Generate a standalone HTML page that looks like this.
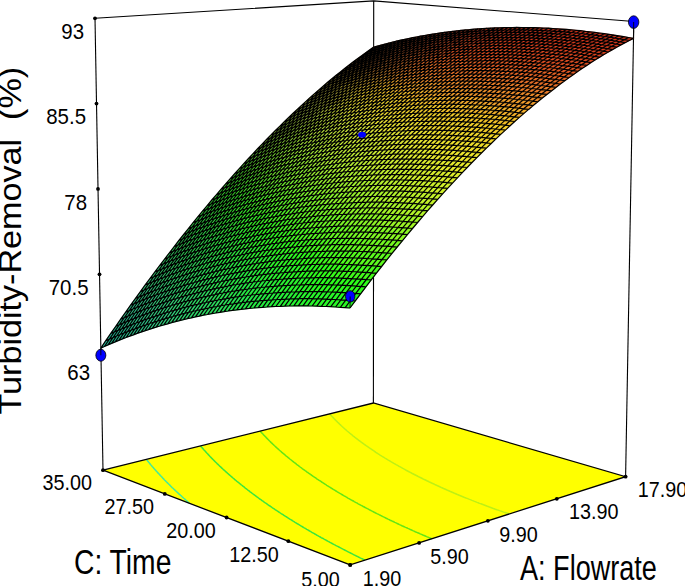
<!DOCTYPE html><html><head><meta charset="utf-8"><style>html,body{margin:0;padding:0;background:#fff;overflow:hidden}svg{display:block}</style></head><body><svg width="685" height="586" viewBox="0 0 685 586"><polygon points="350.2,564.9 103,470.2 373.4,403 625.6,476.7" fill="#ffff00"/><polyline points="189.7,503.4 189.2,503 188.5,502.4 187.8,501.8 187.6,501.6 187.1,501.2 186.5,500.6 185.8,500 185.5,499.8 185.1,499.4 184.5,498.8 183.8,498.3 183.5,498 183.1,497.7 182.5,497.1 181.8,496.5 181.6,496.3 181.2,495.9 180.5,495.3 179.9,494.7 179.7,494.6 179.2,494.2 178.6,493.6 178,493 177.9,492.9 177.3,492.4 176.7,491.8 176.1,491.2 176.1,491.2 175.5,490.7 174.9,490.1 174.4,489.6 174.3,489.5 173.6,488.9 173,488.3 172.7,488 172.4,487.8 171.8,487.2 171.2,486.6 171,486.4 170.6,486 170.1,485.4 169.5,484.9 169.4,484.8 168.9,484.3 168.3,483.7 167.9,483.3 167.7,483.1 167.2,482.6 166.6,482 166.3,481.7 166,481.4 165.5,480.8 164.9,480.3 164.8,480.2 164.3,479.7 163.8,479.1 163.4,478.7 163.2,478.6 162.7,478 162.1,477.4 162,477.2 161.6,476.8 161.1,476.3 160.6,475.8 160.5,475.7 160,475.1 159.5,474.6 159.3,474.3 159,474 158.4,473.4 157.9,472.9 157.9,472.9 157.4,472.3 156.9,471.7 156.7,471.5 156.4,471.2 155.9,470.6 155.4,470.1 155.4,470 154.9,469.5 154.4,468.9 154.2,468.7 153.9,468.4 153.4,467.8 153,467.4 152.9,467.2 152.4,466.7 151.9,466.1 151.8,466 151.5,465.6 151,465 150.7,464.7 150.5,464.4 150,463.9 149.6,463.3 149.6,463.3 149.1,462.8 148.7,462.2 148.5,462 148.2,461.6 147.7,461.1 147.5,460.7 147.3,460.5 146.8,460 146.4,459.5 146.4,459.4" fill="none" stroke="#46eb96" stroke-width="1.5"/><polyline points="365,560.2 363.8,559.6 362.6,559 361.3,558.4 360.1,557.8 359.6,557.5 358.9,557.2 357.7,556.6 356.4,556 355.2,555.4 354,554.8 352.8,554.2 351.7,553.6 350.5,553 350.5,553 349.3,552.4 348.1,551.8 346.9,551.2 345.8,550.6 344.6,550 343.4,549.4 342.5,548.9 342.3,548.8 341.1,548.2 340,547.6 338.9,547 337.7,546.4 336.6,545.9 335.5,545.3 335.3,545.2 334.3,544.7 333.2,544.1 332.1,543.5 331,542.9 329.9,542.3 328.8,541.7 328.7,541.6 327.7,541.1 326.6,540.5 325.5,539.9 324.4,539.3 323.4,538.7 322.6,538.3 322.3,538.2 321.2,537.6 320.2,537 319.1,536.4 318.1,535.8 317,535.2 316.9,535.2 316,534.6 314.9,534 313.9,533.4 312.8,532.8 311.8,532.3 311.6,532.1 310.8,531.7 309.8,531.1 308.8,530.5 307.8,529.9 306.7,529.3 306.7,529.3 305.7,528.7 304.7,528.1 303.8,527.6 302.8,527 302,526.5 301.8,526.4 300.8,525.8 299.8,525.2 298.9,524.6 297.9,524 297.6,523.8 296.9,523.5 296,522.9 295,522.3 294.1,521.7 293.4,521.3 293.1,521.1 292.2,520.5 291.2,519.9 290.3,519.4 289.4,518.8 289.4,518.8 288.4,518.2 287.5,517.6 286.6,517 285.7,516.5 285.6,516.4 284.8,515.9 283.9,515.3 283,514.7 282.1,514.1 281.9,514 281.2,513.6 280.3,513 279.4,512.4 278.5,511.8 278.4,511.8 277.6,511.2 276.8,510.7 275.9,510.1 275.1,509.6 275,509.5 274.2,508.9 273.3,508.3 272.5,507.8 271.9,507.4 271.6,507.2 270.8,506.6 269.9,506 269.1,505.5 268.8,505.3 268.2,504.9 267.4,504.3 266.6,503.7 265.8,503.2 265.8,503.2 264.9,502.6 264.1,502 263.3,501.5 263,501.2 262.5,500.9 261.7,500.3 260.9,499.7 260.2,499.2 260.1,499.2 259.3,498.6 258.5,498 257.8,497.4 257.6,497.3 257,496.9 256.2,496.3 255.4,495.7 255,495.4 254.7,495.2 253.9,494.6 253.1,494 252.5,493.6 252.4,493.5 251.6,492.9 250.9,492.3 250.1,491.8 250.1,491.8 249.4,491.2 248.6,490.6 247.9,490.1 247.8,490 247.2,489.5 246.4,488.9 245.7,488.4 245.5,488.2 245,487.8 244.3,487.2 243.6,486.7 243.3,486.5 242.9,486.1 242.2,485.5 241.5,485 241.2,484.8 240.8,484.4 240.1,483.9 239.4,483.3 239.2,483.1 238.7,482.7 238,482.2 237.3,481.6 237.2,481.5 236.6,481.1 236,480.5 235.3,479.9 235.2,479.9 234.6,479.4 234,478.8 233.3,478.3 233.3,478.3 232.7,477.7 232,477.1 231.5,476.7 231.4,476.6 230.7,476 230.1,475.5 229.7,475.2 229.4,474.9 228.8,474.4 228.2,473.8 228,473.7 227.5,473.2 226.9,472.7 226.3,472.2 226.3,472.1 225.7,471.6 225.1,471 224.7,470.7 224.5,470.5 223.8,469.9 223.2,469.4 223.1,469.2 222.6,468.8 222.1,468.3 221.5,467.8 221.5,467.7 220.9,467.2 220.3,466.6 220,466.3 219.7,466.1 219.1,465.5 218.5,465 218.5,464.9 218,464.4 217.4,463.9 217.1,463.6 216.8,463.3 216.3,462.8 215.7,462.2 215.7,462.2 215.2,461.7 214.6,461.1 214.3,460.8 214.1,460.6 213.5,460 213,459.5 213,459.5 212.4,458.9 211.9,458.4 211.7,458.2 211.4,457.9 210.9,457.3 210.4,456.9 210.3,456.8 209.8,456.2 209.3,455.7 209.2,455.6 208.8,455.1 208.3,454.6 208,454.3 207.8,454 207.3,453.5 206.8,453 206.8,453 206.3,452.4 205.8,451.9 205.7,451.8 205.3,451.3 204.8,450.8 204.5,450.5 204.3,450.3 203.8,449.7 203.4,449.3 203.3,449.2 202.9,448.6 202.4,448.1 202.4,448.1 201.9,447.6 201.5,447 201.3,446.9 201,446.5 200.5,446" fill="none" stroke="#3ce63c" stroke-width="1.5"/><polyline points="431.8,538.8 430.5,538.2 429.2,537.7 428.7,537.5 427.9,537.1 426.6,536.6 425.3,536 424.1,535.5 422.8,535 421.5,534.4 420.2,533.9 419,533.3 417.7,532.8 416.5,532.2 415.9,532 415.2,531.7 414,531.1 412.8,530.6 411.5,530 410.3,529.5 409.1,528.9 407.9,528.4 406.7,527.8 405.6,527.4 405.4,527.3 404.2,526.7 403.1,526.2 401.9,525.7 400.7,525.1 399.5,524.6 398.3,524 397.2,523.5 396.9,523.3 396,522.9 394.8,522.4 393.7,521.8 392.5,521.3 391.4,520.7 390.2,520.2 389.2,519.7 389.1,519.6 388,519.1 386.8,518.5 385.7,518 384.6,517.4 383.5,516.9 382.4,516.3 382.4,516.3 381.3,515.8 380.2,515.2 379.1,514.7 378,514.1 376.9,513.6 376.1,513.2 375.8,513.1 374.8,512.5 373.7,512 372.6,511.4 371.6,510.9 370.5,510.3 370.4,510.3 369.5,509.8 368.4,509.2 367.4,508.7 366.3,508.1 365.3,507.6 365.1,507.5 364.3,507 363.2,506.5 362.2,505.9 361.2,505.4 360.2,504.8 360.2,504.8 359.2,504.3 358.2,503.8 357.2,503.2 356.2,502.7 355.5,502.3 355.2,502.1 354.2,501.6 353.3,501 352.3,500.5 351.3,499.9 351.2,499.9 350.3,499.4 349.4,498.8 348.4,498.3 347.5,497.8 347.1,497.5 346.5,497.2 345.6,496.7 344.6,496.1 343.7,495.6 343.2,495.3 342.8,495 341.8,494.5 340.9,493.9 340,493.4 339.5,493.1 339.1,492.9 338.2,492.3 337.3,491.8 336.4,491.2 335.9,491 335.5,490.7 334.6,490.1 333.7,489.6 332.8,489.1 332.6,488.9 331.9,488.5 331.1,488 330.2,487.4 329.3,486.9 329.3,486.9 328.5,486.3 327.6,485.8 326.7,485.3 326.3,485 325.9,484.7 325,484.2 324.2,483.6 323.4,483.1 323.3,483.1 322.5,482.5 321.7,482 320.9,481.5 320.5,481.2 320.1,480.9 319.2,480.4 318.4,479.8 317.7,479.4 317.6,479.3 316.8,478.8 316,478.2 315.2,477.7 315.1,477.6 314.4,477.2 313.6,476.6 312.8,476.1 312.6,475.9 312.1,475.5 311.3,475 310.5,474.5 310.1,474.2 309.7,473.9 309,473.4 308.2,472.8 307.7,472.5 307.5,472.3 306.7,471.8 306,471.2 305.5,470.9 305.2,470.7 304.5,470.2 303.7,469.6 303.2,469.3 303,469.1 302.3,468.6 301.5,468 301.1,467.7 300.8,467.5 300.1,467 299.4,466.4 299,466.1 298.7,465.9 298,465.3 297.3,464.8 297,464.6 296.6,464.3 295.9,463.7 295.2,463.2 295.1,463.1 294.5,462.7 293.8,462.1 293.2,461.7 293.1,461.6 292.5,461.1 291.8,460.5 291.4,460.2 291.1,460 290.5,459.5 289.8,459 289.6,458.8 289.2,458.4 288.5,457.9 287.9,457.4 287.9,457.4 287.2,456.8 286.6,456.3 286.2,456 285.9,455.8 285.3,455.2 284.7,454.7 284.6,454.6 284.1,454.2 283.4,453.7 283,453.3 282.8,453.1 282.2,452.6 281.6,452.1 281.4,451.9 281,451.5 280.4,451 279.9,450.6 279.8,450.5 279.2,450 278.6,449.4 278.5,449.3 278,448.9 277.4,448.4 277.1,448 276.8,447.8 276.3,447.3 275.7,446.8 275.7,446.8 275.1,446.3 274.6,445.7 274.3,445.5 274,445.2 273.4,444.7 273,444.3 272.9,444.2 272.3,443.6 271.8,443.1 271.8,443.1 271.2,442.6 270.7,442.1 270.5,441.9 270.2,441.5 269.6,441 269.3,440.7 269.1,440.5 268.6,440 268.1,439.5 268.1,439.5 267.5,438.9 267,438.4 267,438.4 266.5,437.9 266,437.4 265.9,437.2 265.5,436.8 265,436.3 264.8,436.1 264.5,435.8 264,435.3 263.7,434.9 263.5,434.8 263.1,434.2 262.7,433.8 262.6,433.7 262.1,433.2 261.7,432.7 261.6,432.7 261.1,432.2 260.7,431.6 260.7,431.6 260.2,431.1" fill="none" stroke="#64e614" stroke-width="1.5"/><polyline points="509.3,514 507.9,513.5 506.5,513 505.1,512.5 503.7,512.1 502.3,511.6 501.5,511.3 500.9,511.1 499.5,510.6 498.2,510.1 496.8,509.7 495.4,509.2 494.1,508.7 492.7,508.2 491.4,507.7 490.1,507.2 488.8,506.8 487.4,506.3 486.1,505.8 484.8,505.3 483.5,504.8 482.2,504.3 480.9,503.8 479.6,503.4 478.3,502.9 478.3,502.8 477.1,502.4 475.8,501.9 474.5,501.4 473.3,500.9 472,500.4 470.8,499.9 469.5,499.4 468.3,498.9 467.1,498.4 465.9,498 465.4,497.8 464.6,497.5 463.4,497 462.2,496.5 461,496 459.8,495.5 458.6,495 457.4,494.5 456.3,494 455.6,493.7 455.1,493.5 453.9,493 452.8,492.5 451.6,492 450.4,491.5 449.3,491 448.2,490.5 447.4,490.2 447,490 445.9,489.5 444.8,489 443.6,488.5 442.5,488 441.4,487.5 440.4,487.1 440.3,487 439.2,486.5 438.1,486 437,485.5 435.9,485 434.8,484.5 434.2,484.2 433.8,484 432.7,483.5 431.6,483 430.6,482.5 429.5,482 428.6,481.6 428.5,481.5 427.4,481 426.4,480.5 425.4,480 424.3,479.5 423.4,479.1 423.3,479 422.3,478.5 421.3,478 420.3,477.5 419.2,477 418.7,476.7 418.2,476.5 417.3,476 416.3,475.5 415.3,475 414.3,474.5 414.3,474.5 413.3,474 412.3,473.5 411.4,473 410.4,472.5 410.2,472.3 409.5,472 408.5,471.5 407.6,471 406.6,470.5 406.3,470.3 405.7,470 404.8,469.4 403.8,468.9 402.9,468.4 402.7,468.3 402,467.9 401.1,467.4 400.2,466.9 399.3,466.4 399.2,466.4 398.4,465.9 397.5,465.4 396.6,464.9 396,464.6 395.7,464.4 394.8,463.9 393.9,463.4 393.1,462.9 392.9,462.8 392.2,462.4 391.3,461.9 390.5,461.4 389.9,461 389.6,460.9 388.8,460.3 387.9,459.8 387.1,459.3 387.1,459.3 386.3,458.8 385.4,458.3 384.6,457.8 384.4,457.7 383.8,457.3 383,456.8 382.2,456.3 381.8,456.1 381.3,455.8 380.5,455.3 379.7,454.8 379.3,454.5 379,454.3 378.2,453.8 377.4,453.3 376.9,453 376.6,452.8 375.8,452.3 375.1,451.7 374.6,451.5 374.3,451.2 373.5,450.7 372.8,450.2 372.4,450 372,449.7 371.3,449.2 370.5,448.7 370.3,448.6 369.8,448.2 369,447.7 368.3,447.2 368.3,447.1 367.6,446.7 366.9,446.2 366.3,445.8 366.1,445.7 365.4,445.2 364.7,444.7 364.4,444.4 364,444.2 363.3,443.6 362.6,443.1 362.5,443.1 361.9,442.6 361.2,442.1 360.7,441.7 360.6,441.6 359.9,441.1 359.2,440.6 359,440.5 358.5,440.1 357.9,439.6 357.3,439.2 357.2,439.1 356.6,438.6 355.9,438.1 355.7,437.9 355.3,437.6 354.6,437.1 354.1,436.7 354,436.6 353.3,436.1 352.7,435.6 352.6,435.5 352.1,435 351.5,434.5 351.1,434.3 350.8,434 350.2,433.5 349.7,433.1 349.6,433 349,432.5 348.4,432 348.3,431.9 347.8,431.5 347.2,431 347,430.8 346.6,430.5 346.1,430 345.7,429.6 345.5,429.5 344.9,429 344.4,428.5 344.3,428.5 343.8,428 343.2,427.5 343.1,427.4 342.7,427 342.1,426.5 341.9,426.3 341.6,426 341,425.5 340.8,425.2 340.5,424.9 339.9,424.4 339.7,424.2 339.4,423.9 338.9,423.4 338.6,423.1 338.4,422.9 337.8,422.4 337.5,422.1 337.3,421.9 336.8,421.4 336.4,421 336.3,420.9 335.8,420.4 335.4,420 335.3,419.9 334.8,419.4 334.5,419 334.3,418.9 333.8,418.4 333.5,418 333.4,417.9 332.9,417.4 332.6,417 332.4,416.9 332,416.4 331.7,416.1 331.5,415.9 331,415.4 330.8,415.1 330.6,414.9 330.1,414.4 329.9,414.1 329.7,413.9" fill="none" stroke="#bef014" stroke-width="1.5"/><polygon points="350.2,564.9 103,470.2 373.4,403 625.6,476.7" fill="none" stroke="#000" stroke-width="1.3"/><line x1="103" y1="470.2" x2="95" y2="18.3" stroke="#000" stroke-width="1.1"/><line x1="373.4" y1="403" x2="373.7" y2="0.9" stroke="#000" stroke-width="1.1"/><line x1="625.6" y1="476.7" x2="633.8" y2="21.5" stroke="#000" stroke-width="1.1"/><polyline points="95,18.3 373.7,0.9 633.8,21.5" fill="none" stroke="#000" stroke-width="1.1"/><circle cx="350.2" cy="564.9" r="1.9" fill="#000"/><circle cx="350.2" cy="564.9" r="1.9" fill="#000"/><circle cx="288.4" cy="541.2" r="1.9" fill="#000"/><circle cx="419.1" cy="542.9" r="1.9" fill="#000"/><circle cx="226.6" cy="517.5" r="1.9" fill="#000"/><circle cx="487.9" cy="520.8" r="1.9" fill="#000"/><circle cx="164.8" cy="493.9" r="1.9" fill="#000"/><circle cx="556.8" cy="498.8" r="1.9" fill="#000"/><circle cx="103" cy="470.2" r="1.9" fill="#000"/><circle cx="625.6" cy="476.7" r="1.9" fill="#000"/><circle cx="99.5" cy="274.3" r="1.9" fill="#000"/><circle cx="98" cy="188.9" r="1.9" fill="#000"/><circle cx="96.5" cy="103.6" r="1.9" fill="#000"/><circle cx="95" cy="18.3" r="1.9" fill="#000"/><path d="M373 50.7 381.3 45 373.7 47.1 365.4 52.9Z" fill="#7b4626" stroke="#7b4626" stroke-width="0.6"/><path d="M364.7 56.8 373 50.7 365.4 52.9 357.1 58.9Z" fill="#7e4d29" stroke="#7e4d29" stroke-width="0.6"/><path d="M380.7 48.7 389 43 381.3 45 373 50.7Z" fill="#7a4225" stroke="#7a4225" stroke-width="0.6"/><path d="M356.4 63 364.7 56.8 357.1 58.9 348.8 65.3Z" fill="#81552b" stroke="#81552b" stroke-width="0.6"/><path d="M372.4 54.7 380.7 48.7 373 50.7 364.7 56.8Z" fill="#7d4928" stroke="#7d4928" stroke-width="0.6"/><path d="M388.5 46.8 396.7 41.1 389 43 380.7 48.7Z" fill="#783e24" stroke="#783e24" stroke-width="0.6"/><path d="M348 69.6 356.4 63 348.8 65.3 340.4 71.9Z" fill="#87642f" stroke="#87642f" stroke-width="0.6"/><path d="M364 60.9 372.4 54.7 364.7 56.8 356.4 63Z" fill="#80512a" stroke="#80512a" stroke-width="0.6"/><path d="M380.2 52.7 388.5 46.8 380.7 48.7 372.4 54.7Z" fill="#7b4526" stroke="#7b4526" stroke-width="0.6"/><path d="M396.3 45 404.6 39.4 396.7 41.1 388.5 46.8Z" fill="#773a22" stroke="#773a22" stroke-width="0.6"/><path d="M339.5 76.5 348 69.6 340.4 71.9 331.9 78.8Z" fill="#907732" stroke="#907732" stroke-width="0.6"/><path d="M355.6 67.4 364 60.9 356.4 63 348 69.6Z" fill="#8b612d" stroke="#8b612d" stroke-width="0.6"/><path d="M371.8 58.9 380.2 52.7 372.4 54.7 364 60.9Z" fill="#844f2a" stroke="#844f2a" stroke-width="0.6"/><path d="M388 50.8 396.3 45 388.5 46.8 380.2 52.7Z" fill="#7d4325" stroke="#7d4325" stroke-width="0.6"/><path d="M404.2 43.3 412.5 37.7 404.6 39.4 396.3 45Z" fill="#763721" stroke="#763721" stroke-width="0.6"/><path d="M330.9 83.6 339.5 76.5 331.9 78.8 323.4 86Z" fill="#978736" stroke="#978736" stroke-width="0.6"/><path d="M347.1 74.2 355.6 67.4 348 69.6 339.5 76.5Z" fill="#947431" stroke="#947431" stroke-width="0.6"/><path d="M363.3 65.4 371.8 58.9 364 60.9 355.6 67.4Z" fill="#8f5c2c" stroke="#8f5c2c" stroke-width="0.6"/><path d="M379.6 57 388 50.8 380.2 52.7 371.8 58.9Z" fill="#884e29" stroke="#884e29" stroke-width="0.6"/><path d="M395.8 49.1 404.2 43.3 396.3 45 388 50.8Z" fill="#814124" stroke="#814124" stroke-width="0.6"/><path d="M322.4 91 330.9 83.6 323.4 86 314.8 93.4Z" fill="#9d943b" stroke="#9d943b" stroke-width="0.6"/><path d="M412.1 41.7 420.4 36.2 412.5 37.7 404.2 43.3Z" fill="#7a3621" stroke="#7a3621" stroke-width="0.6"/><path d="M338.6 81.3 347.1 74.2 339.5 76.5 330.9 83.6Z" fill="#9e8834" stroke="#9e8834" stroke-width="0.6"/><path d="M354.8 72.1 363.3 65.4 355.6 67.4 347.1 74.2Z" fill="#997030" stroke="#997030" stroke-width="0.6"/><path d="M371.1 63.4 379.6 57 371.8 58.9 363.3 65.4Z" fill="#935a2b" stroke="#935a2b" stroke-width="0.6"/><path d="M387.4 55.2 395.8 49.1 388 50.8 379.6 57Z" fill="#8c4c28" stroke="#8c4c28" stroke-width="0.6"/><path d="M313.7 98.7 322.4 91 314.8 93.4 306.2 101.1Z" fill="#9fa03f" stroke="#9fa03f" stroke-width="0.6"/><path d="M403.8 47.5 412.1 41.7 404.2 43.3 395.8 49.1Z" fill="#853f23" stroke="#853f23" stroke-width="0.6"/><path d="M330 88.7 338.6 81.3 330.9 83.6 322.4 91Z" fill="#a39638" stroke="#a39638" stroke-width="0.6"/><path d="M420.1 40.2 428.4 34.8 420.4 36.2 412.1 41.7Z" fill="#7e3620" stroke="#7e3620" stroke-width="0.6"/><path d="M346.3 79.1 354.8 72.1 347.1 74.2 338.6 81.3Z" fill="#a38532" stroke="#a38532" stroke-width="0.6"/><path d="M362.6 70.1 371.1 63.4 363.3 65.4 354.8 72.1Z" fill="#9e6b2f" stroke="#9e6b2f" stroke-width="0.6"/><path d="M379 61.6 387.4 55.2 379.6 57 371.1 63.4Z" fill="#97582b" stroke="#97582b" stroke-width="0.6"/><path d="M305 106.6 313.7 98.7 306.2 101.1 297.5 109.2Z" fill="#97a541" stroke="#97a541" stroke-width="0.6"/><path d="M395.4 53.5 403.8 47.5 395.8 49.1 387.4 55.2Z" fill="#904a27" stroke="#904a27" stroke-width="0.6"/><path d="M321.3 96.3 330 88.7 322.4 91 313.7 98.7Z" fill="#a9a43e" stroke="#a9a43e" stroke-width="0.6"/><path d="M411.8 46 420.1 40.2 412.1 41.7 403.8 47.5Z" fill="#893d22" stroke="#893d22" stroke-width="0.6"/><path d="M337.7 86.5 346.3 79.1 338.6 81.3 330 88.7Z" fill="#aa9636" stroke="#aa9636" stroke-width="0.6"/><path d="M428.2 38.9 436.5 33.5 428.4 34.8 420.1 40.2Z" fill="#813520" stroke="#813520" stroke-width="0.6"/><path d="M354.1 77.1 362.6 70.1 354.8 72.1 346.3 79.1Z" fill="#a88131" stroke="#a88131" stroke-width="0.6"/><path d="M296.2 114.9 305 106.6 297.5 109.2 288.7 117.5Z" fill="#91ab42" stroke="#91ab42" stroke-width="0.6"/><path d="M370.5 68.2 379 61.6 371.1 63.4 362.6 70.1Z" fill="#a2672d" stroke="#a2672d" stroke-width="0.6"/><path d="M386.9 59.8 395.4 53.5 387.4 55.2 379 61.6Z" fill="#9c572a" stroke="#9c572a" stroke-width="0.6"/><path d="M312.6 104.2 321.3 96.3 313.7 98.7 305 106.6Z" fill="#a3ac41" stroke="#a3ac41" stroke-width="0.6"/><path d="M403.4 52 411.8 46 403.8 47.5 395.4 53.5Z" fill="#944826" stroke="#944826" stroke-width="0.6"/><path d="M329 94 337.7 86.5 330 88.7 321.3 96.3Z" fill="#afa53b" stroke="#afa53b" stroke-width="0.6"/><path d="M419.9 44.6 428.2 38.9 420.1 40.2 411.8 46Z" fill="#8d3c22" stroke="#8d3c22" stroke-width="0.6"/><path d="M345.4 84.4 354.1 77.1 346.3 79.1 337.7 86.5Z" fill="#b19733" stroke="#b19733" stroke-width="0.6"/><path d="M436.4 37.7 444.7 32.3 436.5 33.5 428.2 38.9Z" fill="#85341f" stroke="#85341f" stroke-width="0.6"/><path d="M287.4 123.5 296.2 114.9 288.7 117.5 279.9 126.1Z" fill="#8cb240" stroke="#8cb240" stroke-width="0.6"/><path d="M361.9 75.1 370.5 68.2 362.6 70.1 354.1 77.1Z" fill="#ad7d31" stroke="#ad7d31" stroke-width="0.6"/><path d="M303.8 112.4 312.6 104.2 305 106.6 296.2 114.9Z" fill="#9ab142" stroke="#9ab142" stroke-width="0.6"/><path d="M378.4 66.4 386.9 59.8 379 61.6 370.5 68.2Z" fill="#a7642c" stroke="#a7642c" stroke-width="0.6"/><path d="M394.9 58.2 403.4 52 395.4 53.5 386.9 59.8Z" fill="#a05529" stroke="#a05529" stroke-width="0.6"/><path d="M320.3 101.9 329 94 321.3 96.3 312.6 104.2Z" fill="#b0b240" stroke="#b0b240" stroke-width="0.6"/><path d="M411.5 50.5 419.9 44.6 411.8 46 403.4 52Z" fill="#994625" stroke="#994625" stroke-width="0.6"/><path d="M336.7 91.9 345.4 84.4 337.7 86.5 329 94Z" fill="#b6a638" stroke="#b6a638" stroke-width="0.6"/><path d="M428 43.3 436.4 37.7 428.2 38.9 419.9 44.6Z" fill="#913b21" stroke="#913b21" stroke-width="0.6"/><path d="M278.5 132.3 287.4 123.5 279.9 126.1 271 134.9Z" fill="#84b73e" stroke="#84b73e" stroke-width="0.6"/><path d="M353.3 82.4 361.9 75.1 354.1 77.1 345.4 84.4Z" fill="#b69432" stroke="#b69432" stroke-width="0.6"/><path d="M444.6 36.6 452.9 31.3 444.7 32.3 436.4 37.7Z" fill="#89331f" stroke="#89331f" stroke-width="0.6"/><path d="M295 121 303.8 112.4 296.2 114.9 287.4 123.5Z" fill="#96b842" stroke="#96b842" stroke-width="0.6"/><path d="M369.8 73.3 378.4 66.4 370.5 68.2 361.9 75.1Z" fill="#b2782f" stroke="#b2782f" stroke-width="0.6"/><path d="M386.4 64.8 394.9 58.2 386.9 59.8 378.4 66.4Z" fill="#ac622c" stroke="#ac622c" stroke-width="0.6"/><path d="M311.5 110.1 320.3 101.9 312.6 104.2 303.8 112.4Z" fill="#a6b741" stroke="#a6b741" stroke-width="0.6"/><path d="M403 56.7 411.5 50.5 403.4 52 394.9 58.2Z" fill="#a45328" stroke="#a45328" stroke-width="0.6"/><path d="M328 99.7 336.7 91.9 329 94 320.3 101.9Z" fill="#bbb53e" stroke="#bbb53e" stroke-width="0.6"/><path d="M419.6 49.2 428 43.3 419.9 44.6 411.5 50.5Z" fill="#9d4424" stroke="#9d4424" stroke-width="0.6"/><path d="M269.5 141.4 278.5 132.3 271 134.9 262.1 144.1Z" fill="#7abd3b" stroke="#7abd3b" stroke-width="0.6"/><path d="M344.6 89.9 353.3 82.4 345.4 84.4 336.7 91.9Z" fill="#bda735" stroke="#bda735" stroke-width="0.6"/><path d="M436.3 42.1 444.6 36.6 436.4 37.7 428 43.3Z" fill="#953b21" stroke="#953b21" stroke-width="0.6"/><path d="M286.1 129.8 295 121 287.4 123.5 278.5 132.3Z" fill="#8dbe3f" stroke="#8dbe3f" stroke-width="0.6"/><path d="M361.2 80.5 369.8 73.3 361.9 75.1 353.3 82.4Z" fill="#bc9031" stroke="#bc9031" stroke-width="0.6"/><path d="M452.9 35.6 461.2 30.4 452.9 31.3 444.6 36.6Z" fill="#8d331e" stroke="#8d331e" stroke-width="0.6"/><path d="M302.6 118.6 311.5 110.1 303.8 112.4 295 121Z" fill="#9fbe42" stroke="#9fbe42" stroke-width="0.6"/><path d="M377.8 71.6 386.4 64.8 378.4 66.4 369.8 73.3Z" fill="#b7732d" stroke="#b7732d" stroke-width="0.6"/><path d="M394.4 63.2 403 56.7 394.9 58.2 386.4 64.8Z" fill="#b0602b" stroke="#b0602b" stroke-width="0.6"/><path d="M319.2 107.9 328 99.7 320.3 101.9 311.5 110.1Z" fill="#b3bd40" stroke="#b3bd40" stroke-width="0.6"/><path d="M260.5 150.9 269.5 141.4 262.1 144.1 253.1 153.6Z" fill="#6ec239" stroke="#6ec239" stroke-width="0.6"/><path d="M411.1 55.3 419.6 49.2 411.5 50.5 403 56.7Z" fill="#a95026" stroke="#a95026" stroke-width="0.6"/><path d="M335.8 97.7 344.6 89.9 336.7 91.9 328 99.7Z" fill="#c2b73b" stroke="#c2b73b" stroke-width="0.6"/><path d="M427.8 48 436.3 42.1 428 43.3 419.6 49.2Z" fill="#a14223" stroke="#a14223" stroke-width="0.6"/><path d="M277.1 138.9 286.1 129.8 278.5 132.3 269.5 141.4Z" fill="#83c33c" stroke="#83c33c" stroke-width="0.6"/><path d="M352.5 88 361.2 80.5 353.3 82.4 344.6 89.9Z" fill="#c4a732" stroke="#c4a732" stroke-width="0.6"/><path d="M444.6 41.1 452.9 35.6 444.6 36.6 436.3 42.1Z" fill="#993a20" stroke="#993a20" stroke-width="0.6"/><path d="M293.7 127.3 302.6 118.6 295 121 286.1 129.8Z" fill="#98c440" stroke="#98c440" stroke-width="0.6"/><path d="M369.1 78.7 377.8 71.6 369.8 73.3 361.2 80.5Z" fill="#c18b30" stroke="#c18b30" stroke-width="0.6"/><path d="M461.3 34.7 469.6 29.6 461.2 30.4 452.9 35.6Z" fill="#91321e" stroke="#91321e" stroke-width="0.6"/><path d="M385.8 70 394.4 63.2 386.4 64.8 377.8 71.6Z" fill="#bc6f2c" stroke="#bc6f2c" stroke-width="0.6"/><path d="M310.3 116.3 319.2 107.9 311.5 110.1 302.6 118.6Z" fill="#a7c342" stroke="#a7c342" stroke-width="0.6"/><path d="M251.5 160.6 260.5 150.9 253.1 153.6 244 163.4Z" fill="#61c736" stroke="#61c736" stroke-width="0.6"/><path d="M402.6 61.8 411.1 55.3 403 56.7 394.4 63.2Z" fill="#b55e29" stroke="#b55e29" stroke-width="0.6"/><path d="M327 105.8 335.8 97.7 328 99.7 319.2 107.9Z" fill="#c0c33f" stroke="#c0c33f" stroke-width="0.6"/><path d="M268.1 148.3 277.1 138.9 269.5 141.4 260.5 150.9Z" fill="#78c939" stroke="#78c939" stroke-width="0.6"/><path d="M419.3 54.1 427.8 48 419.6 49.2 411.1 55.3Z" fill="#ae4e25" stroke="#ae4e25" stroke-width="0.6"/><path d="M343.7 95.7 352.5 88 344.6 89.9 335.8 97.7Z" fill="#c9b837" stroke="#c9b837" stroke-width="0.6"/><path d="M436.1 46.9 444.6 41.1 436.3 42.1 427.8 48Z" fill="#a64222" stroke="#a64222" stroke-width="0.6"/><path d="M284.7 136.4 293.7 127.3 286.1 129.8 277.1 138.9Z" fill="#8dca3d" stroke="#8dca3d" stroke-width="0.6"/><path d="M360.4 86.1 369.1 78.7 361.2 80.5 352.5 88Z" fill="#caa530" stroke="#caa530" stroke-width="0.6"/><path d="M452.9 40.2 461.3 34.7 452.9 35.6 444.6 41.1Z" fill="#9d3920" stroke="#9d3920" stroke-width="0.6"/><path d="M301.4 125 310.3 116.3 302.6 118.6 293.7 127.3Z" fill="#a2ca40" stroke="#a2ca40" stroke-width="0.6"/><path d="M377.2 77.1 385.8 70 377.8 71.6 369.1 78.7Z" fill="#c7862f" stroke="#c7862f" stroke-width="0.6"/><path d="M469.7 34 478.1 28.9 469.6 29.6 461.3 34.7Z" fill="#95311d" stroke="#95311d" stroke-width="0.6"/><path d="M242.3 170.7 251.5 160.6 244 163.4 234.9 173.5Z" fill="#53cd32" stroke="#53cd32" stroke-width="0.6"/><path d="M394 68.5 402.6 61.8 394.4 63.2 385.8 70Z" fill="#c16d2c" stroke="#c16d2c" stroke-width="0.6"/><path d="M318.1 114.1 327 105.8 319.2 107.9 310.3 116.3Z" fill="#b3c940" stroke="#b3c940" stroke-width="0.6"/><path d="M259 158 268.1 148.3 260.5 150.9 251.5 160.6Z" fill="#6ace36" stroke="#6ace36" stroke-width="0.6"/><path d="M410.8 60.5 419.3 54.1 411.1 55.3 402.6 61.8Z" fill="#ba5c28" stroke="#ba5c28" stroke-width="0.6"/><path d="M334.9 103.7 343.7 95.7 335.8 97.7 327 105.8Z" fill="#cdc83d" stroke="#cdc83d" stroke-width="0.6"/><path d="M427.6 53 436.1 46.9 427.8 48 419.3 54.1Z" fill="#b24c24" stroke="#b24c24" stroke-width="0.6"/><path d="M275.7 145.8 284.7 136.4 277.1 138.9 268.1 148.3Z" fill="#82d03a" stroke="#82d03a" stroke-width="0.6"/><path d="M351.6 93.9 360.4 86.1 352.5 88 343.7 95.7Z" fill="#d0b834" stroke="#d0b834" stroke-width="0.6"/><path d="M444.5 45.9 452.9 40.2 444.6 41.1 436.1 46.9Z" fill="#aa4121" stroke="#aa4121" stroke-width="0.6"/><path d="M292.4 134.1 301.4 125 293.7 127.3 284.7 136.4Z" fill="#98d03d" stroke="#98d03d" stroke-width="0.6"/><path d="M368.4 84.5 377.2 77.1 369.1 78.7 360.4 86.1Z" fill="#d0a12f" stroke="#d0a12f" stroke-width="0.6"/><path d="M233.1 181 242.3 170.7 234.9 173.5 225.7 183.9Z" fill="#43d32f" stroke="#43d32f" stroke-width="0.6"/><path d="M461.4 39.4 469.7 34 461.3 34.7 452.9 40.2Z" fill="#a1381f" stroke="#a1381f" stroke-width="0.6"/><path d="M478.3 33.4 486.6 28.3 478.1 28.9 469.7 34Z" fill="#99311d" stroke="#99311d" stroke-width="0.6"/><path d="M309.2 122.8 318.1 114.1 310.3 116.3 301.4 125Z" fill="#abd040" stroke="#abd040" stroke-width="0.6"/><path d="M385.3 75.6 394 68.5 385.8 70 377.2 77.1Z" fill="#cc812d" stroke="#cc812d" stroke-width="0.6"/><path d="M249.8 168 259 158 251.5 160.6 242.3 170.7Z" fill="#5cd533" stroke="#5cd533" stroke-width="0.6"/><path d="M402.2 67.2 410.8 60.5 402.6 61.8 394 68.5Z" fill="#c66b2b" stroke="#c66b2b" stroke-width="0.6"/><path d="M326 112.1 334.9 103.7 327 105.8 318.1 114.1Z" fill="#c1d03f" stroke="#c1d03f" stroke-width="0.6"/><path d="M266.6 155.4 275.7 145.8 268.1 148.3 259 158Z" fill="#75d636" stroke="#75d636" stroke-width="0.6"/><path d="M419.1 59.3 427.6 53 419.3 54.1 410.8 60.5Z" fill="#bf5a27" stroke="#bf5a27" stroke-width="0.6"/><path d="M342.8 101.9 351.6 93.9 343.7 95.7 334.9 103.7Z" fill="#d4c939" stroke="#d4c939" stroke-width="0.6"/><path d="M436 52 444.5 45.9 436.1 46.9 427.6 53Z" fill="#b74a23" stroke="#b74a23" stroke-width="0.6"/><path d="M283.3 143.4 292.4 134.1 284.7 136.4 275.7 145.8Z" fill="#8dd73a" stroke="#8dd73a" stroke-width="0.6"/><path d="M223.9 191.7 233.1 181 225.7 183.9 216.5 194.6Z" fill="#3ad731" stroke="#3ad731" stroke-width="0.6"/><path d="M359.7 92.1 368.4 84.5 360.4 86.1 351.6 93.9Z" fill="#d8b931" stroke="#d8b931" stroke-width="0.6"/><path d="M452.9 45.1 461.4 39.4 452.9 40.2 444.5 45.9Z" fill="#ae4021" stroke="#ae4021" stroke-width="0.6"/><path d="M300.2 131.8 309.2 122.8 301.4 125 292.4 134.1Z" fill="#a4d83e" stroke="#a4d83e" stroke-width="0.6"/><path d="M376.6 82.9 385.3 75.6 377.2 77.1 368.4 84.5Z" fill="#d69c2f" stroke="#d69c2f" stroke-width="0.6"/><path d="M469.9 38.8 478.3 33.4 469.7 34 461.4 39.4Z" fill="#a6371e" stroke="#a6371e" stroke-width="0.6"/><path d="M240.6 178.3 249.8 168 242.3 170.7 233.1 181Z" fill="#4ddb2f" stroke="#4ddb2f" stroke-width="0.6"/><path d="M486.9 32.9 495.2 27.9 486.6 28.3 478.3 33.4Z" fill="#9e301d" stroke="#9e301d" stroke-width="0.6"/><path d="M393.5 74.2 402.2 67.2 394 68.5 385.3 75.6Z" fill="#d27b2c" stroke="#d27b2c" stroke-width="0.6"/><path d="M317 120.7 326 112.1 318.1 114.1 309.2 122.8Z" fill="#b6d63f" stroke="#b6d63f" stroke-width="0.6"/><path d="M257.4 165.4 266.6 155.4 259 158 249.8 168Z" fill="#67dc33" stroke="#67dc33" stroke-width="0.6"/><path d="M410.4 66 419.1 59.3 410.8 60.5 402.2 67.2Z" fill="#cb692a" stroke="#cb692a" stroke-width="0.6"/><path d="M333.9 110.2 342.8 101.9 334.9 103.7 326 112.1Z" fill="#d1d63c" stroke="#d1d63c" stroke-width="0.6"/><path d="M274.2 153 283.3 143.4 275.7 145.8 266.6 155.4Z" fill="#81dd36" stroke="#81dd36" stroke-width="0.6"/><path d="M427.4 58.3 436 52 427.6 53 419.1 59.3Z" fill="#c45726" stroke="#c45726" stroke-width="0.6"/><path d="M214.6 202.7 223.9 191.7 216.5 194.6 207.2 205.6Z" fill="#37d938" stroke="#37d938" stroke-width="0.6"/><path d="M350.8 100.1 359.7 92.1 351.6 93.9 342.8 101.9Z" fill="#dcca35" stroke="#dcca35" stroke-width="0.6"/><path d="M444.4 51.1 452.9 45.1 444.5 45.9 436 52Z" fill="#bc4822" stroke="#bc4822" stroke-width="0.6"/><path d="M291.1 141.1 300.2 131.8 292.4 134.1 283.3 143.4Z" fill="#99de3a" stroke="#99de3a" stroke-width="0.6"/><path d="M231.3 189 240.6 178.3 233.1 181 223.9 191.7Z" fill="#3be12b" stroke="#3be12b" stroke-width="0.6"/><path d="M367.8 90.5 376.6 82.9 368.4 84.5 359.7 92.1Z" fill="#dfb82d" stroke="#dfb82d" stroke-width="0.6"/><path d="M461.4 44.4 469.9 38.8 461.4 39.4 452.9 45.1Z" fill="#b33f20" stroke="#b33f20" stroke-width="0.6"/><path d="M308 129.7 317 120.7 309.2 122.8 300.2 131.8Z" fill="#b1de3d" stroke="#b1de3d" stroke-width="0.6"/><path d="M478.5 38.2 486.9 32.9 478.3 33.4 469.9 38.8Z" fill="#aa361e" stroke="#aa361e" stroke-width="0.6"/><path d="M384.7 81.5 393.5 74.2 385.3 75.6 376.6 82.9Z" fill="#dd972e" stroke="#dd972e" stroke-width="0.6"/><path d="M248.2 175.7 257.4 165.4 249.8 168 240.6 178.3Z" fill="#57e32f" stroke="#57e32f" stroke-width="0.6"/><path d="M495.5 32.6 503.8 27.6 495.2 27.9 486.9 32.9Z" fill="#a2301c" stroke="#a2301c" stroke-width="0.6"/><path d="M401.7 72.9 410.4 66 402.2 67.2 393.5 74.2Z" fill="#d8792b" stroke="#d8792b" stroke-width="0.6"/><path d="M324.9 118.8 333.9 110.2 326 112.1 317 120.7Z" fill="#c3dd3d" stroke="#c3dd3d" stroke-width="0.6"/><path d="M265 163 274.2 153 266.6 155.4 257.4 165.4Z" fill="#72e433" stroke="#72e433" stroke-width="0.6"/><path d="M205.2 214 214.6 202.7 207.2 205.6 197.8 216.9Z" fill="#34db40" stroke="#34db40" stroke-width="0.6"/><path d="M418.8 64.9 427.4 58.3 419.1 59.3 410.4 66Z" fill="#d16628" stroke="#d16628" stroke-width="0.6"/><path d="M341.9 108.3 350.8 100.1 342.8 101.9 333.9 110.2Z" fill="#e0dc3a" stroke="#e0dc3a" stroke-width="0.6"/><path d="M435.8 57.3 444.4 51.1 436 52 427.4 58.3Z" fill="#c95524" stroke="#c95524" stroke-width="0.6"/><path d="M281.9 150.7 291.1 141.1 283.3 143.4 274.2 153Z" fill="#8ce436" stroke="#8ce436" stroke-width="0.6"/><path d="M222 199.9 231.3 189 223.9 191.7 214.6 202.7Z" fill="#38e132" stroke="#38e132" stroke-width="0.6"/><path d="M358.9 98.4 367.8 90.5 359.7 92.1 350.8 100.1Z" fill="#e4cb31" stroke="#e4cb31" stroke-width="0.6"/><path d="M452.9 50.3 461.4 44.4 452.9 45.1 444.4 51.1Z" fill="#c14821" stroke="#c14821" stroke-width="0.6"/><path d="M298.9 138.9 308 129.7 300.2 131.8 291.1 141.1Z" fill="#a5e33a" stroke="#a5e33a" stroke-width="0.6"/><path d="M375.9 89 384.7 81.5 376.6 82.9 367.8 90.5Z" fill="#e6b32c" stroke="#e6b32c" stroke-width="0.6"/><path d="M238.9 186.3 248.2 175.7 240.6 178.3 231.3 189Z" fill="#45e52c" stroke="#45e52c" stroke-width="0.6"/><path d="M470 43.8 478.5 38.2 469.9 38.8 461.4 44.4Z" fill="#b83e1f" stroke="#b83e1f" stroke-width="0.6"/><path d="M487.1 37.8 495.5 32.6 486.9 32.9 478.5 38.2Z" fill="#af361d" stroke="#af361d" stroke-width="0.6"/><path d="M315.9 127.7 324.9 118.8 317 120.7 308 129.7Z" fill="#bae23c" stroke="#bae23c" stroke-width="0.6"/><path d="M393 80.1 401.7 72.9 393.5 74.2 384.7 81.5Z" fill="#e3912c" stroke="#e3912c" stroke-width="0.6"/><path d="M195.7 225.6 205.2 214 197.8 216.9 188.4 228.6Z" fill="#31d848" stroke="#31d848" stroke-width="0.6"/><path d="M255.8 173.2 265 163 257.4 165.4 248.2 175.7Z" fill="#61e530" stroke="#61e530" stroke-width="0.6"/><path d="M504.3 32.4 512.6 27.5 503.8 27.6 495.5 32.6Z" fill="#a7301c" stroke="#a7301c" stroke-width="0.6"/><path d="M410.1 71.8 418.8 64.9 410.4 66 401.7 72.9Z" fill="#dd772a" stroke="#dd772a" stroke-width="0.6"/><path d="M332.9 116.9 341.9 108.3 333.9 110.2 324.9 118.8Z" fill="#d0e13b" stroke="#d0e13b" stroke-width="0.6"/><path d="M272.7 160.6 281.9 150.7 274.2 153 265 163Z" fill="#7ce434" stroke="#7ce434" stroke-width="0.6"/><path d="M212.6 211.2 222 199.9 214.6 202.7 205.2 214Z" fill="#35de3a" stroke="#35de3a" stroke-width="0.6"/><path d="M427.2 63.9 435.8 57.3 427.4 58.3 418.8 64.9Z" fill="#d66427" stroke="#d66427" stroke-width="0.6"/><path d="M350 106.6 358.9 98.4 350.8 100.1 341.9 108.3Z" fill="#e6db36" stroke="#e6db36" stroke-width="0.6"/><path d="M444.3 56.5 452.9 50.3 444.4 51.1 435.8 57.3Z" fill="#ce5323" stroke="#ce5323" stroke-width="0.6"/><path d="M289.7 148.5 298.9 138.9 291.1 141.1 281.9 150.7Z" fill="#95e437" stroke="#95e437" stroke-width="0.6"/><path d="M229.5 197.2 238.9 186.3 231.3 189 222 199.9Z" fill="#39e42d" stroke="#39e42d" stroke-width="0.6"/><path d="M367 96.9 375.9 89 367.8 90.5 358.9 98.4Z" fill="#ebca2d" stroke="#ebca2d" stroke-width="0.6"/><path d="M461.5 49.7 470 43.8 461.4 44.4 452.9 50.3Z" fill="#c54721" stroke="#c54721" stroke-width="0.6"/><path d="M306.8 136.9 315.9 127.7 308 129.7 298.9 138.9Z" fill="#aee43b" stroke="#aee43b" stroke-width="0.6"/><path d="M384.2 87.7 393 80.1 384.7 81.5 375.9 89Z" fill="#ecae2b" stroke="#ecae2b" stroke-width="0.6"/><path d="M478.7 43.4 487.1 37.8 478.5 38.2 470 43.8Z" fill="#bc3d1f" stroke="#bc3d1f" stroke-width="0.6"/><path d="M186.2 237.5 195.7 225.6 188.4 228.6 178.9 240.5Z" fill="#32d551" stroke="#32d551" stroke-width="0.6"/><path d="M246.5 183.8 255.8 173.2 248.2 175.7 238.9 186.3Z" fill="#4fe52d" stroke="#4fe52d" stroke-width="0.6"/><path d="M495.9 37.6 504.3 32.4 495.5 32.6 487.1 37.8Z" fill="#b3351d" stroke="#b3351d" stroke-width="0.6"/><path d="M401.3 78.9 410.1 71.8 401.7 72.9 393 80.1Z" fill="#e98c2a" stroke="#e98c2a" stroke-width="0.6"/><path d="M323.9 125.8 332.9 116.9 324.9 118.8 315.9 127.7Z" fill="#c0e23c" stroke="#c0e23c" stroke-width="0.6"/><path d="M513.1 32.3 521.4 27.5 512.6 27.5 504.3 32.4Z" fill="#ab301c" stroke="#ab301c" stroke-width="0.6"/><path d="M203.2 222.8 212.6 211.2 205.2 214 195.7 225.6Z" fill="#32db43" stroke="#32db43" stroke-width="0.6"/><path d="M263.5 170.8 272.7 160.6 265 163 255.8 173.2Z" fill="#6be531" stroke="#6be531" stroke-width="0.6"/><path d="M418.5 70.7 427.2 63.9 418.8 64.9 410.1 71.8Z" fill="#e37529" stroke="#e37529" stroke-width="0.6"/><path d="M341 115.2 350 106.6 341.9 108.3 332.9 116.9Z" fill="#dae13a" stroke="#dae13a" stroke-width="0.6"/><path d="M435.7 63 444.3 56.5 435.8 57.3 427.2 63.9Z" fill="#db6225" stroke="#db6225" stroke-width="0.6"/><path d="M280.5 158.4 289.7 148.5 281.9 150.7 272.7 160.6Z" fill="#85e534" stroke="#85e534" stroke-width="0.6"/><path d="M220.1 208.5 229.5 197.2 222 199.9 212.6 211.2Z" fill="#36e135" stroke="#36e135" stroke-width="0.6"/><path d="M358.1 105.1 367 96.9 358.9 98.4 350 106.6Z" fill="#e8d633" stroke="#e8d633" stroke-width="0.6"/><path d="M452.9 55.9 461.5 49.7 452.9 50.3 444.3 56.5Z" fill="#d45122" stroke="#d45122" stroke-width="0.6"/><path d="M176.7 249.8 186.2 237.5 178.9 240.5 169.4 252.8Z" fill="#33d25b" stroke="#33d25b" stroke-width="0.6"/><path d="M297.6 146.4 306.8 136.9 298.9 138.9 289.7 148.5Z" fill="#9ee438" stroke="#9ee438" stroke-width="0.6"/><path d="M375.3 95.5 384.2 87.7 375.9 89 367 96.9Z" fill="#ecc52b" stroke="#ecc52b" stroke-width="0.6"/><path d="M237.1 194.7 246.5 183.8 238.9 186.3 229.5 197.2Z" fill="#3de62a" stroke="#3de62a" stroke-width="0.6"/><path d="M470.1 49.2 478.7 43.4 470 43.8 461.5 49.7Z" fill="#ca4620" stroke="#ca4620" stroke-width="0.6"/><path d="M314.7 134.9 323.9 125.8 315.9 127.7 306.8 136.9Z" fill="#b6e43b" stroke="#b6e43b" stroke-width="0.6"/><path d="M487.4 43.1 495.9 37.6 487.1 37.8 478.7 43.4Z" fill="#c13d1e" stroke="#c13d1e" stroke-width="0.6"/><path d="M392.5 86.4 401.3 78.9 393 80.1 384.2 87.7Z" fill="#eda62c" stroke="#eda62c" stroke-width="0.6"/><path d="M193.6 234.7 203.2 222.8 195.7 225.6 186.2 237.5Z" fill="#31d84c" stroke="#31d84c" stroke-width="0.6"/><path d="M254.2 181.4 263.5 170.8 255.8 173.2 246.5 183.8Z" fill="#59e62e" stroke="#59e62e" stroke-width="0.6"/><path d="M504.7 37.5 513.1 32.3 504.3 32.4 495.9 37.6Z" fill="#b8351c" stroke="#b8351c" stroke-width="0.6"/><path d="M409.7 77.9 418.5 70.7 410.1 71.8 401.3 78.9Z" fill="#eb8529" stroke="#eb8529" stroke-width="0.6"/><path d="M331.9 124 341 115.2 332.9 116.9 323.9 125.8Z" fill="#c6e13c" stroke="#c6e13c" stroke-width="0.6"/><path d="M522 32.4 530.3 27.6 521.4 27.5 513.1 32.3Z" fill="#b0301b" stroke="#b0301b" stroke-width="0.6"/><path d="M271.3 168.5 280.5 158.4 272.7 160.6 263.5 170.8Z" fill="#74e531" stroke="#74e531" stroke-width="0.6"/><path d="M210.6 220 220.1 208.5 212.6 211.2 203.2 222.8Z" fill="#33de3d" stroke="#33de3d" stroke-width="0.6"/><path d="M427 69.8 435.7 63 427.2 63.9 418.5 70.7Z" fill="#e77228" stroke="#e77228" stroke-width="0.6"/><path d="M349.1 113.6 358.1 105.1 350 106.6 341 115.2Z" fill="#e3e138" stroke="#e3e138" stroke-width="0.6"/><path d="M167 262.4 176.7 249.8 169.4 252.8 159.8 265.4Z" fill="#34cf65" stroke="#34cf65" stroke-width="0.6"/><path d="M444.2 62.3 452.9 55.9 444.3 56.5 435.7 63Z" fill="#e16024" stroke="#e16024" stroke-width="0.6"/><path d="M288.4 156.2 297.6 146.4 289.7 148.5 280.5 158.4Z" fill="#8ee535" stroke="#8ee535" stroke-width="0.6"/><path d="M227.7 205.9 237.1 194.7 229.5 197.2 220.1 208.5Z" fill="#37e430" stroke="#37e430" stroke-width="0.6"/><path d="M366.3 103.6 375.3 95.5 367 96.9 358.1 105.1Z" fill="#e9d130" stroke="#e9d130" stroke-width="0.6"/><path d="M461.5 55.3 470.1 49.2 461.5 49.7 452.9 55.9Z" fill="#d94f21" stroke="#d94f21" stroke-width="0.6"/><path d="M305.6 144.4 314.7 134.9 306.8 136.9 297.6 146.4Z" fill="#a7e539" stroke="#a7e539" stroke-width="0.6"/><path d="M184 246.9 193.6 234.7 186.2 237.5 176.7 249.8Z" fill="#32d556" stroke="#32d556" stroke-width="0.6"/><path d="M383.6 94.2 392.5 86.4 384.2 87.7 375.3 95.5Z" fill="#edbe2b" stroke="#edbe2b" stroke-width="0.6"/><path d="M478.9 48.8 487.4 43.1 478.7 43.4 470.1 49.2Z" fill="#cf451f" stroke="#cf451f" stroke-width="0.6"/><path d="M244.8 192.2 254.2 181.4 246.5 183.8 237.1 194.7Z" fill="#46e72b" stroke="#46e72b" stroke-width="0.6"/><path d="M496.2 42.9 504.7 37.5 495.9 37.6 487.4 43.1Z" fill="#c63c1d" stroke="#c63c1d" stroke-width="0.6"/><path d="M400.9 85.3 409.7 77.9 401.3 78.9 392.5 86.4Z" fill="#ed9d2c" stroke="#ed9d2c" stroke-width="0.6"/><path d="M322.8 133.1 331.9 124 323.9 125.8 314.7 134.9Z" fill="#bce33b" stroke="#bce33b" stroke-width="0.6"/><path d="M201.1 231.9 210.6 220 203.2 222.8 193.6 234.7Z" fill="#30da46" stroke="#30da46" stroke-width="0.6"/><path d="M261.9 179 271.3 168.5 263.5 170.8 254.2 181.4Z" fill="#62e62e" stroke="#62e62e" stroke-width="0.6"/><path d="M513.6 37.5 522 32.4 513.1 32.3 504.7 37.5Z" fill="#bd351c" stroke="#bd351c" stroke-width="0.6"/><path d="M418.2 76.9 427 69.8 418.5 70.7 409.7 77.9Z" fill="#ea8129" stroke="#ea8129" stroke-width="0.6"/><path d="M340 122.3 349.1 113.6 341 115.2 331.9 124Z" fill="#d0e13a" stroke="#d0e13a" stroke-width="0.6"/><path d="M530.9 32.6 539.3 27.8 530.3 27.6 522 32.4Z" fill="#b4301b" stroke="#b4301b" stroke-width="0.6"/><path d="M157.4 275.3 167 262.4 159.8 265.4 150.1 278.4Z" fill="#35cc70" stroke="#35cc70" stroke-width="0.6"/><path d="M279.1 166.4 288.4 156.2 280.5 158.4 271.3 168.5Z" fill="#7de632" stroke="#7de632" stroke-width="0.6"/><path d="M218.2 217.4 227.7 205.9 220.1 208.5 210.6 220Z" fill="#34e038" stroke="#34e038" stroke-width="0.6"/><path d="M435.5 69.1 444.2 62.3 435.7 63 427 69.8Z" fill="#e66e27" stroke="#e66e27" stroke-width="0.6"/><path d="M357.3 112.1 366.3 103.6 358.1 105.1 349.1 113.6Z" fill="#e6dd36" stroke="#e6dd36" stroke-width="0.6"/><path d="M452.9 61.7 461.5 55.3 452.9 55.9 444.2 62.3Z" fill="#e25d23" stroke="#e25d23" stroke-width="0.6"/><path d="M174.4 259.5 184 246.9 176.7 249.8 167 262.4Z" fill="#33d160" stroke="#33d160" stroke-width="0.6"/><path d="M296.3 154.2 305.6 144.4 297.6 146.4 288.4 156.2Z" fill="#97e536" stroke="#97e536" stroke-width="0.6"/><path d="M235.3 203.4 244.8 192.2 237.1 194.7 227.7 205.9Z" fill="#38e62a" stroke="#38e62a" stroke-width="0.6"/><path d="M374.6 102.3 383.6 94.2 375.3 95.5 366.3 103.6Z" fill="#ebcd2e" stroke="#ebcd2e" stroke-width="0.6"/><path d="M470.3 54.9 478.9 48.8 470.1 49.2 461.5 55.3Z" fill="#dd4e20" stroke="#dd4e20" stroke-width="0.6"/><path d="M313.6 142.6 322.8 133.1 314.7 134.9 305.6 144.4Z" fill="#b0e539" stroke="#b0e539" stroke-width="0.6"/><path d="M392 93 400.9 85.3 392.5 86.4 383.6 94.2Z" fill="#edb52b" stroke="#edb52b" stroke-width="0.6"/><path d="M487.7 48.6 496.2 42.9 487.4 43.1 478.9 48.8Z" fill="#d5451e" stroke="#d5451e" stroke-width="0.6"/><path d="M191.5 244.1 201.1 231.9 193.6 234.7 184 246.9Z" fill="#30d750" stroke="#30d750" stroke-width="0.6"/><path d="M252.5 189.9 261.9 179 254.2 181.4 244.8 192.2Z" fill="#50e72b" stroke="#50e72b" stroke-width="0.6"/><path d="M505.1 42.9 513.6 37.5 504.7 37.5 496.2 42.9Z" fill="#cb3c1d" stroke="#cb3c1d" stroke-width="0.6"/><path d="M409.3 84.3 418.2 76.9 409.7 77.9 400.9 85.3Z" fill="#ec952b" stroke="#ec952b" stroke-width="0.6"/><path d="M147.6 288.5 157.4 275.3 150.1 278.4 140.4 291.6Z" fill="#36c87b" stroke="#36c87b" stroke-width="0.6"/><path d="M330.9 131.4 340 122.3 331.9 124 322.8 133.1Z" fill="#c2e33a" stroke="#c2e33a" stroke-width="0.6"/><path d="M522.5 37.6 530.9 32.6 522 32.4 513.6 37.5Z" fill="#c2351c" stroke="#c2351c" stroke-width="0.6"/><path d="M208.6 229.3 218.2 217.4 210.6 220 201.1 231.9Z" fill="#31dd41" stroke="#31dd41" stroke-width="0.6"/><path d="M269.7 176.9 279.1 166.4 271.3 168.5 261.9 179Z" fill="#6ce72f" stroke="#6ce72f" stroke-width="0.6"/><path d="M426.7 76.1 435.5 69.1 427 69.8 418.2 76.9Z" fill="#e97c29" stroke="#e97c29" stroke-width="0.6"/><path d="M540 32.9 548.3 28.2 539.3 27.8 530.9 32.6Z" fill="#b9301b" stroke="#b9301b" stroke-width="0.6"/><path d="M348.2 120.8 357.3 112.1 349.1 113.6 340 122.3Z" fill="#d9e139" stroke="#d9e139" stroke-width="0.6"/><path d="M164.7 272.4 174.4 259.5 167 262.4 157.4 275.3Z" fill="#34ce6a" stroke="#34ce6a" stroke-width="0.6"/><path d="M444.2 68.4 452.9 61.7 444.2 62.3 435.5 69.1Z" fill="#e56a26" stroke="#e56a26" stroke-width="0.6"/><path d="M287 164.3 296.3 154.2 288.4 156.2 279.1 166.4Z" fill="#86e633" stroke="#86e633" stroke-width="0.6"/><path d="M225.8 214.9 235.3 203.4 227.7 205.9 218.2 217.4Z" fill="#35e333" stroke="#35e333" stroke-width="0.6"/><path d="M365.6 110.7 374.6 102.3 366.3 103.6 357.3 112.1Z" fill="#e8d833" stroke="#e8d833" stroke-width="0.6"/><path d="M461.6 61.3 470.3 54.9 461.5 55.3 452.9 61.7Z" fill="#e15a22" stroke="#e15a22" stroke-width="0.6"/><path d="M304.3 152.3 313.6 142.6 305.6 144.4 296.3 154.2Z" fill="#a0e637" stroke="#a0e637" stroke-width="0.6"/><path d="M181.8 256.7 191.5 244.1 184 246.9 174.4 259.5Z" fill="#31d45a" stroke="#31d45a" stroke-width="0.6"/><path d="M383 101.1 392 93 383.6 94.2 374.6 102.3Z" fill="#ecc82c" stroke="#ecc82c" stroke-width="0.6"/><path d="M243 201 252.5 189.9 244.8 192.2 235.3 203.4Z" fill="#3de828" stroke="#3de828" stroke-width="0.6"/><path d="M479.1 54.6 487.7 48.6 478.9 48.8 470.3 54.9Z" fill="#dc4d20" stroke="#dc4d20" stroke-width="0.6"/><path d="M137.8 302.1 147.6 288.5 140.4 291.6 130.6 305.2Z" fill="#36c585" stroke="#36c585" stroke-width="0.6"/><path d="M496.6 48.5 505.1 42.9 496.2 42.9 487.7 48.6Z" fill="#d8441e" stroke="#d8441e" stroke-width="0.6"/><path d="M321.7 140.8 330.9 131.4 322.8 133.1 313.6 142.6Z" fill="#b7e53a" stroke="#b7e53a" stroke-width="0.6"/><path d="M400.4 92 409.3 84.3 400.9 85.3 392 93Z" fill="#edad2b" stroke="#edad2b" stroke-width="0.6"/><path d="M199 241.4 208.6 229.3 201.1 231.9 191.5 244.1Z" fill="#2fda4a" stroke="#2fda4a" stroke-width="0.6"/><path d="M260.3 187.6 269.7 176.9 261.9 179 252.5 189.9Z" fill="#5ae82c" stroke="#5ae82c" stroke-width="0.6"/><path d="M514.1 43 522.5 37.6 513.6 37.5 505.1 42.9Z" fill="#d03b1c" stroke="#d03b1c" stroke-width="0.6"/><path d="M417.9 83.5 426.7 76.1 418.2 76.9 409.3 84.3Z" fill="#eb8e2a" stroke="#eb8e2a" stroke-width="0.6"/><path d="M339.1 129.9 348.2 120.8 340 122.3 330.9 131.4Z" fill="#c8e33a" stroke="#c8e33a" stroke-width="0.6"/><path d="M154.9 285.6 164.7 272.4 157.4 275.3 147.6 288.5Z" fill="#35cb75" stroke="#35cb75" stroke-width="0.6"/><path d="M531.6 37.9 540 32.9 530.9 32.6 522.5 37.6Z" fill="#c7351b" stroke="#c7351b" stroke-width="0.6"/><path d="M277.6 174.8 287 164.3 279.1 166.4 269.7 176.9Z" fill="#75e730" stroke="#75e730" stroke-width="0.6"/><path d="M216.2 226.7 225.8 214.9 218.2 217.4 208.6 229.3Z" fill="#32e03c" stroke="#32e03c" stroke-width="0.6"/><path d="M435.4 75.4 444.2 68.4 435.5 69.1 426.7 76.1Z" fill="#e87829" stroke="#e87829" stroke-width="0.6"/><path d="M549.1 33.4 557.5 28.8 548.3 28.2 540 32.9Z" fill="#be311a" stroke="#be311a" stroke-width="0.6"/><path d="M356.5 119.4 365.6 110.7 357.3 112.1 348.2 120.8Z" fill="#e1e138" stroke="#e1e138" stroke-width="0.6"/><path d="M452.9 67.9 461.6 61.3 452.9 61.7 444.2 68.4Z" fill="#e46725" stroke="#e46725" stroke-width="0.6"/><path d="M172.1 269.5 181.8 256.7 174.4 259.5 164.7 272.4Z" fill="#33d164" stroke="#33d164" stroke-width="0.6"/><path d="M295 162.4 304.3 152.3 296.3 154.2 287 164.3Z" fill="#8fe734" stroke="#8fe734" stroke-width="0.6"/><path d="M233.5 212.5 243 201 235.3 203.4 225.8 214.9Z" fill="#36e62e" stroke="#36e62e" stroke-width="0.6"/><path d="M373.9 109.4 383 101.1 374.6 102.3 365.6 110.7Z" fill="#e9d431" stroke="#e9d431" stroke-width="0.6"/><path d="M127.9 316.1 137.8 302.1 130.6 305.2 120.7 319.2Z" fill="#30c18a" stroke="#30c18a" stroke-width="0.6"/><path d="M470.4 60.9 479.1 54.6 470.3 54.9 461.6 61.3Z" fill="#e05722" stroke="#e05722" stroke-width="0.6"/><path d="M312.4 150.6 321.7 140.8 313.6 142.6 304.3 152.3Z" fill="#a8e637" stroke="#a8e637" stroke-width="0.6"/><path d="M189.3 253.9 199 241.4 191.5 244.1 181.8 256.7Z" fill="#30d754" stroke="#30d754" stroke-width="0.6"/><path d="M391.4 100 400.4 92 392 93 383 101.1Z" fill="#edc42a" stroke="#edc42a" stroke-width="0.6"/><path d="M488 54.5 496.6 48.5 487.7 48.6 479.1 54.6Z" fill="#dc4b1f" stroke="#dc4b1f" stroke-width="0.6"/><path d="M250.8 198.8 260.3 187.6 252.5 189.9 243 201Z" fill="#47e829" stroke="#47e829" stroke-width="0.6"/><path d="M505.5 48.6 514.1 43 505.1 42.9 496.6 48.5Z" fill="#d7431d" stroke="#d7431d" stroke-width="0.6"/><path d="M145.1 299.1 154.9 285.6 147.6 288.5 137.8 302.1Z" fill="#36c780" stroke="#36c780" stroke-width="0.6"/><path d="M408.9 91.1 417.9 83.5 409.3 84.3 400.4 92Z" fill="#eda62c" stroke="#eda62c" stroke-width="0.6"/><path d="M329.8 139.2 339.1 129.9 330.9 131.4 321.7 140.8Z" fill="#bde539" stroke="#bde539" stroke-width="0.6"/><path d="M206.6 238.9 216.2 226.7 208.6 229.3 199 241.4Z" fill="#2fdc45" stroke="#2fdc45" stroke-width="0.6"/><path d="M268.2 185.5 277.6 174.8 269.7 176.9 260.3 187.6Z" fill="#63e82d" stroke="#63e82d" stroke-width="0.6"/><path d="M523.1 43.2 531.6 37.9 522.5 37.6 514.1 43Z" fill="#d33b1c" stroke="#d33b1c" stroke-width="0.6"/><path d="M426.5 82.7 435.4 75.4 426.7 76.1 417.9 83.5Z" fill="#eb882a" stroke="#eb882a" stroke-width="0.6"/><path d="M347.3 128.4 356.5 119.4 348.2 120.8 339.1 129.9Z" fill="#cee23a" stroke="#cee23a" stroke-width="0.6"/><path d="M540.7 38.4 549.1 33.4 540 32.9 531.6 37.9Z" fill="#cc351b" stroke="#cc351b" stroke-width="0.6"/><path d="M162.3 282.7 172.1 269.5 164.7 272.4 154.9 285.6Z" fill="#34cd6f" stroke="#34cd6f" stroke-width="0.6"/><path d="M285.6 172.8 295 162.4 287 164.3 277.6 174.8Z" fill="#7ee731" stroke="#7ee731" stroke-width="0.6"/><path d="M558.3 34 566.7 29.4 557.5 28.8 549.1 33.4Z" fill="#c3311a" stroke="#c3311a" stroke-width="0.6"/><path d="M444.1 74.9 452.9 67.9 444.2 68.4 435.4 75.4Z" fill="#e77528" stroke="#e77528" stroke-width="0.6"/><path d="M223.9 224.3 233.5 212.5 225.8 214.9 216.2 226.7Z" fill="#33e237" stroke="#33e237" stroke-width="0.6"/><path d="M118 330.3 127.9 316.1 120.7 319.2 110.8 333.4Z" fill="#29bd8f" stroke="#29bd8f" stroke-width="0.6"/><path d="M364.8 118.1 373.9 109.4 365.6 110.7 356.5 119.4Z" fill="#e6df36" stroke="#e6df36" stroke-width="0.6"/><path d="M461.7 67.6 470.4 60.9 461.6 61.3 452.9 67.9Z" fill="#e36425" stroke="#e36425" stroke-width="0.6"/><path d="M179.6 266.8 189.3 253.9 181.8 256.7 172.1 269.5Z" fill="#31d35f" stroke="#31d35f" stroke-width="0.6"/><path d="M303.1 160.6 312.4 150.6 304.3 152.3 295 162.4Z" fill="#98e734" stroke="#98e734" stroke-width="0.6"/><path d="M241.3 210.2 250.8 198.8 243 201 233.5 212.5Z" fill="#37e829" stroke="#37e829" stroke-width="0.6"/><path d="M382.4 108.3 391.4 100 383 101.1 373.9 109.4Z" fill="#ead02f" stroke="#ead02f" stroke-width="0.6"/><path d="M479.3 60.8 488 54.5 479.1 54.6 470.4 60.9Z" fill="#df5421" stroke="#df5421" stroke-width="0.6"/><path d="M135.2 313 145.1 299.1 137.8 302.1 127.9 316.1Z" fill="#33c487" stroke="#33c487" stroke-width="0.6"/><path d="M320.6 148.9 329.8 139.2 321.7 140.8 312.4 150.6Z" fill="#b1e638" stroke="#b1e638" stroke-width="0.6"/><path d="M496.9 54.5 505.5 48.6 496.6 48.5 488 54.5Z" fill="#db4a1f" stroke="#db4a1f" stroke-width="0.6"/><path d="M400 99.1 408.9 91.1 400.4 92 391.4 100Z" fill="#edbd2a" stroke="#edbd2a" stroke-width="0.6"/><path d="M196.9 251.4 206.6 238.9 199 241.4 189.3 253.9Z" fill="#2fd94f" stroke="#2fd94f" stroke-width="0.6"/><path d="M258.7 196.6 268.2 185.5 260.3 187.6 250.8 198.8Z" fill="#50e92a" stroke="#50e92a" stroke-width="0.6"/><path d="M514.6 48.8 523.1 43.2 514.1 43 505.5 48.6Z" fill="#d6411d" stroke="#d6411d" stroke-width="0.6"/><path d="M417.6 90.3 426.5 82.7 417.9 83.5 408.9 91.1Z" fill="#ed9f2c" stroke="#ed9f2c" stroke-width="0.6"/><path d="M152.4 296.3 162.3 282.7 154.9 285.6 145.1 299.1Z" fill="#35ca7a" stroke="#35ca7a" stroke-width="0.6"/><path d="M338.1 137.8 347.3 128.4 339.1 129.9 329.8 139.2Z" fill="#c3e439" stroke="#c3e439" stroke-width="0.6"/><path d="M532.2 43.6 540.7 38.4 531.6 37.9 523.1 43.2Z" fill="#d23a1c" stroke="#d23a1c" stroke-width="0.6"/><path d="M214.2 236.4 223.9 224.3 216.2 226.7 206.6 238.9Z" fill="#30df40" stroke="#30df40" stroke-width="0.6"/><path d="M276.2 183.5 285.6 172.8 277.6 174.8 268.2 185.5Z" fill="#6ce82e" stroke="#6ce82e" stroke-width="0.6"/><path d="M108 344.9 118 330.3 110.8 333.4 100.8 348.1Z" fill="#23b995" stroke="#23b995" stroke-width="0.6"/><path d="M435.2 82.1 444.1 74.9 435.4 75.4 426.5 82.7Z" fill="#ea8329" stroke="#ea8329" stroke-width="0.6"/><path d="M549.9 38.9 558.3 34 549.1 33.4 540.7 38.4Z" fill="#d0351a" stroke="#d0351a" stroke-width="0.6"/><path d="M355.7 127.1 364.8 118.1 356.5 119.4 347.3 128.4Z" fill="#d6e238" stroke="#d6e238" stroke-width="0.6"/><path d="M169.7 280 179.6 266.8 172.1 269.5 162.3 282.7Z" fill="#33d069" stroke="#33d069" stroke-width="0.6"/><path d="M567.6 34.8 576 30.3 566.7 29.4 558.3 34Z" fill="#c8311a" stroke="#c8311a" stroke-width="0.6"/><path d="M452.8 74.5 461.7 67.6 452.9 67.9 444.1 74.9Z" fill="#e77128" stroke="#e77128" stroke-width="0.6"/><path d="M293.7 171 303.1 160.6 295 162.4 285.6 172.8Z" fill="#87e832" stroke="#87e832" stroke-width="0.6"/><path d="M231.7 222 241.3 210.2 233.5 212.5 223.9 224.3Z" fill="#34e531" stroke="#34e531" stroke-width="0.6"/><path d="M373.3 117 382.4 108.3 373.9 109.4 364.8 118.1Z" fill="#e7db33" stroke="#e7db33" stroke-width="0.6"/><path d="M125.2 327.3 135.2 313 127.9 316.1 118 330.3Z" fill="#2cc08d" stroke="#2cc08d" stroke-width="0.6"/><path d="M470.5 67.3 479.3 60.8 470.4 60.9 461.7 67.6Z" fill="#e36124" stroke="#e36124" stroke-width="0.6"/><path d="M311.2 158.9 320.6 148.9 312.4 150.6 303.1 160.6Z" fill="#a0e735" stroke="#a0e735" stroke-width="0.6"/><path d="M187.1 264.2 196.9 251.4 189.3 253.9 179.6 266.8Z" fill="#30d659" stroke="#30d659" stroke-width="0.6"/><path d="M390.9 107.3 400 99.1 391.4 100 382.4 108.3Z" fill="#ebcc2d" stroke="#ebcc2d" stroke-width="0.6"/><path d="M249.1 208 258.7 196.6 250.8 198.8 241.3 210.2Z" fill="#3dea27" stroke="#3dea27" stroke-width="0.6"/><path d="M488.2 60.7 496.9 54.5 488 54.5 479.3 60.8Z" fill="#df5221" stroke="#df5221" stroke-width="0.6"/><path d="M142.5 310.1 152.4 296.3 145.1 299.1 135.2 313Z" fill="#36c685" stroke="#36c685" stroke-width="0.6"/><path d="M506 54.6 514.6 48.8 505.5 48.6 496.9 54.5Z" fill="#da491f" stroke="#da491f" stroke-width="0.6"/><path d="M328.8 147.4 338.1 137.8 329.8 139.2 320.6 148.9Z" fill="#b8e638" stroke="#b8e638" stroke-width="0.6"/><path d="M408.6 98.3 417.6 90.3 408.9 91.1 400 99.1Z" fill="#edb62a" stroke="#edb62a" stroke-width="0.6"/><path d="M204.5 248.9 214.2 236.4 206.6 238.9 196.9 251.4Z" fill="#2edc49" stroke="#2edc49" stroke-width="0.6"/><path d="M266.6 194.6 276.2 183.5 268.2 185.5 258.7 196.6Z" fill="#59e92b" stroke="#59e92b" stroke-width="0.6"/><path d="M523.7 49.1 532.2 43.6 523.1 43.2 514.6 48.8Z" fill="#d6411d" stroke="#d6411d" stroke-width="0.6"/><path d="M426.3 89.7 435.2 82.1 426.5 82.7 417.6 90.3Z" fill="#ec992b" stroke="#ec992b" stroke-width="0.6"/><path d="M346.4 136.4 355.7 127.1 347.3 128.4 338.1 137.8Z" fill="#c9e438" stroke="#c9e438" stroke-width="0.6"/><path d="M541.4 44.1 549.9 38.9 540.7 38.4 532.2 43.6Z" fill="#d2391b" stroke="#d2391b" stroke-width="0.6"/><path d="M159.9 293.5 169.7 280 162.3 282.7 152.4 296.3Z" fill="#34cc74" stroke="#34cc74" stroke-width="0.6"/><path d="M284.2 181.7 293.7 171 285.6 172.8 276.2 183.5Z" fill="#75e92f" stroke="#75e92f" stroke-width="0.6"/><path d="M222 234.1 231.7 222 223.9 224.3 214.2 236.4Z" fill="#31e23a" stroke="#31e23a" stroke-width="0.6"/><path d="M444 81.7 452.8 74.5 444.1 74.9 435.2 82.1Z" fill="#ea8029" stroke="#ea8029" stroke-width="0.6"/><path d="M559.2 39.7 567.6 34.8 558.3 34 549.9 38.9Z" fill="#cf351a" stroke="#cf351a" stroke-width="0.6"/><path d="M115.2 341.9 125.2 327.3 118 330.3 108 344.9Z" fill="#26bc92" stroke="#26bc92" stroke-width="0.6"/><path d="M364.1 125.9 373.3 117 364.8 118.1 355.7 127.1Z" fill="#dee237" stroke="#dee237" stroke-width="0.6"/><path d="M577 35.7 585.3 31.3 576 30.3 567.6 34.8Z" fill="#cd3219" stroke="#cd3219" stroke-width="0.6"/><path d="M461.7 74.2 470.5 67.3 461.7 67.6 452.8 74.5Z" fill="#e66e27" stroke="#e66e27" stroke-width="0.6"/><path d="M177.3 277.3 187.1 264.2 179.6 266.8 169.7 280Z" fill="#31d264" stroke="#31d264" stroke-width="0.6"/><path d="M301.8 169.3 311.2 158.9 303.1 160.6 293.7 171Z" fill="#8fe832" stroke="#8fe832" stroke-width="0.6"/><path d="M239.5 219.8 249.1 208 241.3 210.2 231.7 222Z" fill="#35e82c" stroke="#35e82c" stroke-width="0.6"/><path d="M381.8 115.9 390.9 107.3 382.4 108.3 373.3 117Z" fill="#e9d731" stroke="#e9d731" stroke-width="0.6"/><path d="M479.5 67.2 488.2 60.7 479.3 60.8 470.5 67.3Z" fill="#e25e24" stroke="#e25e24" stroke-width="0.6"/><path d="M132.5 324.4 142.5 310.1 135.2 313 125.2 327.3Z" fill="#2fc28a" stroke="#2fc28a" stroke-width="0.6"/><path d="M319.4 157.4 328.8 147.4 320.6 148.9 311.2 158.9Z" fill="#a9e836" stroke="#a9e836" stroke-width="0.6"/><path d="M399.5 106.5 408.6 98.3 400 99.1 390.9 107.3Z" fill="#edc82b" stroke="#edc82b" stroke-width="0.6"/><path d="M497.3 60.8 506 54.6 496.9 54.5 488.2 60.7Z" fill="#de5020" stroke="#de5020" stroke-width="0.6"/><path d="M194.7 261.7 204.5 248.9 196.9 251.4 187.1 264.2Z" fill="#2fd853" stroke="#2fd853" stroke-width="0.6"/><path d="M257.1 206 266.6 194.6 258.7 196.6 249.1 208Z" fill="#46ea28" stroke="#46ea28" stroke-width="0.6"/><path d="M515.1 54.9 523.7 49.1 514.6 48.8 506 54.6Z" fill="#da481f" stroke="#da481f" stroke-width="0.6"/><path d="M149.9 307.4 159.9 293.5 152.4 296.3 142.5 310.1Z" fill="#35c980" stroke="#35c980" stroke-width="0.6"/><path d="M417.2 97.6 426.3 89.7 417.6 90.3 408.6 98.3Z" fill="#edaf2b" stroke="#edaf2b" stroke-width="0.6"/><path d="M337.1 146 346.4 136.4 338.1 137.8 328.8 147.4Z" fill="#bee637" stroke="#bee637" stroke-width="0.6"/><path d="M532.9 49.6 541.4 44.1 532.2 43.6 523.7 49.1Z" fill="#d6401d" stroke="#d6401d" stroke-width="0.6"/><path d="M212.2 246.5 222 234.1 214.2 236.4 204.5 248.9Z" fill="#2ede44" stroke="#2ede44" stroke-width="0.6"/><path d="M274.7 192.7 284.2 181.7 276.2 183.5 266.6 194.6Z" fill="#62ea2c" stroke="#62ea2c" stroke-width="0.6"/><path d="M435 89.2 444 81.7 435.2 82.1 426.3 89.7Z" fill="#ec932b" stroke="#ec932b" stroke-width="0.6"/><path d="M550.7 44.8 559.2 39.7 549.9 38.9 541.4 44.1Z" fill="#d2391b" stroke="#d2391b" stroke-width="0.6"/><path d="M354.8 135.2 364.1 125.9 355.7 127.1 346.4 136.4Z" fill="#cee438" stroke="#cee438" stroke-width="0.6"/><path d="M167.4 290.8 177.3 277.3 169.7 280 159.9 293.5Z" fill="#33cf6f" stroke="#33cf6f" stroke-width="0.6"/><path d="M568.6 40.5 577 35.7 567.6 34.8 559.2 39.7Z" fill="#cf351a" stroke="#cf351a" stroke-width="0.6"/><path d="M452.8 81.4 461.7 74.2 452.8 74.5 444 81.7Z" fill="#e97d29" stroke="#e97d29" stroke-width="0.6"/><path d="M292.3 179.9 301.8 169.3 293.7 171 284.2 181.7Z" fill="#7ee92f" stroke="#7ee92f" stroke-width="0.6"/><path d="M229.8 231.9 239.5 219.8 231.7 222 222 234.1Z" fill="#32e435" stroke="#32e435" stroke-width="0.6"/><path d="M122.5 338.9 132.5 324.4 125.2 327.3 115.2 341.9Z" fill="#29be90" stroke="#29be90" stroke-width="0.6"/><path d="M372.6 124.8 381.8 115.9 373.3 117 364.1 125.9Z" fill="#e6e236" stroke="#e6e236" stroke-width="0.6"/><path d="M586.5 36.8 594.8 32.4 585.3 31.3 577 35.7Z" fill="#cd3219" stroke="#cd3219" stroke-width="0.6"/><path d="M470.7 74 479.5 67.2 470.5 67.3 461.7 74.2Z" fill="#e56c26" stroke="#e56c26" stroke-width="0.6"/><path d="M184.9 274.8 194.7 261.7 187.1 264.2 177.3 277.3Z" fill="#30d55e" stroke="#30d55e" stroke-width="0.6"/><path d="M310 167.7 319.4 157.4 311.2 158.9 301.8 169.3Z" fill="#98e933" stroke="#98e933" stroke-width="0.6"/><path d="M390.4 115 399.5 106.5 390.9 107.3 381.8 115.9Z" fill="#ead42f" stroke="#ead42f" stroke-width="0.6"/><path d="M247.4 217.7 257.1 206 249.1 208 239.5 219.8Z" fill="#36ea27" stroke="#36ea27" stroke-width="0.6"/><path d="M488.5 67.3 497.3 60.8 488.2 60.7 479.5 67.2Z" fill="#e15c23" stroke="#e15c23" stroke-width="0.6"/><path d="M139.9 321.6 149.9 307.4 142.5 310.1 132.5 324.4Z" fill="#32c588" stroke="#32c588" stroke-width="0.6"/><path d="M506.4 61 515.1 54.9 506 54.6 497.3 60.8Z" fill="#de4f20" stroke="#de4f20" stroke-width="0.6"/><path d="M327.7 156 337.1 146 328.8 147.4 319.4 157.4Z" fill="#b1e836" stroke="#b1e836" stroke-width="0.6"/><path d="M408.2 105.8 417.2 97.6 408.6 98.3 399.5 106.5Z" fill="#eec529" stroke="#eec529" stroke-width="0.6"/><path d="M202.4 259.3 212.2 246.5 204.5 248.9 194.7 261.7Z" fill="#2edb4e" stroke="#2edb4e" stroke-width="0.6"/><path d="M265.1 204.1 274.7 192.7 266.6 194.6 257.1 206Z" fill="#4feb29" stroke="#4feb29" stroke-width="0.6"/><path d="M524.3 55.4 532.9 49.6 523.7 49.1 515.1 54.9Z" fill="#d9471e" stroke="#d9471e" stroke-width="0.6"/><path d="M426 97 435 89.2 426.3 89.7 417.2 97.6Z" fill="#eda92b" stroke="#eda92b" stroke-width="0.6"/><path d="M345.5 144.7 354.8 135.2 346.4 136.4 337.1 146Z" fill="#c3e637" stroke="#c3e637" stroke-width="0.6"/><path d="M157.4 304.7 167.4 290.8 159.9 293.5 149.9 307.4Z" fill="#34cb7a" stroke="#34cb7a" stroke-width="0.6"/><path d="M542.2 50.2 550.7 44.8 541.4 44.1 532.9 49.6Z" fill="#d5401d" stroke="#d5401d" stroke-width="0.6"/><path d="M282.8 190.9 292.3 179.9 284.2 181.7 274.7 192.7Z" fill="#6bea2c" stroke="#6bea2c" stroke-width="0.6"/><path d="M220 244.3 229.8 231.9 222 234.1 212.2 246.5Z" fill="#2fe13f" stroke="#2fe13f" stroke-width="0.6"/><path d="M443.9 88.8 452.8 81.4 444 81.7 435 89.2Z" fill="#ec8e2a" stroke="#ec8e2a" stroke-width="0.6"/><path d="M560.1 45.6 568.6 40.5 559.2 39.7 550.7 44.8Z" fill="#d2391b" stroke="#d2391b" stroke-width="0.6"/><path d="M363.3 134.1 372.6 124.8 364.1 125.9 354.8 135.2Z" fill="#d4e337" stroke="#d4e337" stroke-width="0.6"/><path d="M578.1 41.6 586.5 36.8 577 35.7 568.6 40.5Z" fill="#d0351a" stroke="#d0351a" stroke-width="0.6"/><path d="M174.9 288.3 184.9 274.8 177.3 277.3 167.4 290.8Z" fill="#31d269" stroke="#31d269" stroke-width="0.6"/><path d="M461.8 81.2 470.7 74 461.7 74.2 452.8 81.4Z" fill="#e87a29" stroke="#e87a29" stroke-width="0.6"/><path d="M300.5 178.3 310 167.7 301.8 169.3 292.3 179.9Z" fill="#86ea30" stroke="#86ea30" stroke-width="0.6"/><path d="M237.7 229.8 247.4 217.7 239.5 219.8 229.8 231.9Z" fill="#33e730" stroke="#33e730" stroke-width="0.6"/><path d="M596 38 604.3 33.7 594.8 32.4 586.5 36.8Z" fill="#ce321a" stroke="#ce321a" stroke-width="0.6"/><path d="M381.1 123.9 390.4 115 381.8 115.9 372.6 124.8Z" fill="#e7df34" stroke="#e7df34" stroke-width="0.6"/><path d="M129.8 336.1 139.9 321.6 132.5 324.4 122.5 338.9Z" fill="#2bc18d" stroke="#2bc18d" stroke-width="0.6"/><path d="M479.7 74 488.5 67.3 479.5 67.2 470.7 74Z" fill="#e56926" stroke="#e56926" stroke-width="0.6"/><path d="M318.3 166.2 327.7 156 319.4 157.4 310 167.7Z" fill="#a0e933" stroke="#a0e933" stroke-width="0.6"/><path d="M192.5 272.4 202.4 259.3 194.7 261.7 184.9 274.8Z" fill="#2fd859" stroke="#2fd859" stroke-width="0.6"/><path d="M399 114.3 408.2 105.8 399.5 106.5 390.4 115Z" fill="#ebd02e" stroke="#ebd02e" stroke-width="0.6"/><path d="M497.6 67.5 506.4 61 497.3 60.8 488.5 67.3Z" fill="#e15a23" stroke="#e15a23" stroke-width="0.6"/><path d="M255.4 215.7 265.1 204.1 257.1 206 247.4 217.7Z" fill="#3bec26" stroke="#3bec26" stroke-width="0.6"/><path d="M147.3 318.9 157.4 304.7 149.9 307.4 139.9 321.6Z" fill="#35c885" stroke="#35c885" stroke-width="0.6"/><path d="M515.6 61.4 524.3 55.4 515.1 54.9 506.4 61Z" fill="#dd4e20" stroke="#dd4e20" stroke-width="0.6"/><path d="M416.9 105.2 426 97 417.2 97.6 408.2 105.8Z" fill="#eebf29" stroke="#eebf29" stroke-width="0.6"/><path d="M336.1 154.7 345.5 144.7 337.1 146 327.7 156Z" fill="#b8e836" stroke="#b8e836" stroke-width="0.6"/><path d="M210.2 257 220 244.3 212.2 246.5 202.4 259.3Z" fill="#2ddd49" stroke="#2ddd49" stroke-width="0.6"/><path d="M273.1 202.3 282.8 190.9 274.7 192.7 265.1 204.1Z" fill="#58eb29" stroke="#58eb29" stroke-width="0.6"/><path d="M533.6 55.9 542.2 50.2 532.9 49.6 524.3 55.4Z" fill="#d9461e" stroke="#d9461e" stroke-width="0.6"/><path d="M434.9 96.6 443.9 88.8 435 89.2 426 97Z" fill="#eda42c" stroke="#eda42c" stroke-width="0.6"/><path d="M354 143.6 363.3 134.1 354.8 135.2 345.5 144.7Z" fill="#c9e537" stroke="#c9e537" stroke-width="0.6"/><path d="M551.6 51 560.1 45.6 550.7 44.8 542.2 50.2Z" fill="#d53f1d" stroke="#d53f1d" stroke-width="0.6"/><path d="M164.9 302.1 174.9 288.3 167.4 290.8 157.4 304.7Z" fill="#33ce74" stroke="#33ce74" stroke-width="0.6"/><path d="M290.9 189.3 300.5 178.3 292.3 179.9 282.8 190.9Z" fill="#74eb2d" stroke="#74eb2d" stroke-width="0.6"/><path d="M227.9 242.1 237.7 229.8 229.8 231.9 220 244.3Z" fill="#30e43a" stroke="#30e43a" stroke-width="0.6"/><path d="M452.8 88.6 461.8 81.2 452.8 81.4 443.9 88.8Z" fill="#eb892a" stroke="#eb892a" stroke-width="0.6"/><path d="M569.6 46.6 578.1 41.6 568.6 40.5 560.1 45.6Z" fill="#d2391b" stroke="#d2391b" stroke-width="0.6"/><path d="M371.9 133.1 381.1 123.9 372.6 124.8 363.3 134.1Z" fill="#dbe336" stroke="#dbe336" stroke-width="0.6"/><path d="M587.6 42.7 596 38 586.5 36.8 578.1 41.6Z" fill="#d0351a" stroke="#d0351a" stroke-width="0.6"/><path d="M470.8 81.1 479.7 74 470.7 74 461.8 81.2Z" fill="#e87729" stroke="#e87729" stroke-width="0.6"/><path d="M182.6 285.9 192.5 272.4 184.9 274.8 174.9 288.3Z" fill="#30d464" stroke="#30d464" stroke-width="0.6"/><path d="M605.6 39.4 614 35.1 604.3 33.7 596 38Z" fill="#ce331a" stroke="#ce331a" stroke-width="0.6"/><path d="M308.8 176.8 318.3 166.2 310 167.7 300.5 178.3Z" fill="#8fea30" stroke="#8fea30" stroke-width="0.6"/><path d="M245.6 227.8 255.4 215.7 247.4 217.7 237.7 229.8Z" fill="#34ea2b" stroke="#34ea2b" stroke-width="0.6"/><path d="M389.8 123.1 399 114.3 390.4 115 381.1 123.9Z" fill="#e9db32" stroke="#e9db32" stroke-width="0.6"/><path d="M488.8 74.2 497.6 67.5 488.5 67.3 479.7 74Z" fill="#e46725" stroke="#e46725" stroke-width="0.6"/><path d="M137.2 333.4 147.3 318.9 139.9 321.6 129.8 336.1Z" fill="#2ec48b" stroke="#2ec48b" stroke-width="0.6"/><path d="M326.6 164.9 336.1 154.7 327.7 156 318.3 166.2Z" fill="#a8e934" stroke="#a8e934" stroke-width="0.6"/><path d="M506.8 67.8 515.6 61.4 506.4 61 497.6 67.5Z" fill="#e15922" stroke="#e15922" stroke-width="0.6"/><path d="M407.8 113.7 416.9 105.2 408.2 105.8 399 114.3Z" fill="#eccd2c" stroke="#eccd2c" stroke-width="0.6"/><path d="M200.3 270.1 210.2 257 202.4 259.3 192.5 272.4Z" fill="#2eda53" stroke="#2eda53" stroke-width="0.6"/><path d="M263.4 213.9 273.1 202.3 265.1 204.1 255.4 215.7Z" fill="#44ec26" stroke="#44ec26" stroke-width="0.6"/><path d="M524.9 62 533.6 55.9 524.3 55.4 515.6 61.4Z" fill="#dd4e20" stroke="#dd4e20" stroke-width="0.6"/><path d="M425.8 104.7 434.9 96.6 426 97 416.9 105.2Z" fill="#eeb92a" stroke="#eeb92a" stroke-width="0.6"/><path d="M154.9 316.3 164.9 302.1 157.4 304.7 147.3 318.9Z" fill="#34ca80" stroke="#34ca80" stroke-width="0.6"/><path d="M344.6 153.5 354 143.6 345.5 144.7 336.1 154.7Z" fill="#bde836" stroke="#bde836" stroke-width="0.6"/><path d="M542.9 56.7 551.6 51 542.2 50.2 533.6 55.9Z" fill="#d9461e" stroke="#d9461e" stroke-width="0.6"/><path d="M218 254.9 227.9 242.1 220 244.3 210.2 257Z" fill="#2de043" stroke="#2de043" stroke-width="0.6"/><path d="M281.3 200.6 290.9 189.3 282.8 190.9 273.1 202.3Z" fill="#61ec2a" stroke="#61ec2a" stroke-width="0.6"/><path d="M443.8 96.4 452.8 88.6 443.9 88.8 434.9 96.6Z" fill="#ed9f2c" stroke="#ed9f2c" stroke-width="0.6"/><path d="M561 51.9 569.6 46.6 560.1 45.6 551.6 51Z" fill="#d53f1d" stroke="#d53f1d" stroke-width="0.6"/><path d="M362.5 142.6 371.9 133.1 363.3 134.1 354 143.6Z" fill="#cee536" stroke="#cee536" stroke-width="0.6"/><path d="M172.6 299.7 182.6 285.9 174.9 288.3 164.9 302.1Z" fill="#32d06f" stroke="#32d06f" stroke-width="0.6"/><path d="M579.1 47.7 587.6 42.7 578.1 41.6 569.6 46.6Z" fill="#d2391b" stroke="#d2391b" stroke-width="0.6"/><path d="M461.8 88.5 470.8 81.1 461.8 81.2 452.8 88.6Z" fill="#eb8529" stroke="#eb8529" stroke-width="0.6"/><path d="M299.2 187.8 308.8 176.8 300.5 178.3 290.9 189.3Z" fill="#7ceb2d" stroke="#7ceb2d" stroke-width="0.6"/><path d="M235.8 240.1 245.6 227.8 237.7 229.8 227.9 242.1Z" fill="#31e634" stroke="#31e634" stroke-width="0.6"/><path d="M380.5 132.3 389.8 123.1 381.1 123.9 371.9 133.1Z" fill="#e2e335" stroke="#e2e335" stroke-width="0.6"/><path d="M597.2 44.1 605.6 39.4 596 38 587.6 42.7Z" fill="#d0361b" stroke="#d0361b" stroke-width="0.6"/><path d="M479.9 81.2 488.8 74.2 479.7 74 470.8 81.1Z" fill="#e77528" stroke="#e77528" stroke-width="0.6"/><path d="M615.3 41 623.7 36.7 614 35.1 605.6 39.4Z" fill="#ce331a" stroke="#ce331a" stroke-width="0.6"/><path d="M317.1 175.5 326.6 164.9 318.3 166.2 308.8 176.8Z" fill="#97ea31" stroke="#97ea31" stroke-width="0.6"/><path d="M190.3 283.6 200.3 270.1 192.5 272.4 182.6 285.9Z" fill="#2fd75e" stroke="#2fd75e" stroke-width="0.6"/><path d="M398.5 122.4 407.8 113.7 399 114.3 389.8 123.1Z" fill="#ead830" stroke="#ead830" stroke-width="0.6"/><path d="M253.7 225.9 263.4 213.9 255.4 215.7 245.6 227.8Z" fill="#34ec26" stroke="#34ec26" stroke-width="0.6"/><path d="M498 74.5 506.8 67.8 497.6 67.5 488.8 74.2Z" fill="#e46625" stroke="#e46625" stroke-width="0.6"/><path d="M144.7 330.8 154.9 316.3 147.3 318.9 137.2 333.4Z" fill="#31c688" stroke="#31c688" stroke-width="0.6"/><path d="M516.1 68.3 524.9 62 515.6 61.4 506.8 67.8Z" fill="#e05822" stroke="#e05822" stroke-width="0.6"/><path d="M335.1 163.7 344.6 153.5 336.1 154.7 326.6 164.9Z" fill="#b0e934" stroke="#b0e934" stroke-width="0.6"/><path d="M416.6 113.2 425.8 104.7 416.9 105.2 407.8 113.7Z" fill="#edca2b" stroke="#edca2b" stroke-width="0.6"/><path d="M208.1 268 218 254.9 210.2 257 200.3 270.1Z" fill="#2ddc4e" stroke="#2ddc4e" stroke-width="0.6"/><path d="M271.6 212.2 281.3 200.6 273.1 202.3 263.4 213.9Z" fill="#4ded27" stroke="#4ded27" stroke-width="0.6"/><path d="M534.2 62.6 542.9 56.7 533.6 55.9 524.9 62Z" fill="#dd4d20" stroke="#dd4d20" stroke-width="0.6"/><path d="M434.7 104.4 443.8 96.4 434.9 96.6 425.8 104.7Z" fill="#eeb42a" stroke="#eeb42a" stroke-width="0.6"/><path d="M353.1 152.4 362.5 142.6 354 143.6 344.6 153.5Z" fill="#c3e735" stroke="#c3e735" stroke-width="0.6"/><path d="M162.5 313.9 172.6 299.7 164.9 302.1 154.9 316.3Z" fill="#33cd7b" stroke="#33cd7b" stroke-width="0.6"/><path d="M552.4 57.5 561 51.9 551.6 51 542.9 56.7Z" fill="#d9461e" stroke="#d9461e" stroke-width="0.6"/><path d="M289.5 199 299.2 187.8 290.9 189.3 281.3 200.6Z" fill="#6aec2b" stroke="#6aec2b" stroke-width="0.6"/><path d="M226 252.8 235.8 240.1 227.9 242.1 218 254.9Z" fill="#2de33e" stroke="#2de33e" stroke-width="0.6"/><path d="M452.8 96.2 461.8 88.5 452.8 88.6 443.8 96.4Z" fill="#ed9b2b" stroke="#ed9b2b" stroke-width="0.6"/><path d="M570.6 53 579.1 47.7 569.6 46.6 561 51.9Z" fill="#d53f1d" stroke="#d53f1d" stroke-width="0.6"/><path d="M371.2 141.7 380.5 132.3 371.9 133.1 362.5 142.6Z" fill="#d3e536" stroke="#d3e536" stroke-width="0.6"/><path d="M588.7 49 597.2 44.1 587.6 42.7 579.1 47.7Z" fill="#d23a1c" stroke="#d23a1c" stroke-width="0.6"/><path d="M470.9 88.6 479.9 81.2 470.8 81.1 461.8 88.5Z" fill="#ea8329" stroke="#ea8329" stroke-width="0.6"/><path d="M180.3 297.4 190.3 283.6 182.6 285.9 172.6 299.7Z" fill="#30d369" stroke="#30d369" stroke-width="0.6"/><path d="M307.5 186.4 317.1 175.5 308.8 176.8 299.2 187.8Z" fill="#85eb2e" stroke="#85eb2e" stroke-width="0.6"/><path d="M606.9 45.5 615.3 41 605.6 39.4 597.2 44.1Z" fill="#d0361b" stroke="#d0361b" stroke-width="0.6"/><path d="M243.9 238.3 253.7 225.9 245.6 227.8 235.8 240.1Z" fill="#31e92f" stroke="#31e92f" stroke-width="0.6"/><path d="M389.2 131.6 398.5 122.4 389.8 123.1 380.5 132.3Z" fill="#e7e234" stroke="#e7e234" stroke-width="0.6"/><path d="M489.1 81.5 498 74.5 488.8 74.2 479.9 81.2Z" fill="#e77328" stroke="#e77328" stroke-width="0.6"/><path d="M625.1 42.7 633.5 38.4 623.7 36.7 615.3 41Z" fill="#cf341a" stroke="#cf341a" stroke-width="0.6"/><path d="M325.5 174.2 335.1 163.7 326.6 164.9 317.1 175.5Z" fill="#9fea31" stroke="#9fea31" stroke-width="0.6"/><path d="M198.1 281.4 208.1 268 200.3 270.1 190.3 283.6Z" fill="#2ed959" stroke="#2ed959" stroke-width="0.6"/><path d="M407.4 121.9 416.6 113.2 407.8 113.7 398.5 122.4Z" fill="#ebd52f" stroke="#ebd52f" stroke-width="0.6"/><path d="M507.3 74.9 516.1 68.3 506.8 67.8 498 74.5Z" fill="#e36425" stroke="#e36425" stroke-width="0.6"/><path d="M261.8 224.2 271.6 212.2 263.4 213.9 253.7 225.9Z" fill="#39ee24" stroke="#39ee24" stroke-width="0.6"/><path d="M525.5 68.9 534.2 62.6 524.9 62 516.1 68.3Z" fill="#e05722" stroke="#e05722" stroke-width="0.6"/><path d="M152.3 328.4 162.5 313.9 154.9 316.3 144.7 330.8Z" fill="#33c986" stroke="#33c986" stroke-width="0.6"/><path d="M425.5 112.8 434.7 104.4 425.8 104.7 416.6 113.2Z" fill="#eec729" stroke="#eec729" stroke-width="0.6"/><path d="M343.6 162.6 353.1 152.4 344.6 153.5 335.1 163.7Z" fill="#b7ea34" stroke="#b7ea34" stroke-width="0.6"/><path d="M216 265.9 226 252.8 218 254.9 208.1 268Z" fill="#2cdf48" stroke="#2cdf48" stroke-width="0.6"/><path d="M543.7 63.5 552.4 57.5 542.9 56.7 534.2 62.6Z" fill="#dd4d20" stroke="#dd4d20" stroke-width="0.6"/><path d="M279.8 210.6 289.5 199 281.3 200.6 271.6 212.2Z" fill="#56ed28" stroke="#56ed28" stroke-width="0.6"/><path d="M443.7 104.3 452.8 96.2 443.8 96.4 434.7 104.4Z" fill="#eeb02a" stroke="#eeb02a" stroke-width="0.6"/><path d="M361.7 151.5 371.2 141.7 362.5 142.6 353.1 152.4Z" fill="#c8e735" stroke="#c8e735" stroke-width="0.6"/><path d="M561.9 58.6 570.6 53 561 51.9 552.4 57.5Z" fill="#d9461e" stroke="#d9461e" stroke-width="0.6"/><path d="M170.2 311.5 180.3 297.4 172.6 299.7 162.5 313.9Z" fill="#32cf75" stroke="#32cf75" stroke-width="0.6"/><path d="M297.8 197.6 307.5 186.4 299.2 187.8 289.5 199Z" fill="#72ec2b" stroke="#72ec2b" stroke-width="0.6"/><path d="M580.2 54.2 588.7 49 579.1 47.7 570.6 53Z" fill="#d6401d" stroke="#d6401d" stroke-width="0.6"/><path d="M461.9 96.2 470.9 88.6 461.8 88.5 452.8 96.2Z" fill="#ed972b" stroke="#ed972b" stroke-width="0.6"/><path d="M234 250.9 243.9 238.3 235.8 240.1 226 252.8Z" fill="#2ee539" stroke="#2ee539" stroke-width="0.6"/><path d="M379.9 141 389.2 131.6 380.5 132.3 371.2 141.7Z" fill="#d8e535" stroke="#d8e535" stroke-width="0.6"/><path d="M598.5 50.4 606.9 45.5 597.2 44.1 588.7 49Z" fill="#d33a1c" stroke="#d33a1c" stroke-width="0.6"/><path d="M480.1 88.8 489.1 81.5 479.9 81.2 470.9 88.6Z" fill="#ea8129" stroke="#ea8129" stroke-width="0.6"/><path d="M616.7 47.2 625.1 42.7 615.3 41 606.9 45.5Z" fill="#d1371b" stroke="#d1371b" stroke-width="0.6"/><path d="M188 295.2 198.1 281.4 190.3 283.6 180.3 297.4Z" fill="#2fd564" stroke="#2fd564" stroke-width="0.6"/><path d="M315.9 185.1 325.5 174.2 317.1 175.5 307.5 186.4Z" fill="#8dec2e" stroke="#8dec2e" stroke-width="0.6"/><path d="M252 236.5 261.8 224.2 253.7 225.9 243.9 238.3Z" fill="#32eb2b" stroke="#32eb2b" stroke-width="0.6"/><path d="M398 131 407.4 121.9 398.5 122.4 389.2 131.6Z" fill="#e8df32" stroke="#e8df32" stroke-width="0.6"/><path d="M498.4 81.9 507.3 74.9 498 74.5 489.1 81.5Z" fill="#e77128" stroke="#e77128" stroke-width="0.6"/><path d="M334.1 173.1 343.6 162.6 335.1 163.7 325.5 174.2Z" fill="#a6eb32" stroke="#a6eb32" stroke-width="0.6"/><path d="M516.6 75.5 525.5 68.9 516.1 68.3 507.3 74.9Z" fill="#e36325" stroke="#e36325" stroke-width="0.6"/><path d="M416.3 121.5 425.5 112.8 416.6 113.2 407.4 121.9Z" fill="#ecd22d" stroke="#ecd22d" stroke-width="0.6"/><path d="M206 279.3 216 265.9 208.1 268 198.1 281.4Z" fill="#2ddb53" stroke="#2ddb53" stroke-width="0.6"/><path d="M270 222.6 279.8 210.6 271.6 212.2 261.8 224.2Z" fill="#42ee24" stroke="#42ee24" stroke-width="0.6"/><path d="M534.9 69.7 543.7 63.5 534.2 62.6 525.5 68.9Z" fill="#e05622" stroke="#e05622" stroke-width="0.6"/><path d="M434.5 112.6 443.7 104.3 434.7 104.4 425.5 112.8Z" fill="#efc428" stroke="#efc428" stroke-width="0.6"/><path d="M160 326 170.2 311.5 162.5 313.9 152.3 328.4Z" fill="#33cb81" stroke="#33cb81" stroke-width="0.6"/><path d="M352.2 161.7 361.7 151.5 353.1 152.4 343.6 162.6Z" fill="#bce934" stroke="#bce934" stroke-width="0.6"/><path d="M553.2 64.4 561.9 58.6 552.4 57.5 543.7 63.5Z" fill="#dc4d20" stroke="#dc4d20" stroke-width="0.6"/><path d="M224 264 234 250.9 226 252.8 216 265.9Z" fill="#2be143" stroke="#2be143" stroke-width="0.6"/><path d="M288.1 209.2 297.8 197.6 289.5 199 279.8 210.6Z" fill="#5eed28" stroke="#5eed28" stroke-width="0.6"/><path d="M452.8 104.2 461.9 96.2 452.8 96.2 443.7 104.3Z" fill="#eeab2b" stroke="#eeab2b" stroke-width="0.6"/><path d="M571.6 59.7 580.2 54.2 570.6 53 561.9 58.6Z" fill="#d9461e" stroke="#d9461e" stroke-width="0.6"/><path d="M370.4 150.8 379.9 141 371.2 141.7 361.7 151.5Z" fill="#cde734" stroke="#cde734" stroke-width="0.6"/><path d="M177.9 309.3 188 295.2 180.3 297.4 170.2 311.5Z" fill="#31d26f" stroke="#31d26f" stroke-width="0.6"/><path d="M589.9 55.6 598.5 50.4 588.7 49 580.2 54.2Z" fill="#d6401d" stroke="#d6401d" stroke-width="0.6"/><path d="M471.1 96.4 480.1 88.8 470.9 88.6 461.9 96.2Z" fill="#ec932b" stroke="#ec932b" stroke-width="0.6"/><path d="M306.2 196.3 315.9 185.1 307.5 186.4 297.8 197.6Z" fill="#7aed2c" stroke="#7aed2c" stroke-width="0.6"/><path d="M242 249.2 252 236.5 243.9 238.3 234 250.9Z" fill="#2fe834" stroke="#2fe834" stroke-width="0.6"/><path d="M608.3 52 616.7 47.2 606.9 45.5 598.5 50.4Z" fill="#d33b1c" stroke="#d33b1c" stroke-width="0.6"/><path d="M388.7 140.4 398 131 389.2 131.6 379.9 141Z" fill="#dde435" stroke="#dde435" stroke-width="0.6"/><path d="M489.4 89.1 498.4 81.9 489.1 81.5 480.1 88.8Z" fill="#ea7f29" stroke="#ea7f29" stroke-width="0.6"/><path d="M324.4 184 334.1 173.1 325.5 174.2 315.9 185.1Z" fill="#95ec2f" stroke="#95ec2f" stroke-width="0.6"/><path d="M195.9 293.1 206 279.3 198.1 281.4 188 295.2Z" fill="#2ed85e" stroke="#2ed85e" stroke-width="0.6"/><path d="M406.9 130.6 416.3 121.5 407.4 121.9 398 131Z" fill="#e9dc31" stroke="#e9dc31" stroke-width="0.6"/><path d="M260.1 234.9 270 222.6 261.8 224.2 252 236.5Z" fill="#33ee26" stroke="#33ee26" stroke-width="0.6"/><path d="M507.7 82.4 516.6 75.5 507.3 74.9 498.4 81.9Z" fill="#e67027" stroke="#e67027" stroke-width="0.6"/><path d="M526.1 76.2 534.9 69.7 525.5 68.9 516.6 75.5Z" fill="#e36224" stroke="#e36224" stroke-width="0.6"/><path d="M342.6 172.1 352.2 161.7 343.6 162.6 334.1 173.1Z" fill="#aeeb32" stroke="#aeeb32" stroke-width="0.6"/><path d="M425.2 121.3 434.5 112.6 425.5 112.8 416.3 121.5Z" fill="#eccf2c" stroke="#eccf2c" stroke-width="0.6"/><path d="M214 277.4 224 264 216 265.9 206 279.3Z" fill="#2cde4e" stroke="#2cde4e" stroke-width="0.6"/><path d="M278.3 221.1 288.1 209.2 279.8 210.6 270 222.6Z" fill="#4aef25" stroke="#4aef25" stroke-width="0.6"/><path d="M544.5 70.6 553.2 64.4 543.7 63.5 534.9 69.7Z" fill="#e05622" stroke="#e05622" stroke-width="0.6"/><path d="M443.6 112.5 452.8 104.2 443.7 104.3 434.5 112.6Z" fill="#efc029" stroke="#efc029" stroke-width="0.6"/><path d="M360.9 160.9 370.4 150.8 361.7 151.5 352.2 161.7Z" fill="#c2e933" stroke="#c2e933" stroke-width="0.6"/><path d="M562.9 65.6 571.6 59.7 561.9 58.6 553.2 64.4Z" fill="#dd4d20" stroke="#dd4d20" stroke-width="0.6"/><path d="M167.7 323.8 177.9 309.3 170.2 311.5 160 326Z" fill="#32ce7b" stroke="#32ce7b" stroke-width="0.6"/><path d="M296.5 207.8 306.2 196.3 297.8 197.6 288.1 209.2Z" fill="#67ee29" stroke="#67ee29" stroke-width="0.6"/><path d="M232.1 262.2 242 249.2 234 250.9 224 264Z" fill="#2ce43e" stroke="#2ce43e" stroke-width="0.6"/><path d="M461.9 104.4 471.1 96.4 461.9 96.2 452.8 104.2Z" fill="#eea82b" stroke="#eea82b" stroke-width="0.6"/><path d="M581.3 61.1 589.9 55.6 580.2 54.2 571.6 59.7Z" fill="#d9471e" stroke="#d9471e" stroke-width="0.6"/><path d="M379.2 150.1 388.7 140.4 379.9 141 370.4 150.8Z" fill="#d2e634" stroke="#d2e634" stroke-width="0.6"/><path d="M599.7 57.1 608.3 52 598.5 50.4 589.9 55.6Z" fill="#d6411d" stroke="#d6411d" stroke-width="0.6"/><path d="M480.3 96.7 489.4 89.1 480.1 88.8 471.1 96.4Z" fill="#ec912a" stroke="#ec912a" stroke-width="0.6"/><path d="M185.8 307.2 195.9 293.1 188 295.2 177.9 309.3Z" fill="#2fd46a" stroke="#2fd46a" stroke-width="0.6"/><path d="M314.7 195.1 324.4 184 315.9 185.1 306.2 196.3Z" fill="#82ed2c" stroke="#82ed2c" stroke-width="0.6"/><path d="M250.2 247.5 260.1 234.9 252 236.5 242 249.2Z" fill="#30ea2f" stroke="#30ea2f" stroke-width="0.6"/><path d="M397.5 139.9 406.9 130.6 398 131 388.7 140.4Z" fill="#e3e434" stroke="#e3e434" stroke-width="0.6"/><path d="M498.7 89.6 507.7 82.4 498.4 81.9 489.4 89.1Z" fill="#e97e29" stroke="#e97e29" stroke-width="0.6"/><path d="M333 183 342.6 172.1 334.1 173.1 324.4 184Z" fill="#9cec2f" stroke="#9cec2f" stroke-width="0.6"/><path d="M415.9 130.3 425.2 121.3 416.3 121.5 406.9 130.6Z" fill="#ead92f" stroke="#ead92f" stroke-width="0.6"/><path d="M517.2 83.1 526.1 76.2 516.6 75.5 507.7 82.4Z" fill="#e66f27" stroke="#e66f27" stroke-width="0.6"/><path d="M203.8 291.1 214 277.4 206 279.3 195.9 293.1Z" fill="#2dda59" stroke="#2dda59" stroke-width="0.6"/><path d="M268.4 233.4 278.3 221.1 270 222.6 260.1 234.9Z" fill="#35f022" stroke="#35f022" stroke-width="0.6"/><path d="M535.6 77.1 544.5 70.6 534.9 69.7 526.1 76.2Z" fill="#e36224" stroke="#e36224" stroke-width="0.6"/><path d="M434.3 121.2 443.6 112.5 434.5 112.6 425.2 121.3Z" fill="#edcd2b" stroke="#edcd2b" stroke-width="0.6"/><path d="M351.3 171.3 360.9 160.9 352.2 161.7 342.6 172.1Z" fill="#b5eb32" stroke="#b5eb32" stroke-width="0.6"/><path d="M554.1 71.7 562.9 65.6 553.2 64.4 544.5 70.6Z" fill="#e05622" stroke="#e05622" stroke-width="0.6"/><path d="M222 275.5 232.1 262.2 224 264 214 277.4Z" fill="#2be049" stroke="#2be049" stroke-width="0.6"/><path d="M286.7 219.7 296.5 207.8 288.1 209.2 278.3 221.1Z" fill="#53ef26" stroke="#53ef26" stroke-width="0.6"/><path d="M452.7 112.6 461.9 104.4 452.8 104.2 443.6 112.5Z" fill="#efbc29" stroke="#efbc29" stroke-width="0.6"/><path d="M572.6 66.9 581.3 61.1 571.6 59.7 562.9 65.6Z" fill="#dd4d20" stroke="#dd4d20" stroke-width="0.6"/><path d="M369.7 160.2 379.2 150.1 370.4 150.8 360.9 160.9Z" fill="#c7e933" stroke="#c7e933" stroke-width="0.6"/><path d="M175.5 321.7 185.8 307.2 177.9 309.3 167.7 323.8Z" fill="#31d176" stroke="#31d176" stroke-width="0.6"/><path d="M591.1 62.6 599.7 57.1 589.9 55.6 581.3 61.1Z" fill="#da471f" stroke="#da471f" stroke-width="0.6"/><path d="M471.2 104.6 480.3 96.7 471.1 96.4 461.9 104.4Z" fill="#eea42b" stroke="#eea42b" stroke-width="0.6"/><path d="M304.9 206.7 314.7 195.1 306.2 196.3 296.5 207.8Z" fill="#6fee29" stroke="#6fee29" stroke-width="0.6"/><path d="M240.2 260.5 250.2 247.5 242 249.2 232.1 262.2Z" fill="#2de739" stroke="#2de739" stroke-width="0.6"/><path d="M388.1 149.6 397.5 139.9 388.7 140.4 379.2 150.1Z" fill="#d7e633" stroke="#d7e633" stroke-width="0.6"/><path d="M489.7 97.2 498.7 89.6 489.4 89.1 480.3 96.7Z" fill="#ec8e2a" stroke="#ec8e2a" stroke-width="0.6"/><path d="M193.7 305.2 203.8 291.1 195.9 293.1 185.8 307.2Z" fill="#2ed765" stroke="#2ed765" stroke-width="0.6"/><path d="M323.3 194.1 333 183 324.4 184 314.7 195.1Z" fill="#8aed2c" stroke="#8aed2c" stroke-width="0.6"/><path d="M406.5 139.6 415.9 130.3 406.9 130.6 397.5 139.9Z" fill="#e8e433" stroke="#e8e433" stroke-width="0.6"/><path d="M258.4 246 268.4 233.4 260.1 234.9 250.2 247.5Z" fill="#31ed2a" stroke="#31ed2a" stroke-width="0.6"/><path d="M508.2 90.3 517.2 83.1 507.7 82.4 498.7 89.6Z" fill="#e97d29" stroke="#e97d29" stroke-width="0.6"/><path d="M526.7 83.9 535.6 77.1 526.1 76.2 517.2 83.1Z" fill="#e66f27" stroke="#e66f27" stroke-width="0.6"/><path d="M341.7 182.1 351.3 171.3 342.6 172.1 333 183Z" fill="#a3ec30" stroke="#a3ec30" stroke-width="0.6"/><path d="M425 130.1 434.3 121.2 425.2 121.3 415.9 130.3Z" fill="#ebd72e" stroke="#ebd72e" stroke-width="0.6"/><path d="M211.9 289.3 222 275.5 214 277.4 203.8 291.1Z" fill="#2cdd54" stroke="#2cdd54" stroke-width="0.6"/><path d="M276.8 232 286.7 219.7 278.3 221.1 268.4 233.4Z" fill="#3ef023" stroke="#3ef023" stroke-width="0.6"/><path d="M545.3 78.2 554.1 71.7 544.5 70.6 535.6 77.1Z" fill="#e36224" stroke="#e36224" stroke-width="0.6"/><path d="M443.5 121.2 452.7 112.6 443.6 112.5 434.3 121.2Z" fill="#eecb2a" stroke="#eecb2a" stroke-width="0.6"/><path d="M360.1 170.6 369.7 160.2 360.9 160.9 351.3 171.3Z" fill="#bbeb32" stroke="#bbeb32" stroke-width="0.6"/><path d="M563.8 73 572.6 66.9 562.9 65.6 554.1 71.7Z" fill="#e05622" stroke="#e05622" stroke-width="0.6"/><path d="M295.1 218.5 304.9 206.7 296.5 207.8 286.7 219.7Z" fill="#5bef26" stroke="#5bef26" stroke-width="0.6"/><path d="M230.1 273.9 240.2 260.5 232.1 262.2 222 275.5Z" fill="#2ae344" stroke="#2ae344" stroke-width="0.6"/><path d="M462 112.8 471.2 104.6 461.9 104.4 452.7 112.6Z" fill="#efb829" stroke="#efb829" stroke-width="0.6"/><path d="M582.4 68.3 591.1 62.6 581.3 61.1 572.6 66.9Z" fill="#dd4e20" stroke="#dd4e20" stroke-width="0.6"/><path d="M378.5 159.7 388.1 149.6 379.2 150.1 369.7 160.2Z" fill="#cce832" stroke="#cce832" stroke-width="0.6"/><path d="M183.4 319.7 193.7 305.2 185.8 307.2 175.5 321.7Z" fill="#30d371" stroke="#30d371" stroke-width="0.6"/><path d="M480.5 105 489.7 97.2 480.3 96.7 471.2 104.6Z" fill="#eea22b" stroke="#eea22b" stroke-width="0.6"/><path d="M313.5 205.6 323.3 194.1 314.7 195.1 304.9 206.7Z" fill="#77ef29" stroke="#77ef29" stroke-width="0.6"/><path d="M248.4 259 258.4 246 250.2 247.5 240.2 260.5Z" fill="#2de934" stroke="#2de934" stroke-width="0.6"/><path d="M397 149.3 406.5 139.6 397.5 139.9 388.1 149.6Z" fill="#dce633" stroke="#dce633" stroke-width="0.6"/><path d="M499.1 97.8 508.2 90.3 498.7 89.6 489.7 97.2Z" fill="#ec8c2a" stroke="#ec8c2a" stroke-width="0.6"/><path d="M331.9 193.2 341.7 182.1 333 183 323.3 194.1Z" fill="#91ee2d" stroke="#91ee2d" stroke-width="0.6"/><path d="M201.7 303.4 211.9 289.3 203.8 291.1 193.7 305.2Z" fill="#2dd95f" stroke="#2dd95f" stroke-width="0.6"/><path d="M415.6 139.4 425 130.1 415.9 130.3 406.5 139.6Z" fill="#e9e131" stroke="#e9e131" stroke-width="0.6"/><path d="M517.7 91.1 526.7 83.9 517.2 83.1 508.2 90.3Z" fill="#e97c29" stroke="#e97c29" stroke-width="0.6"/><path d="M266.8 244.6 276.8 232 268.4 233.4 258.4 246Z" fill="#31ef26" stroke="#31ef26" stroke-width="0.6"/><path d="M536.3 84.9 545.3 78.2 535.6 77.1 526.7 83.9Z" fill="#e66e27" stroke="#e66e27" stroke-width="0.6"/><path d="M434.1 130.1 443.5 121.2 434.3 121.2 425 130.1Z" fill="#ecd52d" stroke="#ecd52d" stroke-width="0.6"/><path d="M350.4 181.4 360.1 170.6 351.3 171.3 341.7 182.1Z" fill="#abed30" stroke="#abed30" stroke-width="0.6"/><path d="M220 287.6 230.1 273.9 222 275.5 211.9 289.3Z" fill="#2bdf4f" stroke="#2bdf4f" stroke-width="0.6"/><path d="M285.2 230.8 295.1 218.5 286.7 219.7 276.8 232Z" fill="#46f123" stroke="#46f123" stroke-width="0.6"/><path d="M555 79.4 563.8 73 554.1 71.7 545.3 78.2Z" fill="#e36224" stroke="#e36224" stroke-width="0.6"/><path d="M452.7 121.4 462 112.8 452.7 112.6 443.5 121.2Z" fill="#efc929" stroke="#efc929" stroke-width="0.6"/><path d="M368.9 170 378.5 159.7 369.7 160.2 360.1 170.6Z" fill="#c0eb31" stroke="#c0eb31" stroke-width="0.6"/><path d="M573.6 74.4 582.4 68.3 572.6 66.9 563.8 73Z" fill="#e05722" stroke="#e05722" stroke-width="0.6"/><path d="M303.6 217.4 313.5 205.6 304.9 206.7 295.1 218.5Z" fill="#63f027" stroke="#63f027" stroke-width="0.6"/><path d="M238.3 272.3 248.4 259 240.2 260.5 230.1 273.9Z" fill="#2ae53f" stroke="#2ae53f" stroke-width="0.6"/><path d="M471.3 113.2 480.5 105 471.2 104.6 462 112.8Z" fill="#efb529" stroke="#efb529" stroke-width="0.6"/><path d="M387.5 159.3 397 149.3 388.1 149.6 378.5 159.7Z" fill="#d0e832" stroke="#d0e832" stroke-width="0.6"/><path d="M490 105.6 499.1 97.8 489.7 97.2 480.5 105Z" fill="#eea02b" stroke="#eea02b" stroke-width="0.6"/><path d="M191.4 317.8 201.7 303.4 193.7 305.2 183.4 319.7Z" fill="#2ed56b" stroke="#2ed56b" stroke-width="0.6"/><path d="M322.1 204.7 331.9 193.2 323.3 194.1 313.5 205.6Z" fill="#7eef2a" stroke="#7eef2a" stroke-width="0.6"/><path d="M256.7 257.5 266.8 244.6 258.4 246 248.4 259Z" fill="#2eec2f" stroke="#2eec2f" stroke-width="0.6"/><path d="M406.1 149.1 415.6 139.4 406.5 139.6 397 149.3Z" fill="#e0e632" stroke="#e0e632" stroke-width="0.6"/><path d="M508.7 98.5 517.7 91.1 508.2 90.3 499.1 97.8Z" fill="#eb8b2a" stroke="#eb8b2a" stroke-width="0.6"/><path d="M340.7 192.5 350.4 181.4 341.7 182.1 331.9 193.2Z" fill="#98ee2d" stroke="#98ee2d" stroke-width="0.6"/><path d="M527.3 92 536.3 84.9 526.7 83.9 517.7 91.1Z" fill="#e97c29" stroke="#e97c29" stroke-width="0.6"/><path d="M424.7 139.4 434.1 130.1 425 130.1 415.6 139.4Z" fill="#eadf30" stroke="#eadf30" stroke-width="0.6"/><path d="M209.7 301.6 220 287.6 211.9 289.3 201.7 303.4Z" fill="#2cdc5a" stroke="#2cdc5a" stroke-width="0.6"/><path d="M275.2 243.3 285.2 230.8 276.8 232 266.8 244.6Z" fill="#32f221" stroke="#32f221" stroke-width="0.6"/><path d="M546.1 86.1 555 79.4 545.3 78.2 536.3 84.9Z" fill="#e66e27" stroke="#e66e27" stroke-width="0.6"/><path d="M443.4 130.3 452.7 121.4 443.5 121.2 434.1 130.1Z" fill="#edd22c" stroke="#edd22c" stroke-width="0.6"/><path d="M359.2 180.8 368.9 170 360.1 170.6 350.4 181.4Z" fill="#b1ed30" stroke="#b1ed30" stroke-width="0.6"/><path d="M564.8 80.7 573.6 74.4 563.8 73 555 79.4Z" fill="#e36324" stroke="#e36324" stroke-width="0.6"/><path d="M228.2 286 238.3 272.3 230.1 273.9 220 287.6Z" fill="#29e24a" stroke="#29e24a" stroke-width="0.6"/><path d="M293.7 229.6 303.6 217.4 295.1 218.5 285.2 230.8Z" fill="#4ef124" stroke="#4ef124" stroke-width="0.6"/><path d="M462.1 121.7 471.3 113.2 462 112.8 452.7 121.4Z" fill="#efc728" stroke="#efc728" stroke-width="0.6"/><path d="M377.9 169.6 387.5 159.3 378.5 159.7 368.9 170Z" fill="#c4eb31" stroke="#c4eb31" stroke-width="0.6"/><path d="M480.8 113.8 490 105.6 480.5 105 471.3 113.2Z" fill="#efb229" stroke="#efb229" stroke-width="0.6"/><path d="M312.2 216.5 322.1 204.7 313.5 205.6 303.6 217.4Z" fill="#6bf027" stroke="#6bf027" stroke-width="0.6"/><path d="M246.6 270.9 256.7 257.5 248.4 259 238.3 272.3Z" fill="#2be83a" stroke="#2be83a" stroke-width="0.6"/><path d="M396.5 159 406.1 149.1 397 149.3 387.5 159.3Z" fill="#d5e831" stroke="#d5e831" stroke-width="0.6"/><path d="M499.5 106.3 508.7 98.5 499.1 97.8 490 105.6Z" fill="#ee9e2b" stroke="#ee9e2b" stroke-width="0.6"/><path d="M199.5 316.1 209.7 301.6 201.7 303.4 191.4 317.8Z" fill="#2dd866" stroke="#2dd866" stroke-width="0.6"/><path d="M330.8 203.9 340.7 192.5 331.9 193.2 322.1 204.7Z" fill="#86ef2a" stroke="#86ef2a" stroke-width="0.6"/><path d="M415.2 149 424.7 139.4 415.6 139.4 406.1 149.1Z" fill="#e4e631" stroke="#e4e631" stroke-width="0.6"/><path d="M265.1 256.3 275.2 243.3 266.8 244.6 256.7 257.5Z" fill="#2fee2b" stroke="#2fee2b" stroke-width="0.6"/><path d="M518.3 99.5 527.3 92 517.7 91.1 508.7 98.5Z" fill="#eb8a2a" stroke="#eb8a2a" stroke-width="0.6"/><path d="M537.1 93.2 546.1 86.1 536.3 84.9 527.3 92Z" fill="#e97b29" stroke="#e97b29" stroke-width="0.6"/><path d="M349.5 191.8 359.2 180.8 350.4 181.4 340.7 192.5Z" fill="#9fee2d" stroke="#9fee2d" stroke-width="0.6"/><path d="M433.9 139.5 443.4 130.3 434.1 130.1 424.7 139.4Z" fill="#ebdc2e" stroke="#ebdc2e" stroke-width="0.6"/><path d="M217.9 300 228.2 286 220 287.6 209.7 301.6Z" fill="#2bde55" stroke="#2bde55" stroke-width="0.6"/><path d="M283.7 242.2 293.7 229.6 285.2 230.8 275.2 243.3Z" fill="#39f320" stroke="#39f320" stroke-width="0.6"/><path d="M555.9 87.4 564.8 80.7 555 79.4 546.1 86.1Z" fill="#e66f27" stroke="#e66f27" stroke-width="0.6"/><path d="M452.7 130.6 462.1 121.7 452.7 121.4 443.4 130.3Z" fill="#edd12b" stroke="#edd12b" stroke-width="0.6"/><path d="M368.2 180.3 377.9 169.6 368.9 170 359.2 180.8Z" fill="#b8ed30" stroke="#b8ed30" stroke-width="0.6"/><path d="M302.3 228.7 312.2 216.5 303.6 217.4 293.7 229.6Z" fill="#56f224" stroke="#56f224" stroke-width="0.6"/><path d="M236.4 284.5 246.6 270.9 238.3 272.3 228.2 286Z" fill="#28e444" stroke="#28e444" stroke-width="0.6"/><path d="M471.5 122.2 480.8 113.8 471.3 113.2 462.1 121.7Z" fill="#f0c527" stroke="#f0c527" stroke-width="0.6"/><path d="M386.9 169.4 396.5 159 387.5 159.3 377.9 169.6Z" fill="#c9ea30" stroke="#c9ea30" stroke-width="0.6"/><path d="M490.3 114.4 499.5 106.3 490 105.6 480.8 113.8Z" fill="#efb029" stroke="#efb029" stroke-width="0.6"/><path d="M320.9 215.7 330.8 203.9 322.1 204.7 312.2 216.5Z" fill="#72f127" stroke="#72f127" stroke-width="0.6"/><path d="M255 269.6 265.1 256.3 256.7 257.5 246.6 270.9Z" fill="#2cea35" stroke="#2cea35" stroke-width="0.6"/><path d="M405.6 158.9 415.2 149 406.1 149.1 396.5 159Z" fill="#d9e831" stroke="#d9e831" stroke-width="0.6"/><path d="M509.1 107.2 518.3 99.5 508.7 98.5 499.5 106.3Z" fill="#ee9c2b" stroke="#ee9c2b" stroke-width="0.6"/><path d="M339.6 203.3 349.5 191.8 340.7 192.5 330.8 203.9Z" fill="#8df02a" stroke="#8df02a" stroke-width="0.6"/><path d="M207.6 314.5 217.9 300 209.7 301.6 199.5 316.1Z" fill="#2cda61" stroke="#2cda61" stroke-width="0.6"/><path d="M424.4 149.1 433.9 139.5 424.7 139.4 415.2 149Z" fill="#e8e531" stroke="#e8e531" stroke-width="0.6"/><path d="M528 100.5 537.1 93.2 527.3 92 518.3 99.5Z" fill="#eb8a2a" stroke="#eb8a2a" stroke-width="0.6"/><path d="M273.6 255.1 283.7 242.2 275.2 243.3 265.1 256.3Z" fill="#2ff126" stroke="#2ff126" stroke-width="0.6"/><path d="M546.9 94.4 555.9 87.4 546.1 86.1 537.1 93.2Z" fill="#e97c29" stroke="#e97c29" stroke-width="0.6"/><path d="M443.3 139.8 452.7 130.6 443.4 130.3 433.9 139.5Z" fill="#ecda2d" stroke="#ecda2d" stroke-width="0.6"/><path d="M358.4 191.4 368.2 180.3 359.2 180.8 349.5 191.8Z" fill="#a6ee2d" stroke="#a6ee2d" stroke-width="0.6"/><path d="M226.2 298.6 236.4 284.5 228.2 286 217.9 300Z" fill="#2ae050" stroke="#2ae050" stroke-width="0.6"/><path d="M292.3 241.2 302.3 228.7 293.7 229.6 283.7 242.2Z" fill="#41f321" stroke="#41f321" stroke-width="0.6"/><path d="M462.1 131.1 471.5 122.2 462.1 121.7 452.7 130.6Z" fill="#eecf2a" stroke="#eecf2a" stroke-width="0.6"/><path d="M377.2 180 386.9 169.4 377.9 169.6 368.2 180.3Z" fill="#bded30" stroke="#bded30" stroke-width="0.6"/><path d="M311 227.8 320.9 215.7 312.2 216.5 302.3 228.7Z" fill="#5ef224" stroke="#5ef224" stroke-width="0.6"/><path d="M481 122.9 490.3 114.4 480.8 113.8 471.5 122.2Z" fill="#f0c227" stroke="#f0c227" stroke-width="0.6"/><path d="M244.8 283.2 255 269.6 246.6 270.9 236.4 284.5Z" fill="#28e640" stroke="#28e640" stroke-width="0.6"/><path d="M396 169.2 405.6 158.9 396.5 159 386.9 169.4Z" fill="#ceea30" stroke="#ceea30" stroke-width="0.6"/><path d="M499.9 115.3 509.1 107.2 499.5 106.3 490.3 114.4Z" fill="#efae2a" stroke="#efae2a" stroke-width="0.6"/><path d="M329.7 215 339.6 203.3 330.8 203.9 320.9 215.7Z" fill="#79f127" stroke="#79f127" stroke-width="0.6"/><path d="M263.4 268.4 273.6 255.1 265.1 256.3 255 269.6Z" fill="#2ced30" stroke="#2ced30" stroke-width="0.6"/><path d="M414.8 159 424.4 149.1 415.2 149 405.6 158.9Z" fill="#dde830" stroke="#dde830" stroke-width="0.6"/><path d="M518.8 108.2 528 100.5 518.3 99.5 509.1 107.2Z" fill="#ee9c2b" stroke="#ee9c2b" stroke-width="0.6"/><path d="M348.5 202.8 358.4 191.4 349.5 191.8 339.6 203.3Z" fill="#94f02b" stroke="#94f02b" stroke-width="0.6"/><path d="M537.8 101.8 546.9 94.4 537.1 93.2 528 100.5Z" fill="#eb8a2a" stroke="#eb8a2a" stroke-width="0.6"/><path d="M433.7 149.3 443.3 139.8 433.9 139.5 424.4 149.1Z" fill="#eae430" stroke="#eae430" stroke-width="0.6"/><path d="M215.8 313 226.2 298.6 217.9 300 207.6 314.5Z" fill="#2bdd5c" stroke="#2bdd5c" stroke-width="0.6"/><path d="M282.2 254.1 292.3 241.2 283.7 242.2 273.6 255.1Z" fill="#30f321" stroke="#30f321" stroke-width="0.6"/><path d="M452.7 140.2 462.1 131.1 452.7 130.6 443.3 139.8Z" fill="#ecd82c" stroke="#ecd82c" stroke-width="0.6"/><path d="M367.4 191 377.2 180 368.2 180.3 358.4 191.4Z" fill="#adef2e" stroke="#adef2e" stroke-width="0.6"/><path d="M234.5 297.2 244.8 283.2 236.4 284.5 226.2 298.6Z" fill="#28e34b" stroke="#28e34b" stroke-width="0.6"/><path d="M300.9 240.4 311 227.8 302.3 228.7 292.3 241.2Z" fill="#49f321" stroke="#49f321" stroke-width="0.6"/><path d="M471.6 131.7 481 122.9 471.5 122.2 462.1 131.1Z" fill="#efcd29" stroke="#efcd29" stroke-width="0.6"/><path d="M386.3 179.9 396 169.2 386.9 169.4 377.2 180Z" fill="#c1ed2f" stroke="#c1ed2f" stroke-width="0.6"/><path d="M490.6 123.7 499.9 115.3 490.3 114.4 481 122.9Z" fill="#f0c027" stroke="#f0c027" stroke-width="0.6"/><path d="M319.8 227.2 329.7 215 320.9 215.7 311 227.8Z" fill="#65f225" stroke="#65f225" stroke-width="0.6"/><path d="M253.2 282 263.4 268.4 255 269.6 244.8 283.2Z" fill="#29e93b" stroke="#29e93b" stroke-width="0.6"/><path d="M405.2 169.3 414.8 159 405.6 158.9 396 169.2Z" fill="#d2ea2f" stroke="#d2ea2f" stroke-width="0.6"/><path d="M509.6 116.3 518.8 108.2 509.1 107.2 499.9 115.3Z" fill="#efad2a" stroke="#efad2a" stroke-width="0.6"/><path d="M338.6 214.5 348.5 202.8 339.6 203.3 329.7 215Z" fill="#80f128" stroke="#80f128" stroke-width="0.6"/><path d="M424.1 159.2 433.7 149.3 424.4 149.1 414.8 159Z" fill="#e1e82f" stroke="#e1e82f" stroke-width="0.6"/><path d="M272 267.4 282.2 254.1 273.6 255.1 263.4 268.4Z" fill="#2def2c" stroke="#2def2c" stroke-width="0.6"/><path d="M528.6 109.4 537.8 101.8 528 100.5 518.8 108.2Z" fill="#ee9b2b" stroke="#ee9b2b" stroke-width="0.6"/><path d="M357.5 202.4 367.4 191 358.4 191.4 348.5 202.8Z" fill="#9af02b" stroke="#9af02b" stroke-width="0.6"/><path d="M443.1 149.7 452.7 140.2 443.3 139.8 433.7 149.3Z" fill="#ebe22f" stroke="#ebe22f" stroke-width="0.6"/><path d="M224.1 311.6 234.5 297.2 226.2 298.6 215.8 313Z" fill="#2adf57" stroke="#2adf57" stroke-width="0.6"/><path d="M290.8 253.2 300.9 240.4 292.3 241.2 282.2 254.1Z" fill="#33f51e" stroke="#33f51e" stroke-width="0.6"/><path d="M462.2 140.8 471.6 131.7 462.1 131.1 452.7 140.2Z" fill="#edd72b" stroke="#edd72b" stroke-width="0.6"/><path d="M376.5 190.8 386.3 179.9 377.2 180 367.4 191Z" fill="#b3ef2e" stroke="#b3ef2e" stroke-width="0.6"/><path d="M309.7 239.6 319.8 227.2 311 227.8 300.9 240.4Z" fill="#50f422" stroke="#50f422" stroke-width="0.6"/><path d="M242.9 296 253.2 282 244.8 283.2 234.5 297.2Z" fill="#27e546" stroke="#27e546" stroke-width="0.6"/><path d="M481.2 132.4 490.6 123.7 481 122.9 471.6 131.7Z" fill="#efcc28" stroke="#efcc28" stroke-width="0.6"/><path d="M395.5 179.9 405.2 169.3 396 169.2 386.3 179.9Z" fill="#c6ed2e" stroke="#c6ed2e" stroke-width="0.6"/><path d="M500.3 124.6 509.6 116.3 499.9 115.3 490.6 123.7Z" fill="#f0be27" stroke="#f0be27" stroke-width="0.6"/><path d="M328.6 226.6 338.6 214.5 329.7 215 319.8 227.2Z" fill="#6cf325" stroke="#6cf325" stroke-width="0.6"/><path d="M261.7 281 272 267.4 263.4 268.4 253.2 282Z" fill="#2aeb36" stroke="#2aeb36" stroke-width="0.6"/><path d="M414.5 169.4 424.1 159.2 414.8 159 405.2 169.3Z" fill="#d6ea2f" stroke="#d6ea2f" stroke-width="0.6"/><path d="M519.4 117.4 528.6 109.4 518.8 108.2 509.6 116.3Z" fill="#efac2a" stroke="#efac2a" stroke-width="0.6"/><path d="M347.6 214.1 357.5 202.4 348.5 202.8 338.6 214.5Z" fill="#87f128" stroke="#87f128" stroke-width="0.6"/><path d="M433.5 159.6 443.1 149.7 433.7 149.3 424.1 159.2Z" fill="#e5e72f" stroke="#e5e72f" stroke-width="0.6"/><path d="M280.6 266.5 290.8 253.2 282.2 254.1 272 267.4Z" fill="#2df227" stroke="#2df227" stroke-width="0.6"/><path d="M452.6 150.2 462.2 140.8 452.7 140.2 443.1 149.7Z" fill="#ece02d" stroke="#ece02d" stroke-width="0.6"/><path d="M366.6 202.2 376.5 190.8 367.4 191 357.5 202.4Z" fill="#a1f02b" stroke="#a1f02b" stroke-width="0.6"/><path d="M232.5 310.4 242.9 296 234.5 297.2 224.1 311.6Z" fill="#29e152" stroke="#29e152" stroke-width="0.6"/><path d="M299.5 252.5 309.7 239.6 300.9 240.4 290.8 253.2Z" fill="#3af51f" stroke="#3af51f" stroke-width="0.6"/><path d="M471.7 141.5 481.2 132.4 471.6 131.7 462.2 140.8Z" fill="#eed52a" stroke="#eed52a" stroke-width="0.6"/><path d="M385.6 190.8 395.5 179.9 386.3 179.9 376.5 190.8Z" fill="#b9ef2e" stroke="#b9ef2e" stroke-width="0.6"/><path d="M490.9 133.3 500.3 124.6 490.6 123.7 481.2 132.4Z" fill="#f0cb28" stroke="#f0cb28" stroke-width="0.6"/><path d="M318.5 239.1 328.6 226.6 319.8 227.2 309.7 239.6Z" fill="#57f422" stroke="#57f422" stroke-width="0.6"/><path d="M251.4 295 261.7 281 253.2 282 242.9 296Z" fill="#26e741" stroke="#26e741" stroke-width="0.6"/><path d="M404.7 180 414.5 169.4 405.2 169.3 395.5 179.9Z" fill="#caec2e" stroke="#caec2e" stroke-width="0.6"/><path d="M510.1 125.8 519.4 117.4 509.6 116.3 500.3 124.6Z" fill="#f0bd27" stroke="#f0bd27" stroke-width="0.6"/><path d="M337.6 226.2 347.6 214.1 338.6 214.5 328.6 226.6Z" fill="#73f325" stroke="#73f325" stroke-width="0.6"/><path d="M423.9 169.7 433.5 159.6 424.1 159.2 414.5 169.4Z" fill="#daea2e" stroke="#daea2e" stroke-width="0.6"/><path d="M270.3 280.1 280.6 266.5 272 267.4 261.7 281Z" fill="#2aee32" stroke="#2aee32" stroke-width="0.6"/><path d="M356.6 213.9 366.6 202.2 357.5 202.4 347.6 214.1Z" fill="#8ef228" stroke="#8ef228" stroke-width="0.6"/><path d="M443 160.1 452.6 150.2 443.1 149.7 433.5 159.6Z" fill="#e9e72e" stroke="#e9e72e" stroke-width="0.6"/><path d="M289.3 265.7 299.5 252.5 290.8 253.2 280.6 266.5Z" fill="#2ef423" stroke="#2ef423" stroke-width="0.6"/><path d="M462.2 150.9 471.7 141.5 462.2 140.8 452.6 150.2Z" fill="#edde2c" stroke="#edde2c" stroke-width="0.6"/><path d="M375.8 202.1 385.6 190.8 376.5 190.8 366.6 202.2Z" fill="#a7f12b" stroke="#a7f12b" stroke-width="0.6"/><path d="M308.4 251.9 318.5 239.1 309.7 239.6 299.5 252.5Z" fill="#42f61f" stroke="#42f61f" stroke-width="0.6"/><path d="M241 309.4 251.4 295 242.9 296 232.5 310.4Z" fill="#27e44d" stroke="#27e44d" stroke-width="0.6"/><path d="M481.4 142.4 490.9 133.3 481.2 132.4 471.7 141.5Z" fill="#eed42a" stroke="#eed42a" stroke-width="0.6"/><path d="M394.9 190.9 404.7 180 395.5 179.9 385.6 190.8Z" fill="#bdef2d" stroke="#bdef2d" stroke-width="0.6"/><path d="M500.7 134.4 510.1 125.8 500.3 124.6 490.9 133.3Z" fill="#f0ca27" stroke="#f0ca27" stroke-width="0.6"/><path d="M327.5 238.7 337.6 226.2 328.6 226.6 318.5 239.1Z" fill="#5ef422" stroke="#5ef422" stroke-width="0.6"/><path d="M260 294.1 270.3 280.1 261.7 281 251.4 295Z" fill="#27ea3d" stroke="#27ea3d" stroke-width="0.6"/><path d="M414.1 180.3 423.9 169.7 414.5 169.4 404.7 180Z" fill="#ceec2d" stroke="#ceec2d" stroke-width="0.6"/><path d="M346.6 226 356.6 213.9 347.6 214.1 337.6 226.2Z" fill="#7af325" stroke="#7af325" stroke-width="0.6"/><path d="M433.3 170.2 443 160.1 433.5 159.6 423.9 169.7Z" fill="#ddea2d" stroke="#ddea2d" stroke-width="0.6"/><path d="M279 279.3 289.3 265.7 280.6 266.5 270.3 280.1Z" fill="#2bf02d" stroke="#2bf02d" stroke-width="0.6"/><path d="M452.6 160.7 462.2 150.9 452.6 150.2 443 160.1Z" fill="#ece72e" stroke="#ece72e" stroke-width="0.6"/><path d="M365.8 213.8 375.8 202.1 366.6 202.2 356.6 213.9Z" fill="#94f228" stroke="#94f228" stroke-width="0.6"/><path d="M298.1 265.1 308.4 251.9 299.5 252.5 289.3 265.7Z" fill="#2ef61e" stroke="#2ef61e" stroke-width="0.6"/><path d="M471.9 151.8 481.4 142.4 471.7 141.5 462.2 150.9Z" fill="#eddd2b" stroke="#eddd2b" stroke-width="0.6"/><path d="M385 202.2 394.9 190.9 385.6 190.8 375.8 202.1Z" fill="#adf12b" stroke="#adf12b" stroke-width="0.6"/><path d="M317.3 251.5 327.5 238.7 318.5 239.1 308.4 251.9Z" fill="#49f61f" stroke="#49f61f" stroke-width="0.6"/><path d="M249.6 308.4 260 294.1 251.4 295 241 309.4Z" fill="#26e648" stroke="#26e648" stroke-width="0.6"/><path d="M491.2 143.5 500.7 134.4 490.9 133.3 481.4 142.4Z" fill="#efd329" stroke="#efd329" stroke-width="0.6"/><path d="M404.3 191.2 414.1 180.3 404.7 180 394.9 190.9Z" fill="#c1ef2c" stroke="#c1ef2c" stroke-width="0.6"/><path d="M336.5 238.4 346.6 226 337.6 226.2 327.5 238.7Z" fill="#65f522" stroke="#65f522" stroke-width="0.6"/><path d="M268.7 293.3 279 279.3 270.3 280.1 260 294.1Z" fill="#28ec38" stroke="#28ec38" stroke-width="0.6"/><path d="M423.6 180.7 433.3 170.2 423.9 169.7 414.1 180.3Z" fill="#d2ec2c" stroke="#d2ec2c" stroke-width="0.6"/><path d="M355.7 225.8 365.8 213.8 356.6 213.9 346.6 226Z" fill="#80f425" stroke="#80f425" stroke-width="0.6"/><path d="M442.9 170.9 452.6 160.7 443 160.1 433.3 170.2Z" fill="#e1ea2d" stroke="#e1ea2d" stroke-width="0.6"/><path d="M287.8 278.7 298.1 265.1 289.3 265.7 279 279.3Z" fill="#2bf329" stroke="#2bf329" stroke-width="0.6"/><path d="M462.3 161.6 471.9 151.8 462.2 150.9 452.6 160.7Z" fill="#ede62d" stroke="#ede62d" stroke-width="0.6"/><path d="M375 213.9 385 202.2 375.8 202.1 365.8 213.8Z" fill="#9af228" stroke="#9af228" stroke-width="0.6"/><path d="M307 264.7 317.3 251.5 308.4 251.9 298.1 265.1Z" fill="#32f81c" stroke="#32f81c" stroke-width="0.6"/><path d="M481.7 152.8 491.2 143.5 481.4 142.4 471.9 151.8Z" fill="#eedc2a" stroke="#eedc2a" stroke-width="0.6"/><path d="M394.3 202.5 404.3 191.2 394.9 190.9 385 202.2Z" fill="#b2f12b" stroke="#b2f12b" stroke-width="0.6"/><path d="M326.3 251.2 336.5 238.4 327.5 238.7 317.3 251.5Z" fill="#50f61f" stroke="#50f61f" stroke-width="0.6"/><path d="M258.2 307.6 268.7 293.3 260 294.1 249.6 308.4Z" fill="#25e843" stroke="#25e843" stroke-width="0.6"/><path d="M413.7 191.6 423.6 180.7 414.1 180.3 404.3 191.2Z" fill="#c5ef2c" stroke="#c5ef2c" stroke-width="0.6"/><path d="M345.6 238.3 355.7 225.8 346.6 226 336.5 238.4Z" fill="#6cf522" stroke="#6cf522" stroke-width="0.6"/><path d="M433.1 181.4 442.9 170.9 433.3 170.2 423.6 180.7Z" fill="#d5ec2c" stroke="#d5ec2c" stroke-width="0.6"/><path d="M277.4 292.7 287.8 278.7 279 279.3 268.7 293.3Z" fill="#28ef33" stroke="#28ef33" stroke-width="0.6"/><path d="M365 225.9 375 213.9 365.8 213.8 355.7 225.8Z" fill="#86f425" stroke="#86f425" stroke-width="0.6"/><path d="M452.6 171.7 462.3 161.6 452.6 160.7 442.9 170.9Z" fill="#e4ea2c" stroke="#e4ea2c" stroke-width="0.6"/><path d="M296.7 278.2 307 264.7 298.1 265.1 287.8 278.7Z" fill="#2cf524" stroke="#2cf524" stroke-width="0.6"/><path d="M472 162.5 481.7 152.8 471.9 151.8 462.3 161.6Z" fill="#ede42c" stroke="#ede42c" stroke-width="0.6"/><path d="M384.4 214.1 394.3 202.5 385 202.2 375 213.9Z" fill="#a0f328" stroke="#a0f328" stroke-width="0.6"/><path d="M316 264.3 326.3 251.2 317.3 251.5 307 264.7Z" fill="#39f81c" stroke="#39f81c" stroke-width="0.6"/><path d="M403.8 202.9 413.7 191.6 404.3 191.2 394.3 202.5Z" fill="#b8f12b" stroke="#b8f12b" stroke-width="0.6"/><path d="M335.4 251 345.6 238.3 336.5 238.4 326.3 251.2Z" fill="#56f720" stroke="#56f720" stroke-width="0.6"/><path d="M267 307 277.4 292.7 268.7 293.3 258.2 307.6Z" fill="#25eb3f" stroke="#25eb3f" stroke-width="0.6"/><path d="M423.3 192.2 433.1 181.4 423.6 180.7 413.7 191.6Z" fill="#c9ef2b" stroke="#c9ef2b" stroke-width="0.6"/><path d="M354.8 238.3 365 225.9 355.7 225.8 345.6 238.3Z" fill="#72f622" stroke="#72f622" stroke-width="0.6"/><path d="M442.8 182.1 452.6 171.7 442.9 170.9 433.1 181.4Z" fill="#d9ec2b" stroke="#d9ec2b" stroke-width="0.6"/><path d="M286.3 292.2 296.7 278.2 287.8 278.7 277.4 292.7Z" fill="#29f12f" stroke="#29f12f" stroke-width="0.6"/><path d="M462.3 172.6 472 162.5 462.3 161.6 452.6 171.7Z" fill="#e7ea2b" stroke="#e7ea2b" stroke-width="0.6"/><path d="M374.3 226.1 384.4 214.1 375 213.9 365 225.9Z" fill="#8cf425" stroke="#8cf425" stroke-width="0.6"/><path d="M305.7 277.9 316 264.3 307 264.7 296.7 278.2Z" fill="#2cf720" stroke="#2cf720" stroke-width="0.6"/><path d="M393.8 214.5 403.8 202.9 394.3 202.5 384.4 214.1Z" fill="#a5f328" stroke="#a5f328" stroke-width="0.6"/><path d="M325.1 264.2 335.4 251 326.3 251.2 316 264.3Z" fill="#40f91d" stroke="#40f91d" stroke-width="0.6"/><path d="M413.3 203.4 423.3 192.2 413.7 191.6 403.8 202.9Z" fill="#bcf12a" stroke="#bcf12a" stroke-width="0.6"/><path d="M344.6 251 354.8 238.3 345.6 238.3 335.4 251Z" fill="#5df720" stroke="#5df720" stroke-width="0.6"/><path d="M275.8 306.5 286.3 292.2 277.4 292.7 267 307Z" fill="#25ed3a" stroke="#25ed3a" stroke-width="0.6"/><path d="M432.9 192.9 442.8 182.1 433.1 181.4 423.3 192.2Z" fill="#ccef2a" stroke="#ccef2a" stroke-width="0.6"/><path d="M364.1 238.5 374.3 226.1 365 225.9 354.8 238.3Z" fill="#78f623" stroke="#78f623" stroke-width="0.6"/><path d="M452.5 183.1 462.3 172.6 452.6 171.7 442.8 182.1Z" fill="#dcec2b" stroke="#dcec2b" stroke-width="0.6"/><path d="M295.3 291.8 305.7 277.9 296.7 278.2 286.3 292.2Z" fill="#29f32b" stroke="#29f32b" stroke-width="0.6"/><path d="M383.7 226.4 393.8 214.5 384.4 214.1 374.3 226.1Z" fill="#92f525" stroke="#92f525" stroke-width="0.6"/><path d="M314.7 277.7 325.1 264.2 316 264.3 305.7 277.9Z" fill="#2df91c" stroke="#2df91c" stroke-width="0.6"/><path d="M403.3 215 413.3 203.4 403.8 202.9 393.8 214.5Z" fill="#abf328" stroke="#abf328" stroke-width="0.6"/><path d="M334.3 264.2 344.6 251 335.4 251 325.1 264.2Z" fill="#47f91d" stroke="#47f91d" stroke-width="0.6"/><path d="M423 204.1 432.9 192.9 423.3 192.2 413.3 203.4Z" fill="#bff12a" stroke="#bff12a" stroke-width="0.6"/><path d="M353.9 251.2 364.1 238.5 354.8 238.3 344.6 251Z" fill="#63f820" stroke="#63f820" stroke-width="0.6"/><path d="M442.6 193.8 452.5 183.1 442.8 182.1 432.9 192.9Z" fill="#d0ef2a" stroke="#d0ef2a" stroke-width="0.6"/><path d="M284.7 306.1 295.3 291.8 286.3 292.2 275.8 306.5Z" fill="#26ef36" stroke="#26ef36" stroke-width="0.6"/><path d="M373.5 238.8 383.7 226.4 374.3 226.1 364.1 238.5Z" fill="#7ef623" stroke="#7ef623" stroke-width="0.6"/><path d="M304.3 291.6 314.7 277.7 305.7 277.9 295.3 291.8Z" fill="#29f627" stroke="#29f627" stroke-width="0.6"/><path d="M393.2 227 403.3 215 393.8 214.5 383.7 226.4Z" fill="#97f525" stroke="#97f525" stroke-width="0.6"/><path d="M323.9 277.7 334.3 264.2 325.1 264.2 314.7 277.7Z" fill="#30fb1a" stroke="#30fb1a" stroke-width="0.6"/><path d="M412.9 215.7 423 204.1 413.3 203.4 403.3 215Z" fill="#aff428" stroke="#aff428" stroke-width="0.6"/><path d="M343.6 264.3 353.9 251.2 344.6 251 334.3 264.2Z" fill="#4df91d" stroke="#4df91d" stroke-width="0.6"/><path d="M432.7 205 442.6 193.8 432.9 192.9 423 204.1Z" fill="#c3f129" stroke="#c3f129" stroke-width="0.6"/><path d="M363.3 251.5 373.5 238.8 364.1 238.5 353.9 251.2Z" fill="#69f820" stroke="#69f820" stroke-width="0.6"/><path d="M293.8 305.9 304.3 291.6 295.3 291.8 284.7 306.1Z" fill="#26f232" stroke="#26f232" stroke-width="0.6"/><path d="M383 239.3 393.2 227 383.7 226.4 373.5 238.8Z" fill="#83f722" stroke="#83f722" stroke-width="0.6"/><path d="M313.4 291.6 323.9 277.7 314.7 277.7 304.3 291.6Z" fill="#2af822" stroke="#2af822" stroke-width="0.6"/><path d="M402.8 227.6 412.9 215.7 403.3 215 393.2 227Z" fill="#9cf525" stroke="#9cf525" stroke-width="0.6"/><path d="M333.2 277.8 343.6 264.3 334.3 264.2 323.9 277.7Z" fill="#36fb1a" stroke="#36fb1a" stroke-width="0.6"/><path d="M422.6 216.6 432.7 205 423 204.1 412.9 215.7Z" fill="#b4f428" stroke="#b4f428" stroke-width="0.6"/><path d="M352.9 264.6 363.3 251.5 353.9 251.2 343.6 264.3Z" fill="#53fa1d" stroke="#53fa1d" stroke-width="0.6"/><path d="M372.7 252 383 239.3 373.5 238.8 363.3 251.5Z" fill="#6ef820" stroke="#6ef820" stroke-width="0.6"/><path d="M302.9 305.9 313.4 291.6 304.3 291.6 293.8 305.9Z" fill="#27f42e" stroke="#27f42e" stroke-width="0.6"/><path d="M392.6 239.9 402.8 227.6 393.2 227 383 239.3Z" fill="#88f723" stroke="#88f723" stroke-width="0.6"/><path d="M322.7 291.7 333.2 277.8 323.9 277.7 313.4 291.6Z" fill="#2afa1e" stroke="#2afa1e" stroke-width="0.6"/><path d="M412.5 228.5 422.6 216.6 412.9 215.7 402.8 227.6Z" fill="#a0f525" stroke="#a0f525" stroke-width="0.6"/><path d="M342.5 278.1 352.9 264.6 343.6 264.3 333.2 277.8Z" fill="#3cfb1a" stroke="#3cfb1a" stroke-width="0.6"/><path d="M362.4 265.1 372.7 252 363.3 251.5 352.9 264.6Z" fill="#57fa1d" stroke="#57fa1d" stroke-width="0.6"/><path d="M382.3 252.6 392.6 239.9 383 239.3 372.7 252Z" fill="#71f820" stroke="#71f820" stroke-width="0.6"/><path d="M312.1 306 322.7 291.7 313.4 291.6 302.9 305.9Z" fill="#27f52b" stroke="#27f52b" stroke-width="0.6"/><path d="M402.3 240.8 412.5 228.5 402.8 227.6 392.6 239.9Z" fill="#8af723" stroke="#8af723" stroke-width="0.6"/><path d="M332 292 342.5 278.1 333.2 277.8 322.7 291.7Z" fill="#2bfb1c" stroke="#2bfb1c" stroke-width="0.6"/><path d="M352 278.6 362.4 265.1 352.9 264.6 342.5 278.1Z" fill="#3ffb1a" stroke="#3ffb1a" stroke-width="0.6"/><path d="M372 265.7 382.3 252.6 372.7 252 362.4 265.1Z" fill="#5af91d" stroke="#5af91d" stroke-width="0.6"/><path d="M392 253.4 402.3 240.8 392.6 239.9 382.3 252.6Z" fill="#74f820" stroke="#74f820" stroke-width="0.6"/><path d="M321.4 306.3 332 292 322.7 291.7 312.1 306Z" fill="#28f629" stroke="#28f629" stroke-width="0.6"/><path d="M341.4 292.4 352 278.6 342.5 278.1 332 292Z" fill="#2bfb1b" stroke="#2bfb1b" stroke-width="0.6"/><path d="M361.5 279.2 372 265.7 362.4 265.1 352 278.6Z" fill="#43fb1b" stroke="#43fb1b" stroke-width="0.6"/><path d="M381.6 266.5 392 253.4 382.3 252.6 372 265.7Z" fill="#5df91e" stroke="#5df91e" stroke-width="0.6"/><path d="M330.8 306.7 341.4 292.4 332 292 321.4 306.3Z" fill="#28f727" stroke="#28f727" stroke-width="0.6"/><path d="M351 293 361.5 279.2 352 278.6 341.4 292.4Z" fill="#2cfc19" stroke="#2cfc19" stroke-width="0.6"/><path d="M371.2 279.9 381.6 266.5 372 265.7 361.5 279.2Z" fill="#46fb1b" stroke="#46fb1b" stroke-width="0.6"/><path d="M340.4 307.3 351 293 341.4 292.4 330.8 306.7Z" fill="#28f725" stroke="#28f725" stroke-width="0.6"/><path d="M360.6 293.8 371.2 279.9 361.5 279.2 351 293Z" fill="#2efc19" stroke="#2efc19" stroke-width="0.6"/><path d="M350 308 360.6 293.8 351 293 340.4 307.3Z" fill="#29f823" stroke="#29f823" stroke-width="0.6"/><path d="M350 308 345.2 307.6 340.4 307.3 335.6 307 330.8 306.7 326.1 306.5 321.4 306.3 316.8 306.1 312.1 306 307.5 305.9 302.9 305.9 298.3 305.9 293.8 305.9 289.2 306 284.7 306.1 280.3 306.3 275.8 306.5 271.4 306.7 267 307 262.6 307.3 258.2 307.6 253.9 308 249.6 308.4 245.3 308.9 241 309.4 236.7 309.9 232.5 310.4 228.3 311 224.1 311.6 220 312.3 215.8 313 211.7 313.7 207.6 314.5 203.5 315.2 199.5 316.1 195.4 316.9 191.4 317.8 187.4 318.7 183.4 319.7 179.5 320.7 175.5 321.7 171.6 322.7 167.7 323.8 163.8 324.9 160 326 156.1 327.2 152.3 328.4 148.5 329.6 144.7 330.8 141 332.1 137.2 333.4 133.5 334.8 129.8 336.1 126.1 337.5 122.5 338.9 118.8 340.4 115.2 341.9 111.6 343.4 108 344.9 104.4 346.5 100.8 348.1M350 308 355.3 300.9 360.6 293.8 365.9 286.8 371.2 279.9 376.4 273.2 381.6 266.5 386.8 259.9 392 253.4 397.2 247 402.3 240.8 407.4 234.6 412.5 228.5 417.6 222.5 422.6 216.6 427.7 210.7 432.7 205 437.7 199.4 442.6 193.8 447.6 188.4 452.5 183.1 457.4 177.8 462.3 172.6 467.2 167.5 472 162.5 476.9 157.6 481.7 152.8 486.4 148.1 491.2 143.5 496 138.9 500.7 134.4 505.4 130.1 510.1 125.8 514.7 121.5 519.4 117.4 524 113.4 528.6 109.4 533.2 105.6 537.8 101.8 542.3 98.1 546.9 94.4 551.4 90.9 555.9 87.4 560.3 84 564.8 80.7 569.2 77.5 573.6 74.4 578 71.3 582.4 68.3 586.8 65.4 591.1 62.6 595.4 59.8 599.7 57.1 604 54.5 608.3 52 612.5 49.6 616.7 47.2 620.9 44.9 625.1 42.7 629.3 40.5 633.5 38.4M355.3 300.9 350.5 300.5 345.7 300.1 340.9 299.8 336.2 299.5 331.4 299.3 326.7 299.1 322.1 298.9 317.4 298.8 312.8 298.7 308.2 298.7 303.6 298.7 299 298.7 294.5 298.8 290 298.9 285.5 299.1 281.1 299.3 276.6 299.5 272.2 299.8 267.8 300.1 263.5 300.4 259.1 300.8 254.8 301.2 250.5 301.6 246.2 302.1 242 302.6 237.7 303.2 233.5 303.8 229.3 304.4 225.1 305 221 305.7 216.9 306.5 212.8 307.2 208.7 308 204.6 308.8 200.6 309.7 196.5 310.5 192.5 311.5 188.6 312.4 184.6 313.4 180.7 314.4 176.7 315.4 172.8 316.5 168.9 317.6 165.1 318.7 161.2 319.9 157.4 321.1 153.6 322.3 149.8 323.5 146.1 324.8 142.3 326.1 138.6 327.4 134.9 328.8 131.2 330.2 127.5 331.6 123.8 333.1 120.2 334.5 116.6 336 113 337.6 109.4 339.1 105.8 340.7M345.2 307.6 350.5 300.5 355.8 293.4 361.1 286.4 366.3 279.5 371.6 272.8 376.8 266.1 382 259.5 387.2 253 392.3 246.6 397.4 240.3 402.6 234.1 407.6 228 412.7 222 417.8 216.1 422.8 210.3 427.8 204.6 432.8 198.9 437.8 193.4 442.7 187.9 447.6 182.6 452.5 177.3 457.4 172.1 462.3 167 467.1 162 472 157.1 476.8 152.3 481.5 147.6 486.3 142.9 491.1 138.3 495.8 133.9 500.5 129.5 505.2 125.2 509.8 121 514.5 116.8 519.1 112.8 523.7 108.8 528.3 104.9 532.9 101.1 537.4 97.4 541.9 93.8 546.5 90.2 550.9 86.7 555.4 83.3 559.9 80 564.3 76.8 568.7 73.6 573.1 70.6 577.5 67.6 581.8 64.6 586.2 61.8 590.5 59 594.8 56.3 599.1 53.7 603.3 51.2 607.6 48.7 611.8 46.3 616 44 620.2 41.8 624.4 39.6 628.5 37.5M360.6 293.8 355.8 293.4 351 293 346.2 292.7 341.4 292.4 336.7 292.2 332 292 327.3 291.8 322.7 291.7 318 291.6 313.4 291.6 308.9 291.6 304.3 291.6 299.8 291.7 295.3 291.8 290.8 292 286.3 292.2 281.9 292.4 277.4 292.7 273 293 268.7 293.3 264.3 293.7 260 294.1 255.7 294.5 251.4 295 247.1 295.5 242.9 296 238.7 296.6 234.5 297.2 230.3 297.9 226.2 298.6 222 299.3 217.9 300 213.8 300.8 209.7 301.6 205.7 302.5 201.7 303.4 197.7 304.3 193.7 305.2 189.7 306.2 185.8 307.2 181.8 308.2 177.9 309.3 174 310.4 170.2 311.5 166.3 312.7 162.5 313.9 158.7 315.1 154.9 316.3 151.1 317.6 147.3 318.9 143.6 320.2 139.9 321.6 136.2 323 132.5 324.4 128.9 325.8 125.2 327.3 121.6 328.8 118 330.3 114.4 331.9 110.8 333.4M340.4 307.3 345.7 300.1 351 293 356.3 286.1 361.5 279.2 366.7 272.4 372 265.7 377.2 259.1 382.3 252.6 387.5 246.2 392.6 239.9 397.7 233.7 402.8 227.6 407.9 221.6 412.9 215.7 417.9 209.9 423 204.1 427.9 198.5 432.9 192.9 437.8 187.5 442.8 182.1 447.7 176.8 452.6 171.7 457.4 166.6 462.3 161.6 467.1 156.6 471.9 151.8 476.7 147.1 481.4 142.4 486.2 137.8 490.9 133.3 495.6 129 500.3 124.6 505 120.4 509.6 116.3 514.2 112.2 518.8 108.2 523.4 104.3 528 100.5 532.5 96.8 537.1 93.2 541.6 89.6 546.1 86.1 550.5 82.7 555 79.4 559.4 76.1 563.8 73 568.2 69.9 572.6 66.9 576.9 63.9 581.3 61.1 585.6 58.3 589.9 55.6 594.2 53 598.5 50.4 602.7 47.9 606.9 45.5 611.1 43.2 615.3 41 619.5 38.8 623.7 36.7M365.9 286.8 361.1 286.4 356.3 286.1 351.5 285.7 346.7 285.4 342 285.2 337.3 285 332.6 284.8 327.9 284.7 323.3 284.6 318.7 284.6 314.1 284.6 309.5 284.6 305 284.7 300.5 284.8 296 285 291.5 285.1 287.1 285.4 282.6 285.6 278.2 285.9 273.9 286.3 269.5 286.6 265.2 287 260.9 287.5 256.6 287.9 252.3 288.5 248.1 289 243.8 289.6 239.6 290.2 235.5 290.8 231.3 291.5 227.2 292.2 223 293 218.9 293.7 214.9 294.6 210.8 295.4 206.8 296.3 202.8 297.2 198.8 298.1 194.8 299.1 190.8 300.1 186.9 301.1 183 302.2 179.1 303.3 175.2 304.4 171.4 305.5 167.5 306.7 163.7 307.9 159.9 309.2 156.1 310.4 152.4 311.7 148.6 313.1 144.9 314.4 141.2 315.8 137.5 317.2 133.9 318.7 130.2 320.1 126.6 321.6 123 323.1 119.4 324.7 115.8 326.3M335.6 307 340.9 299.8 346.2 292.7 351.5 285.7 356.7 278.8 362 272.1 367.2 265.4 372.4 258.8 377.5 252.3 382.7 245.9 387.8 239.6 392.9 233.4 398 227.3 403.1 221.3 408.1 215.3 413.1 209.5 418.1 203.8 423.1 198.1 428.1 192.6 433 187.1 437.9 181.7 442.8 176.4 447.7 171.2 452.6 166.1 457.4 161.1 462.2 156.2 467 151.4 471.8 146.6 476.6 141.9 481.3 137.4 486 132.9 490.7 128.5 495.4 124.1 500.1 119.9 504.7 115.7 509.4 111.7 514 107.7 518.5 103.8 523.1 100 527.7 96.2 532.2 92.6 536.7 89 541.2 85.5 545.7 82.1 550.1 78.8 554.5 75.5 559 72.3 563.3 69.2 567.7 66.2 572.1 63.3 576.4 60.4 580.7 57.6 585 54.9 589.3 52.2 593.6 49.7 597.8 47.2 602.1 44.8 606.3 42.4 610.5 40.2 614.6 38 618.8 35.9M371.2 279.9 366.3 279.5 361.5 279.2 356.7 278.8 352 278.6 347.2 278.3 342.5 278.1 337.8 277.9 333.2 277.8 328.5 277.7 323.9 277.7 319.3 277.7 314.7 277.7 310.2 277.8 305.7 277.9 301.2 278 296.7 278.2 292.3 278.4 287.8 278.7 283.4 279 279 279.3 274.7 279.7 270.3 280.1 266 280.5 261.7 281 257.5 281.5 253.2 282 249 282.6 244.8 283.2 240.6 283.9 236.4 284.5 232.3 285.2 228.2 286 224.1 286.8 220 287.6 215.9 288.4 211.9 289.3 207.8 290.2 203.8 291.1 199.9 292.1 195.9 293.1 192 294.1 188 295.2 184.1 296.2 180.3 297.4 176.4 298.5 172.6 299.7 168.7 300.9 164.9 302.1 161.2 303.4 157.4 304.7 153.6 306 149.9 307.4 146.2 308.7 142.5 310.1 138.8 311.6 135.2 313 131.5 314.5 127.9 316.1 124.3 317.6 120.7 319.2M330.8 306.7 336.2 299.5 341.4 292.4 346.7 285.4 352 278.6 357.2 271.8 362.4 265.1 367.6 258.5 372.7 252 377.9 245.6 383 239.3 388.1 233.1 393.2 227 398.3 220.9 403.3 215 408.3 209.2 413.3 203.4 418.3 197.8 423.3 192.2 428.2 186.7 433.1 181.4 438 176.1 442.9 170.9 447.8 165.8 452.6 160.7 457.4 155.8 462.2 150.9 467 146.2 471.7 141.5 476.5 136.9 481.2 132.4 485.9 128 490.6 123.7 495.3 119.4 499.9 115.3 504.5 111.2 509.1 107.2 513.7 103.3 518.3 99.5 522.8 95.7 527.3 92 531.8 88.5 536.3 84.9 540.8 81.5 545.3 78.2 549.7 74.9 554.1 71.7 558.5 68.6 562.9 65.6 567.2 62.6 571.6 59.7 575.9 56.9 580.2 54.2 584.5 51.6 588.7 49 593 46.5 597.2 44.1 601.4 41.7 605.6 39.4 609.8 37.2 614 35.1M376.4 273.2 371.6 272.8 366.7 272.4 362 272.1 357.2 271.8 352.4 271.5 347.7 271.3 343 271.2 338.4 271 333.7 270.9 329.1 270.9 324.5 270.9 319.9 270.9 315.4 271 310.9 271.1 306.4 271.2 301.9 271.4 297.4 271.6 293 271.9 288.6 272.2 284.2 272.5 279.8 272.8 275.5 273.2 271.2 273.7 266.9 274.1 262.6 274.6 258.3 275.2 254.1 275.7 249.9 276.3 245.7 277 241.5 277.7 237.4 278.4 233.2 279.1 229.1 279.9 225.1 280.7 221 281.5 216.9 282.4 212.9 283.3 208.9 284.2 204.9 285.2 201 286.1 197 287.2 193.1 288.2 189.2 289.3 185.3 290.4 181.4 291.6 177.6 292.7 173.8 293.9 169.9 295.2 166.2 296.4 162.4 297.7 158.6 299 154.9 300.4 151.2 301.8 147.5 303.2 143.8 304.6 140.1 306.1 136.5 307.5 132.9 309 129.3 310.6 125.7 312.2M326.1 306.5 331.4 299.3 336.7 292.2 342 285.2 347.2 278.3 352.4 271.5 357.7 264.8 362.8 258.2 368 251.7 373.1 245.3 378.3 239 383.4 232.8 388.4 226.7 393.5 220.6 398.5 214.7 403.5 208.9 408.5 203.1 413.5 197.5 418.5 191.9 423.4 186.4 428.3 181 433.2 175.7 438.1 170.5 443 165.4 447.8 160.4 452.6 155.4 457.4 150.6 462.2 145.8 466.9 141.1 471.7 136.5 476.4 132 481.1 127.6 485.8 123.3 490.4 119 495.1 114.8 499.7 110.7 504.3 106.7 508.9 102.8 513.4 99 518 95.2 522.5 91.5 527 87.9 531.5 84.4 536 81 540.4 77.6 544.9 74.4 549.3 71.2 553.7 68 558 65 562.4 62 566.7 59.1 571.1 56.3 575.4 53.6 579.7 50.9 583.9 48.3 588.2 45.8 592.4 43.4 596.6 41 600.8 38.7 605 36.5 609.1 34.4M381.6 266.5 376.8 266.1 372 265.7 367.2 265.4 362.4 265.1 357.7 264.8 352.9 264.6 348.2 264.5 343.6 264.3 338.9 264.2 334.3 264.2 329.7 264.2 325.1 264.2 320.6 264.2 316 264.3 311.5 264.5 307 264.7 302.6 264.9 298.1 265.1 293.7 265.4 289.3 265.7 285 266.1 280.6 266.5 276.3 266.9 272 267.4 267.7 267.9 263.4 268.4 259.2 269 255 269.6 250.8 270.2 246.6 270.9 242.5 271.6 238.3 272.3 234.2 273.1 230.1 273.9 226 274.7 222 275.5 218 276.4 214 277.4 210 278.3 206 279.3 202 280.3 198.1 281.4 194.2 282.5 190.3 283.6 186.4 284.7 182.6 285.9 178.7 287.1 174.9 288.3 171.1 289.6 167.4 290.8 163.6 292.2 159.9 293.5 156.1 294.9 152.4 296.3 148.7 297.7 145.1 299.1 141.4 300.6 137.8 302.1 134.2 303.7 130.6 305.2M321.4 306.3 326.7 299.1 332 292 337.3 285 342.5 278.1 347.7 271.3 352.9 264.6 358.1 258 363.3 251.5 368.4 245.1 373.5 238.8 378.6 232.6 383.7 226.4 388.7 220.4 393.8 214.5 398.8 208.6 403.8 202.9 408.8 197.2 413.7 191.6 418.6 186.1 423.6 180.7 428.5 175.4 433.3 170.2 438.2 165.1 443 160.1 447.8 155.1 452.6 150.2 457.4 145.5 462.2 140.8 466.9 136.2 471.6 131.7 476.3 127.2 481 122.9 485.6 118.6 490.3 114.4 494.9 110.3 499.5 106.3 504.1 102.4 508.7 98.5 513.2 94.8 517.7 91.1 522.2 87.5 526.7 83.9 531.2 80.5 535.6 77.1 540.1 73.8 544.5 70.6 548.9 67.5 553.2 64.4 557.6 61.5 561.9 58.6 566.3 55.7 570.6 53 574.8 50.3 579.1 47.7 583.4 45.2 587.6 42.7 591.8 40.4 596 38 600.2 35.8 604.3 33.7M386.8 259.9 382 259.5 377.2 259.1 372.4 258.8 367.6 258.5 362.8 258.2 358.1 258 353.4 257.8 348.7 257.7 344.1 257.6 339.5 257.6 334.8 257.5 330.3 257.6 325.7 257.6 321.2 257.7 316.7 257.8 312.2 258 307.7 258.2 303.3 258.5 298.8 258.8 294.5 259.1 290.1 259.4 285.7 259.8 281.4 260.2 277.1 260.7 272.8 261.2 268.5 261.7 264.3 262.3 260.1 262.9 255.9 263.5 251.7 264.2 247.5 264.9 243.4 265.6 239.3 266.3 235.2 267.1 231.1 268 227 268.8 223 269.7 219 270.6 215 271.6 211 272.6 207.1 273.6 203.1 274.6 199.2 275.7 195.3 276.8 191.4 277.9 187.6 279.1 183.7 280.3 179.9 281.5 176.1 282.8 172.3 284 168.6 285.4 164.8 286.7 161.1 288.1 157.4 289.5 153.7 290.9 150 292.3 146.3 293.8 142.7 295.3 139.1 296.8 135.5 298.4M316.8 306.1 322.1 298.9 327.3 291.8 332.6 284.8 337.8 277.9 343 271.2 348.2 264.5 353.4 257.8 358.6 251.3 363.7 244.9 368.8 238.6 373.9 232.4 379 226.2 384 220.2 389.1 214.3 394.1 208.4 399.1 202.6 404 197 409 191.4 413.9 185.9 418.8 180.5 423.7 175.2 428.6 170 433.4 164.8 438.3 159.8 443.1 154.8 447.9 150 452.6 145.2 457.4 140.5 462.1 135.9 466.8 131.3 471.5 126.9 476.2 122.5 480.9 118.3 485.5 114.1 490.1 110 494.7 105.9 499.3 102 503.9 98.1 508.4 94.4 512.9 90.7 517.4 87 521.9 83.5 526.4 80 530.9 76.7 535.3 73.4 539.7 70.1 544.1 67 548.5 63.9 552.8 60.9 557.2 58 561.5 55.2 565.8 52.4 570.1 49.7 574.3 47.1 578.6 44.6 582.8 42.1 587 39.7 591.2 37.4 595.4 35.2 599.6 33M392 253.4 387.2 253 382.3 252.6 377.5 252.3 372.7 252 368 251.7 363.3 251.5 358.6 251.3 353.9 251.2 349.2 251.1 344.6 251 340 251 335.4 251 330.8 251.1 326.3 251.2 321.8 251.3 317.3 251.5 312.8 251.7 308.4 251.9 304 252.2 299.5 252.5 295.2 252.9 290.8 253.2 286.5 253.7 282.2 254.1 277.9 254.6 273.6 255.1 269.4 255.7 265.1 256.3 260.9 256.9 256.7 257.5 252.6 258.2 248.4 259 244.3 259.7 240.2 260.5 236.1 261.3 232.1 262.2 228 263.1 224 264 220 264.9 216 265.9 212 266.9 208.1 268 204.2 269 200.3 270.1 196.4 271.3 192.5 272.4 188.7 273.6 184.9 274.8 181 276.1 177.3 277.3 173.5 278.6 169.7 280 166 281.3 162.3 282.7 158.6 284.1 154.9 285.6 151.3 287.1 147.6 288.5 144 290.1 140.4 291.6M312.1 306 317.4 298.8 322.7 291.7 327.9 284.7 333.2 277.8 338.4 271 343.6 264.3 348.7 257.7 353.9 251.2 359 244.8 364.1 238.5 369.2 232.2 374.3 226.1 379.3 220 384.4 214.1 389.4 208.2 394.3 202.5 399.3 196.8 404.3 191.2 409.2 185.7 414.1 180.3 419 175 423.9 169.7 428.7 164.6 433.5 159.6 438.3 154.6 443.1 149.7 447.9 144.9 452.7 140.2 457.4 135.6 462.1 131.1 466.8 126.6 471.5 122.2 476.1 118 480.8 113.8 485.4 109.6 490 105.6 494.6 101.6 499.1 97.8 503.7 94 508.2 90.3 512.7 86.6 517.2 83.1 521.6 79.6 526.1 76.2 530.5 72.9 534.9 69.7 539.3 66.5 543.7 63.5 548.1 60.5 552.4 57.5 556.7 54.7 561 51.9 565.3 49.2 569.6 46.6 573.8 44 578.1 41.6 582.3 39.2 586.5 36.8 590.6 34.6 594.8 32.4M397.2 247 392.3 246.6 387.5 246.2 382.7 245.9 377.9 245.6 373.1 245.3 368.4 245.1 363.7 244.9 359 244.8 354.4 244.7 349.7 244.6 345.1 244.6 340.5 244.6 335.9 244.6 331.4 244.7 326.9 244.9 322.4 245 317.9 245.2 313.5 245.5 309 245.7 304.6 246 300.2 246.4 295.9 246.8 291.5 247.2 287.2 247.6 282.9 248.1 278.7 248.6 274.4 249.2 270.2 249.8 266 250.4 261.8 251 257.6 251.7 253.4 252.4 249.3 253.2 245.2 254 241.1 254.8 237.1 255.6 233 256.5 229 257.4 225 258.4 221 259.3 217 260.3 213.1 261.4 209.1 262.4 205.2 263.5 201.4 264.7 197.5 265.8 193.6 267 189.8 268.2 186 269.4 182.2 270.7 178.4 272 174.7 273.3 170.9 274.7 167.2 276.1 163.5 277.5 159.8 278.9 156.1 280.4 152.5 281.9 148.9 283.4 145.2 284.9M307.5 305.9 312.8 298.7 318 291.6 323.3 284.6 328.5 277.7 333.7 270.9 338.9 264.2 344.1 257.6 349.2 251.1 354.4 244.7 359.5 238.3 364.5 232.1 369.6 226 374.7 219.9 379.7 214 384.7 208.1 389.7 202.3 394.6 196.6 399.6 191 404.5 185.5 409.4 180.1 414.3 174.8 419.2 169.6 424 164.4 428.8 159.4 433.6 154.4 438.4 149.5 443.2 144.7 447.9 140 452.7 135.4 457.4 130.8 462.1 126.3 466.8 122 471.4 117.7 476 113.5 480.7 109.3 485.3 105.3 489.8 101.3 494.4 97.5 498.9 93.7 503.5 89.9 508 86.3 512.4 82.7 516.9 79.3 521.4 75.9 525.8 72.5 530.2 69.3 534.6 66.1 539 63 543.3 60 547.7 57.1 552 54.2 556.3 51.4 560.6 48.7 564.8 46.1 569.1 43.5 573.3 41 577.5 38.6 581.7 36.3 585.9 34 590.1 31.8M402.3 240.8 397.4 240.3 392.6 239.9 387.8 239.6 383 239.3 378.3 239 373.5 238.8 368.8 238.6 364.1 238.5 359.5 238.3 354.8 238.3 350.2 238.2 345.6 238.3 341 238.3 336.5 238.4 332 238.5 327.5 238.7 323 238.8 318.5 239.1 314.1 239.3 309.7 239.6 305.3 240 300.9 240.4 296.6 240.8 292.3 241.2 288 241.7 283.7 242.2 279.4 242.8 275.2 243.3 271 243.9 266.8 244.6 262.6 245.3 258.4 246 254.3 246.7 250.2 247.5 246.1 248.3 242 249.2 238 250 234 250.9 229.9 251.9 226 252.8 222 253.8 218 254.9 214.1 255.9 210.2 257 206.3 258.1 202.4 259.3 198.6 260.5 194.7 261.7 190.9 262.9 187.1 264.2 183.3 265.5 179.6 266.8 175.8 268.1 172.1 269.5 168.4 270.9 164.7 272.4 161 273.8 157.4 275.3 153.7 276.8 150.1 278.4M302.9 305.9 308.2 298.7 313.4 291.6 318.7 284.6 323.9 277.7 329.1 270.9 334.3 264.2 339.5 257.6 344.6 251 349.7 244.6 354.8 238.3 359.9 232 365 225.9 370 219.8 375 213.9 380 208 385 202.2 390 196.5 394.9 190.9 399.8 185.4 404.7 180 409.6 174.7 414.5 169.4 419.3 164.3 424.1 159.2 429 154.2 433.7 149.3 438.5 144.5 443.3 139.8 448 135.2 452.7 130.6 457.4 126.1 462.1 121.7 466.7 117.4 471.3 113.2 476 109.1 480.5 105 485.1 101.1 489.7 97.2 494.2 93.4 498.7 89.6 503.2 86 507.7 82.4 512.2 78.9 516.6 75.5 521.1 72.2 525.5 68.9 529.9 65.7 534.2 62.6 538.6 59.6 542.9 56.7 547.3 53.8 551.6 51 555.8 48.3 560.1 45.6 564.4 43 568.6 40.5 572.8 38.1 577 35.7 581.2 33.5 585.3 31.3M407.4 234.6 402.6 234.1 397.7 233.7 392.9 233.4 388.1 233.1 383.4 232.8 378.6 232.6 373.9 232.4 369.2 232.2 364.5 232.1 359.9 232 355.3 232 350.7 232 346.1 232 341.6 232.1 337 232.2 332.5 232.4 328 232.6 323.6 232.8 319.1 233.1 314.7 233.4 310.3 233.7 306 234.1 301.6 234.5 297.3 234.9 293 235.4 288.7 235.9 284.4 236.4 280.2 237 276 237.6 271.8 238.2 267.6 238.9 263.4 239.6 259.3 240.4 255.2 241.1 251.1 242 247 242.8 243 243.7 238.9 244.6 234.9 245.5 230.9 246.5 226.9 247.4 223 248.5 219 249.5 215.1 250.6 211.2 251.7 207.3 252.9 203.5 254 199.6 255.2 195.8 256.5 192 257.7 188.2 259 184.4 260.3 180.7 261.7 177 263 173.2 264.4 169.6 265.9 165.9 267.3 162.2 268.8 158.6 270.3 154.9 271.8M298.3 305.9 303.6 298.7 308.9 291.6 314.1 284.6 319.3 277.7 324.5 270.9 329.7 264.2 334.8 257.5 340 251 345.1 244.6 350.2 238.2 355.3 232 360.3 225.8 365.4 219.8 370.4 213.8 375.4 207.9 380.4 202.2 385.3 196.5 390.3 190.9 395.2 185.3 400.1 179.9 405 174.6 409.8 169.3 414.7 164.2 419.5 159.1 424.3 154.1 429.1 149.2 433.8 144.4 438.6 139.6 443.3 135 448 130.4 452.7 126 457.4 121.6 462 117.2 466.7 113 471.3 108.9 475.9 104.8 480.4 100.8 485 96.9 489.5 93.1 494.1 89.4 498.6 85.7 503 82.1 507.5 78.6 511.9 75.2 516.4 71.8 520.8 68.6 525.2 65.4 529.6 62.3 533.9 59.2 538.2 56.3 542.6 53.4 546.9 50.6 551.2 47.8 555.4 45.2 559.7 42.6 563.9 40.1 568.1 37.6 572.3 35.3 576.5 33 580.6 30.7M412.5 228.5 407.6 228 402.8 227.6 398 227.3 393.2 227 388.4 226.7 383.7 226.4 379 226.2 374.3 226.1 369.6 226 365 225.9 360.3 225.8 355.7 225.8 351.2 225.9 346.6 226 342.1 226.1 337.6 226.2 333.1 226.4 328.6 226.6 324.2 226.9 319.8 227.2 315.4 227.5 311 227.8 306.6 228.2 302.3 228.7 298 229.1 293.7 229.6 289.4 230.2 285.2 230.8 281 231.4 276.8 232 272.6 232.7 268.4 233.4 264.3 234.1 260.1 234.9 256 235.7 252 236.5 247.9 237.4 243.9 238.3 239.8 239.2 235.8 240.1 231.9 241.1 227.9 242.1 223.9 243.2 220 244.3 216.1 245.4 212.2 246.5 208.4 247.7 204.5 248.9 200.7 250.1 196.9 251.4 193.1 252.6 189.3 253.9 185.6 255.3 181.8 256.7 178.1 258 174.4 259.5 170.7 260.9 167 262.4 163.4 263.9 159.8 265.4M293.8 305.9 299 298.7 304.3 291.6 309.5 284.6 314.7 277.7 319.9 270.9 325.1 264.2 330.3 257.6 335.4 251 340.5 244.6 345.6 238.3 350.7 232 355.7 225.8 360.8 219.8 365.8 213.8 370.8 207.9 375.8 202.1 380.7 196.4 385.6 190.8 390.6 185.3 395.5 179.9 400.3 174.5 405.2 169.3 410 164.1 414.8 159 419.6 154 424.4 149.1 429.2 144.3 433.9 139.5 438.7 134.9 443.4 130.3 448.1 125.8 452.7 121.4 457.4 117.1 462 112.8 466.6 108.7 471.2 104.6 475.8 100.6 480.3 96.7 484.9 92.9 489.4 89.1 493.9 85.5 498.4 81.9 502.8 78.4 507.3 74.9 511.7 71.6 516.1 68.3 520.5 65.1 524.9 62 529.2 58.9 533.6 55.9 537.9 53 542.2 50.2 546.5 47.5 550.7 44.8 555 42.2 559.2 39.7 563.4 37.2 567.6 34.8 571.8 32.5 576 30.3M417.6 222.5 412.7 222 407.9 221.6 403.1 221.3 398.3 220.9 393.5 220.6 388.7 220.4 384 220.2 379.3 220 374.7 219.9 370 219.8 365.4 219.8 360.8 219.8 356.2 219.8 351.6 219.9 347.1 220 342.6 220.1 338.1 220.3 333.6 220.5 329.2 220.8 324.8 221 320.4 221.4 316 221.7 311.6 222.1 307.3 222.5 303 223 298.7 223.5 294.4 224 290.1 224.6 285.9 225.2 281.7 225.8 277.5 226.5 273.4 227.2 269.2 227.9 265.1 228.7 261 229.5 256.9 230.3 252.8 231.2 248.8 232 244.8 233 240.7 233.9 236.8 234.9 232.8 235.9 228.8 236.9 224.9 238 221 239.1 217.1 240.3 213.2 241.4 209.4 242.6 205.6 243.8 201.7 245.1 197.9 246.3 194.2 247.6 190.4 249 186.7 250.3 182.9 251.7 179.2 253.1 175.5 254.6 171.9 256.1 168.2 257.5 164.6 259.1M289.2 306 294.5 298.8 299.8 291.7 305 284.7 310.2 277.8 315.4 271 320.6 264.2 325.7 257.6 330.8 251.1 335.9 244.6 341 238.3 346.1 232 351.2 225.9 356.2 219.8 361.2 213.8 366.2 207.9 371.2 202.1 376.1 196.4 381 190.8 386 185.3 390.9 179.8 395.7 174.5 400.6 169.2 405.4 164 410.2 159 415 153.9 419.8 149 424.6 144.2 429.3 139.4 434 134.8 438.7 130.2 443.4 125.7 448.1 121.3 452.7 117 457.4 112.7 462 108.6 466.6 104.5 471.1 100.5 475.7 96.5 480.2 92.7 484.7 88.9 489.2 85.3 493.7 81.7 498.2 78.1 502.6 74.7 507.1 71.3 511.5 68 515.9 64.8 520.2 61.7 524.6 58.6 528.9 55.6 533.2 52.7 537.5 49.9 541.8 47.1 546.1 44.4 550.3 41.8 554.6 39.3 558.8 36.8 563 34.4 567.1 32.1 571.3 29.8M422.6 216.6 417.8 216.1 412.9 215.7 408.1 215.3 403.3 215 398.5 214.7 393.8 214.5 389.1 214.3 384.4 214.1 379.7 214 375 213.9 370.4 213.8 365.8 213.8 361.2 213.8 356.6 213.9 352.1 214 347.6 214.1 343.1 214.3 338.6 214.5 334.2 214.7 329.7 215 325.3 215.3 320.9 215.7 316.6 216.1 312.2 216.5 307.9 217 303.6 217.4 299.4 218 295.1 218.5 290.9 219.1 286.7 219.7 282.5 220.4 278.3 221.1 274.1 221.8 270 222.6 265.9 223.4 261.8 224.2 257.7 225 253.7 225.9 249.7 226.8 245.6 227.8 241.6 228.7 237.7 229.8 233.7 230.8 229.8 231.9 225.9 233 222 234.1 218.1 235.2 214.2 236.4 210.4 237.6 206.6 238.9 202.8 240.1 199 241.4 195.2 242.8 191.5 244.1 187.8 245.5 184 246.9 180.4 248.3 176.7 249.8 173 251.3 169.4 252.8M284.7 306.1 290 298.9 295.3 291.8 300.5 284.8 305.7 277.9 310.9 271.1 316 264.3 321.2 257.7 326.3 251.2 331.4 244.7 336.5 238.4 341.6 232.1 346.6 226 351.6 219.9 356.6 213.9 361.6 208 366.6 202.2 371.5 196.5 376.5 190.8 381.4 185.3 386.3 179.9 391.1 174.5 396 169.2 400.8 164 405.6 158.9 410.4 153.9 415.2 149 420 144.2 424.7 139.4 429.4 134.7 434.1 130.1 438.8 125.6 443.5 121.2 448.1 116.9 452.7 112.6 457.4 108.4 461.9 104.4 466.5 100.3 471.1 96.4 475.6 92.6 480.1 88.8 484.6 85.1 489.1 81.5 493.6 77.9 498 74.5 502.4 71.1 506.8 67.8 511.2 64.6 515.6 61.4 519.9 58.4 524.3 55.4 528.6 52.4 532.9 49.6 537.2 46.8 541.4 44.1 545.7 41.5 549.9 38.9 554.1 36.5 558.3 34 562.5 31.7 566.7 29.4M427.7 210.7 422.8 210.3 417.9 209.9 413.1 209.5 408.3 209.2 403.5 208.9 398.8 208.6 394.1 208.4 389.4 208.2 384.7 208.1 380 208 375.4 207.9 370.8 207.9 366.2 207.9 361.6 208 357.1 208.1 352.6 208.2 348.1 208.4 343.6 208.6 339.1 208.8 334.7 209.1 330.3 209.4 325.9 209.8 321.5 210.1 317.2 210.5 312.9 211 308.6 211.5 304.3 212 300 212.6 295.8 213.1 291.6 213.8 287.4 214.4 283.2 215.1 279 215.8 274.9 216.6 270.8 217.3 266.7 218.2 262.6 219 258.6 219.9 254.5 220.8 250.5 221.7 246.5 222.7 242.5 223.7 238.6 224.7 234.7 225.8 230.7 226.9 226.8 228 222.9 229.1 219.1 230.3 215.2 231.5 211.4 232.7 207.6 234 203.8 235.3 200 236.6 196.3 238 192.6 239.3 188.8 240.7 185.1 242.2 181.5 243.6 177.8 245.1 174.2 246.6M280.3 306.3 285.5 299.1 290.8 292 296 285 301.2 278 306.4 271.2 311.5 264.5 316.7 257.8 321.8 251.3 326.9 244.9 332 238.5 337 232.2 342.1 226.1 347.1 220 352.1 214 357.1 208.1 362 202.3 367 196.6 371.9 190.9 376.8 185.4 381.7 179.9 386.6 174.6 391.4 169.3 396.3 164.1 401.1 159 405.9 154 410.6 149 415.4 144.2 420.1 139.4 424.8 134.7 429.5 130.1 434.2 125.6 438.9 121.2 443.5 116.8 448.2 112.6 452.8 108.4 457.3 104.3 461.9 100.3 466.5 96.3 471 92.4 475.5 88.7 480 85 484.5 81.3 488.9 77.8 493.4 74.3 497.8 70.9 502.2 67.6 506.6 64.4 511 61.2 515.3 58.1 519.7 55.1 524 52.2 528.3 49.3 532.6 46.5 536.8 43.8 541.1 41.2 545.3 38.6 549.5 36.1 553.7 33.7 557.9 31.4 562.1 29.1M432.7 205 427.8 204.6 423 204.1 418.1 203.8 413.3 203.4 408.5 203.1 403.8 202.9 399.1 202.6 394.3 202.5 389.7 202.3 385 202.2 380.4 202.2 375.8 202.1 371.2 202.1 366.6 202.2 362 202.3 357.5 202.4 353 202.6 348.5 202.8 344.1 203 339.6 203.3 335.2 203.6 330.8 203.9 326.5 204.3 322.1 204.7 317.8 205.1 313.5 205.6 309.2 206.1 304.9 206.7 300.7 207.2 296.5 207.8 292.3 208.5 288.1 209.2 283.9 209.9 279.8 210.6 275.7 211.4 271.6 212.2 267.5 213 263.4 213.9 259.4 214.8 255.4 215.7 251.4 216.7 247.4 217.7 243.4 218.7 239.5 219.8 235.6 220.9 231.7 222 227.8 223.1 223.9 224.3 220.1 225.5 216.2 226.7 212.4 228 208.6 229.3 204.8 230.6 201.1 231.9 197.4 233.3 193.6 234.7 189.9 236.1 186.2 237.5 182.6 239 178.9 240.5M275.8 306.5 281.1 299.3 286.3 292.2 291.5 285.1 296.7 278.2 301.9 271.4 307 264.7 312.2 258 317.3 251.5 322.4 245 327.5 238.7 332.5 232.4 337.6 226.2 342.6 220.1 347.6 214.1 352.6 208.2 357.5 202.4 362.5 196.7 367.4 191 372.3 185.5 377.2 180 382 174.6 386.9 169.4 391.7 164.2 396.5 159 401.3 154 406.1 149.1 410.8 144.2 415.6 139.4 420.3 134.7 425 130.1 429.7 125.6 434.3 121.2 439 116.8 443.6 112.5 448.2 108.3 452.8 104.2 457.3 100.2 461.9 96.2 466.4 92.4 470.9 88.6 475.4 84.9 479.9 81.2 484.4 77.7 488.8 74.2 493.2 70.8 497.6 67.5 502 64.2 506.4 61 510.7 57.9 515.1 54.9 519.4 52 523.7 49.1 528 46.3 532.2 43.6 536.5 40.9 540.7 38.4 544.9 35.8 549.1 33.4 553.3 31.1 557.5 28.8M437.7 199.4 432.8 198.9 427.9 198.5 423.1 198.1 418.3 197.8 413.5 197.5 408.8 197.2 404 197 399.3 196.8 394.6 196.6 390 196.5 385.3 196.5 380.7 196.4 376.1 196.4 371.5 196.5 367 196.6 362.5 196.7 358 196.8 353.5 197 349 197.2 344.6 197.5 340.2 197.8 335.8 198.1 331.4 198.5 327 198.9 322.7 199.3 318.4 199.8 314.1 200.3 309.8 200.9 305.6 201.4 301.4 202 297.2 202.7 293 203.3 288.8 204 284.7 204.8 280.5 205.5 276.4 206.3 272.4 207.2 268.3 208 264.3 208.9 260.2 209.9 256.2 210.8 252.2 211.8 248.3 212.8 244.3 213.9 240.4 214.9 236.5 216 232.6 217.2 228.7 218.3 224.9 219.5 221 220.8 217.2 222 213.4 223.3 209.6 224.6 205.9 225.9 202.1 227.3 198.4 228.7 194.7 230.1 191 231.5 187.3 233 183.7 234.5M271.4 306.7 276.6 299.5 281.9 292.4 287.1 285.4 292.3 278.4 297.4 271.6 302.6 264.9 307.7 258.2 312.8 251.7 317.9 245.2 323 238.8 328 232.6 333.1 226.4 338.1 220.3 343.1 214.3 348.1 208.4 353 202.6 358 196.8 362.9 191.2 367.8 185.6 372.7 180.2 377.5 174.8 382.4 169.5 387.2 164.3 392 159.1 396.8 154.1 401.5 149.2 406.3 144.3 411 139.5 415.7 134.8 420.4 130.2 425.1 125.7 429.8 121.2 434.4 116.8 439 112.6 443.6 108.4 448.2 104.2 452.8 100.2 457.3 96.2 461.9 92.3 466.4 88.5 470.9 84.8 475.3 81.2 479.8 77.6 484.2 74.1 488.7 70.7 493.1 67.4 497.5 64.1 501.8 60.9 506.2 57.8 510.5 54.8 514.8 51.8 519.1 48.9 523.4 46.1 527.7 43.4 531.9 40.7 536.1 38.1 540.4 35.6 544.6 33.2 548.7 30.8 552.9 28.5M442.6 193.8 437.8 193.4 432.9 192.9 428.1 192.6 423.3 192.2 418.5 191.9 413.7 191.6 409 191.4 404.3 191.2 399.6 191 394.9 190.9 390.3 190.9 385.6 190.8 381 190.8 376.5 190.8 371.9 190.9 367.4 191 362.9 191.2 358.4 191.4 353.9 191.6 349.5 191.8 345.1 192.1 340.7 192.5 336.3 192.8 331.9 193.2 327.6 193.6 323.3 194.1 319 194.6 314.7 195.1 310.5 195.7 306.2 196.3 302 196.9 297.8 197.6 293.7 198.3 289.5 199 285.4 199.8 281.3 200.6 277.2 201.4 273.1 202.3 269.1 203.1 265.1 204.1 261 205 257.1 206 253.1 207 249.1 208 245.2 209.1 241.3 210.2 237.4 211.3 233.5 212.5 229.7 213.7 225.8 214.9 222 216.1 218.2 217.4 214.4 218.7 210.6 220 206.9 221.4 203.2 222.8 199.4 224.2 195.7 225.6 192.1 227.1 188.4 228.6M267 307 272.2 299.8 277.4 292.7 282.6 285.6 287.8 278.7 293 271.9 298.1 265.1 303.3 258.5 308.4 251.9 313.5 245.5 318.5 239.1 323.6 232.8 328.6 226.6 333.6 220.5 338.6 214.5 343.6 208.6 348.5 202.8 353.5 197 358.4 191.4 363.3 185.8 368.2 180.3 373 174.9 377.9 169.6 382.7 164.4 387.5 159.3 392.3 154.2 397 149.3 401.8 144.4 406.5 139.6 411.2 134.9 415.9 130.3 420.6 125.7 425.2 121.3 429.9 116.9 434.5 112.6 439.1 108.4 443.7 104.3 448.2 100.2 452.8 96.2 457.3 92.3 461.8 88.5 466.3 84.8 470.8 81.1 475.3 77.6 479.7 74 484.1 70.6 488.5 67.3 492.9 64 497.3 60.8 501.6 57.7 506 54.6 510.3 51.7 514.6 48.8 518.8 46 523.1 43.2 527.4 40.5 531.6 37.9 535.8 35.4 540 32.9 544.2 30.5 548.3 28.2M447.6 188.4 442.7 187.9 437.8 187.5 433 187.1 428.2 186.7 423.4 186.4 418.6 186.1 413.9 185.9 409.2 185.7 404.5 185.5 399.8 185.4 395.2 185.3 390.6 185.3 386 185.3 381.4 185.3 376.8 185.4 372.3 185.5 367.8 185.6 363.3 185.8 358.8 186 354.4 186.3 350 186.5 345.5 186.9 341.2 187.2 336.8 187.6 332.5 188 328.2 188.5 323.9 189 319.6 189.5 315.3 190.1 311.1 190.6 306.9 191.3 302.7 191.9 298.5 192.6 294.4 193.3 290.2 194.1 286.1 194.9 282 195.7 278 196.5 273.9 197.4 269.9 198.3 265.9 199.3 261.9 200.3 257.9 201.3 253.9 202.3 250 203.3 246.1 204.4 242.2 205.6 238.3 206.7 234.4 207.9 230.6 209.1 226.7 210.3 222.9 211.6 219.2 212.9 215.4 214.2 211.6 215.6 207.9 216.9 204.2 218.3 200.5 219.8 196.8 221.2 193.1 222.7M262.6 307.3 267.8 300.1 273 293 278.2 285.9 283.4 279 288.6 272.2 293.7 265.4 298.8 258.8 304 252.2 309 245.7 314.1 239.3 319.1 233.1 324.2 226.9 329.2 220.8 334.2 214.7 339.1 208.8 344.1 203 349 197.2 353.9 191.6 358.8 186 363.7 180.5 368.6 175.1 373.4 169.8 378.2 164.6 383 159.5 387.8 154.4 392.6 149.4 397.3 144.6 402 139.8 406.7 135 411.4 130.4 416.1 125.9 420.7 121.4 425.4 117 430 112.7 434.6 108.5 439.2 104.3 443.7 100.3 448.3 96.3 452.8 92.4 457.3 88.5 461.8 84.8 466.3 81.1 470.7 77.5 475.2 74 479.6 70.6 484 67.2 488.4 64 492.7 60.7 497.1 57.6 501.4 54.6 505.7 51.6 510 48.7 514.3 45.8 518.6 43.1 522.8 40.4 527.1 37.8 531.3 35.2 535.5 32.7 539.6 30.3 543.8 28M452.5 183.1 447.6 182.6 442.8 182.1 437.9 181.7 433.1 181.4 428.3 181 423.6 180.7 418.8 180.5 414.1 180.3 409.4 180.1 404.7 180 400.1 179.9 395.5 179.9 390.9 179.8 386.3 179.9 381.7 179.9 377.2 180 372.7 180.2 368.2 180.3 363.7 180.5 359.2 180.8 354.8 181 350.4 181.4 346 181.7 341.7 182.1 337.3 182.5 333 183 328.7 183.4 324.4 184 320.2 184.5 315.9 185.1 311.7 185.7 307.5 186.4 303.3 187 299.2 187.8 295 188.5 290.9 189.3 286.8 190.1 282.8 190.9 278.7 191.8 274.7 192.7 270.6 193.6 266.6 194.6 262.7 195.6 258.7 196.6 254.8 197.7 250.8 198.8 246.9 199.9 243 201 239.2 202.2 235.3 203.4 231.5 204.6 227.7 205.9 223.9 207.2 220.1 208.5 216.4 209.8 212.6 211.2 208.9 212.6 205.2 214 201.5 215.4 197.8 216.9M258.2 307.6 263.5 300.4 268.7 293.3 273.9 286.3 279 279.3 284.2 272.5 289.3 265.7 294.5 259.1 299.5 252.5 304.6 246 309.7 239.6 314.7 233.4 319.8 227.2 324.8 221 329.7 215 334.7 209.1 339.6 203.3 344.6 197.5 349.5 191.8 354.4 186.3 359.2 180.8 364.1 175.4 368.9 170 373.7 164.8 378.5 159.7 383.3 154.6 388.1 149.6 392.8 144.7 397.5 139.9 402.3 135.2 406.9 130.6 411.6 126 416.3 121.5 420.9 117.1 425.5 112.8 430.1 108.6 434.7 104.4 439.2 100.4 443.8 96.4 448.3 92.4 452.8 88.6 457.3 84.9 461.8 81.2 466.2 77.6 470.7 74 475.1 70.6 479.5 67.2 483.9 63.9 488.2 60.7 492.6 57.6 496.9 54.5 501.2 51.5 505.5 48.6 509.8 45.7 514.1 43 518.3 40.3 522.5 37.6 526.7 35.1 530.9 32.6 535.1 30.2 539.3 27.8M457.4 177.8 452.5 177.3 447.7 176.8 442.8 176.4 438 176.1 433.2 175.7 428.5 175.4 423.7 175.2 419 175 414.3 174.8 409.6 174.7 405 174.6 400.3 174.5 395.7 174.5 391.1 174.5 386.6 174.6 382 174.6 377.5 174.8 373 174.9 368.6 175.1 364.1 175.4 359.7 175.6 355.3 175.9 350.9 176.3 346.5 176.7 342.2 177.1 337.8 177.5 333.5 178 329.2 178.5 325 179 320.7 179.6 316.5 180.2 312.3 180.9 308.1 181.5 304 182.2 299.8 183 295.7 183.8 291.6 184.6 287.5 185.4 283.5 186.3 279.4 187.2 275.4 188.1 271.4 189 267.4 190 263.5 191 259.5 192.1 255.6 193.2 251.7 194.3 247.8 195.4 243.9 196.6 240.1 197.8 236.2 199 232.4 200.2 228.6 201.5 224.8 202.8 221.1 204.1 217.3 205.5 213.6 206.9 209.9 208.3 206.2 209.7 202.5 211.2M253.9 308 259.1 300.8 264.3 293.7 269.5 286.6 274.7 279.7 279.8 272.8 285 266.1 290.1 259.4 295.2 252.9 300.2 246.4 305.3 240 310.3 233.7 315.4 227.5 320.4 221.4 325.3 215.3 330.3 209.4 335.2 203.6 340.2 197.8 345.1 192.1 350 186.5 354.8 181 359.7 175.6 364.5 170.3 369.3 165.1 374.1 159.9 378.9 154.8 383.6 149.9 388.4 145 393.1 140.1 397.8 135.4 402.5 130.8 407.1 126.2 411.8 121.7 416.4 117.3 421 113 425.6 108.7 430.2 104.6 434.8 100.5 439.3 96.5 443.8 92.6 448.3 88.7 452.8 84.9 457.3 81.2 461.7 77.6 466.2 74.1 470.6 70.6 475 67.3 479.4 64 483.7 60.7 488.1 57.6 492.4 54.5 496.7 51.5 501 48.5 505.3 45.7 509.6 42.9 513.8 40.2 518 37.5 522.3 35 526.4 32.5 530.6 30 534.8 27.7M462.3 172.6 457.4 172.1 452.6 171.7 447.7 171.2 442.9 170.9 438.1 170.5 433.3 170.2 428.6 170 423.9 169.7 419.2 169.6 414.5 169.4 409.8 169.3 405.2 169.3 400.6 169.2 396 169.2 391.4 169.3 386.9 169.4 382.4 169.5 377.9 169.6 373.4 169.8 368.9 170 364.5 170.3 360.1 170.6 355.7 170.9 351.3 171.3 347 171.7 342.6 172.1 338.3 172.6 334.1 173.1 329.8 173.6 325.5 174.2 321.3 174.8 317.1 175.5 312.9 176.1 308.8 176.8 304.6 177.6 300.5 178.3 296.4 179.1 292.3 179.9 288.2 180.8 284.2 181.7 280.2 182.6 276.2 183.5 272.2 184.5 268.2 185.5 264.3 186.6 260.3 187.6 256.4 188.7 252.5 189.9 248.6 191 244.8 192.2 240.9 193.4 237.1 194.7 233.3 195.9 229.5 197.2 225.8 198.6 222 199.9 218.3 201.3 214.6 202.7 210.9 204.1 207.2 205.6M249.6 308.4 254.8 301.2 260 294.1 265.2 287 270.3 280.1 275.5 273.2 280.6 266.5 285.7 259.8 290.8 253.2 295.9 246.8 300.9 240.4 306 234.1 311 227.8 316 221.7 320.9 215.7 325.9 209.8 330.8 203.9 335.8 198.1 340.7 192.5 345.5 186.9 350.4 181.4 355.3 175.9 360.1 170.6 364.9 165.4 369.7 160.2 374.5 155.1 379.2 150.1 383.9 145.2 388.7 140.4 393.4 135.6 398 131 402.7 126.4 407.4 121.9 412 117.5 416.6 113.2 421.2 108.9 425.8 104.7 430.3 100.6 434.9 96.6 439.4 92.7 443.9 88.8 448.4 85.1 452.8 81.4 457.3 77.7 461.7 74.2 466.1 70.7 470.5 67.3 474.9 64 479.3 60.8 483.6 57.6 488 54.5 492.3 51.5 496.6 48.5 500.8 45.7 505.1 42.9 509.3 40.1 513.6 37.5 517.8 34.9 522 32.4 526.1 29.9 530.3 27.6M467.2 167.5 462.3 167 457.4 166.6 452.6 166.1 447.8 165.8 443 165.4 438.2 165.1 433.4 164.8 428.7 164.6 424 164.4 419.3 164.3 414.7 164.2 410 164.1 405.4 164 400.8 164 396.3 164.1 391.7 164.2 387.2 164.3 382.7 164.4 378.2 164.6 373.7 164.8 369.3 165.1 364.9 165.4 360.5 165.7 356.1 166 351.8 166.4 347.4 166.9 343.1 167.3 338.8 167.8 334.6 168.3 330.3 168.9 326.1 169.5 321.9 170.1 317.7 170.8 313.5 171.5 309.4 172.2 305.3 173 301.2 173.7 297.1 174.6 293 175.4 288.9 176.3 284.9 177.2 280.9 178.1 276.9 179.1 272.9 180.1 269 181.2 265 182.2 261.1 183.3 257.2 184.4 253.3 185.6 249.5 186.7 245.6 187.9 241.8 189.2 238 190.4 234.2 191.7 230.4 193.1 226.7 194.4 222.9 195.8 219.2 197.2 215.5 198.6 211.8 200M245.3 308.9 250.5 301.6 255.7 294.5 260.9 287.5 266 280.5 271.2 273.7 276.3 266.9 281.4 260.2 286.5 253.7 291.5 247.2 296.6 240.8 301.6 234.5 306.6 228.2 311.6 222.1 316.6 216.1 321.5 210.1 326.5 204.3 331.4 198.5 336.3 192.8 341.2 187.2 346 181.7 350.9 176.3 355.7 170.9 360.5 165.7 365.3 160.5 370.1 155.4 374.8 150.4 379.5 145.5 384.3 140.7 389 135.9 393.6 131.3 398.3 126.7 402.9 122.2 407.6 117.7 412.2 113.4 416.8 109.1 421.3 104.9 425.9 100.8 430.4 96.8 434.9 92.9 439.4 89 443.9 85.2 448.4 81.5 452.8 77.9 457.3 74.3 461.7 70.8 466.1 67.4 470.5 64.1 474.8 60.8 479.2 57.7 483.5 54.5 487.8 51.5 492.1 48.6 496.4 45.7 500.6 42.9 504.9 40.1 509.1 37.5 513.3 34.9 517.5 32.3 521.7 29.9 525.9 27.5M472 162.5 467.1 162 462.3 161.6 457.4 161.1 452.6 160.7 447.8 160.4 443 160.1 438.3 159.8 433.5 159.6 428.8 159.4 424.1 159.2 419.5 159.1 414.8 159 410.2 159 405.6 158.9 401.1 159 396.5 159 392 159.1 387.5 159.3 383 159.5 378.5 159.7 374.1 159.9 369.7 160.2 365.3 160.5 360.9 160.9 356.6 161.2 352.2 161.7 347.9 162.1 343.6 162.6 339.3 163.1 335.1 163.7 330.9 164.3 326.6 164.9 322.5 165.5 318.3 166.2 314.1 166.9 310 167.7 305.9 168.5 301.8 169.3 297.7 170.1 293.7 171 289.6 171.9 285.6 172.8 281.6 173.8 277.6 174.8 273.7 175.8 269.7 176.9 265.8 177.9 261.9 179 258 180.2 254.2 181.4 250.3 182.6 246.5 183.8 242.7 185 238.9 186.3 235.1 187.6 231.3 189 227.6 190.3 223.9 191.7 220.2 193.1 216.5 194.6M241 309.4 246.2 302.1 251.4 295 256.6 287.9 261.7 281 266.9 274.1 272 267.4 277.1 260.7 282.2 254.1 287.2 247.6 292.3 241.2 297.3 234.9 302.3 228.7 307.3 222.5 312.2 216.5 317.2 210.5 322.1 204.7 327 198.9 331.9 193.2 336.8 187.6 341.7 182.1 346.5 176.7 351.3 171.3 356.1 166 360.9 160.9 365.7 155.8 370.4 150.8 375.2 145.8 379.9 141 384.6 136.2 389.2 131.6 393.9 127 398.5 122.4 403.2 118 407.8 113.7 412.4 109.4 416.9 105.2 421.5 101.1 426 97 430.5 93.1 435 89.2 439.5 85.4 444 81.7 448.4 78 452.8 74.5 457.3 71 461.7 67.6 466 64.2 470.4 60.9 474.7 57.8 479.1 54.6 483.4 51.6 487.7 48.6 491.9 45.7 496.2 42.9 500.4 40.1 504.7 37.5 508.9 34.9 513.1 32.3 517.3 29.9 521.4 27.5M476.9 157.6 472 157.1 467.1 156.6 462.2 156.2 457.4 155.8 452.6 155.4 447.8 155.1 443.1 154.8 438.3 154.6 433.6 154.4 429 154.2 424.3 154.1 419.6 154 415 153.9 410.4 153.9 405.9 154 401.3 154 396.8 154.1 392.3 154.2 387.8 154.4 383.3 154.6 378.9 154.8 374.5 155.1 370.1 155.4 365.7 155.8 361.3 156.1 357 156.6 352.7 157 348.4 157.5 344.1 158 339.8 158.5 335.6 159.1 331.4 159.7 327.2 160.4 323 161 318.9 161.8 314.7 162.5 310.6 163.3 306.5 164.1 302.4 164.9 298.4 165.8 294.3 166.7 290.3 167.6 286.3 168.5 282.3 169.5 278.4 170.5 274.4 171.6 270.5 172.7 266.6 173.8 262.7 174.9 258.8 176.1 255 177.2 251.1 178.5 247.3 179.7 243.5 181 239.7 182.3 236 183.6 232.2 185 228.5 186.3 224.8 187.7 221.1 189.2M236.7 309.9 242 302.6 247.1 295.5 252.3 288.5 257.5 281.5 262.6 274.6 267.7 267.9 272.8 261.2 277.9 254.6 282.9 248.1 288 241.7 293 235.4 298 229.1 303 223 307.9 217 312.9 211 317.8 205.1 322.7 199.3 327.6 193.6 332.5 188 337.3 182.5 342.2 177.1 347 171.7 351.8 166.4 356.6 161.2 361.3 156.1 366.1 151.1 370.8 146.2 375.5 141.3 380.2 136.6 384.9 131.9 389.5 127.3 394.2 122.8 398.8 118.3 403.4 113.9 408 109.7 412.5 105.5 417.1 101.3 421.6 97.3 426.1 93.3 430.6 89.4 435.1 85.6 439.6 81.9 444 78.2 448.4 74.7 452.9 71.1 457.3 67.7 461.6 64.4 466 61.1 470.3 57.9 474.7 54.8 479 51.7 483.3 48.7 487.5 45.8 491.8 43 496 40.2 500.3 37.5 504.5 34.9 508.7 32.3 512.8 29.9 517 27.4M481.7 152.8 476.8 152.3 471.9 151.8 467 151.4 462.2 150.9 457.4 150.6 452.6 150.2 447.9 150 443.1 149.7 438.4 149.5 433.7 149.3 429.1 149.2 424.4 149.1 419.8 149 415.2 149 410.6 149 406.1 149.1 401.5 149.2 397 149.3 392.6 149.4 388.1 149.6 383.6 149.9 379.2 150.1 374.8 150.4 370.4 150.8 366.1 151.1 361.7 151.5 357.4 152 353.1 152.4 348.8 152.9 344.6 153.5 340.3 154 336.1 154.7 331.9 155.3 327.7 156 323.6 156.7 319.4 157.4 315.3 158.1 311.2 158.9 307.1 159.8 303.1 160.6 299 161.5 295 162.4 291 163.4 287 164.3 283 165.4 279.1 166.4 275.2 167.5 271.3 168.5 267.4 169.7 263.5 170.8 259.6 172 255.8 173.2 252 174.4 248.2 175.7 244.4 177 240.6 178.3 236.9 179.7 233.1 181 229.4 182.4 225.7 183.9M232.5 310.4 237.7 303.2 242.9 296 248.1 289 253.2 282 258.3 275.2 263.4 268.4 268.5 261.7 273.6 255.1 278.7 248.6 283.7 242.2 288.7 235.9 293.7 229.6 298.7 223.5 303.6 217.4 308.6 211.5 313.5 205.6 318.4 199.8 323.3 194.1 328.2 188.5 333 183 337.8 177.5 342.6 172.1 347.4 166.9 352.2 161.7 357 156.6 361.7 151.5 366.4 146.6 371.2 141.7 375.8 136.9 380.5 132.3 385.2 127.6 389.8 123.1 394.4 118.7 399 114.3 403.6 110 408.2 105.8 412.7 101.6 417.2 97.6 421.8 93.6 426.3 89.7 430.7 85.9 435.2 82.1 439.6 78.5 444.1 74.9 448.5 71.4 452.9 67.9 457.2 64.6 461.6 61.3 465.9 58 470.3 54.9 474.6 51.8 478.9 48.8 483.1 45.9 487.4 43.1 491.6 40.3 495.9 37.6 500.1 35 504.3 32.4 508.4 29.9 512.6 27.5M486.4 148.1 481.5 147.6 476.7 147.1 471.8 146.6 467 146.2 462.2 145.8 457.4 145.5 452.6 145.2 447.9 144.9 443.2 144.7 438.5 144.5 433.8 144.4 429.2 144.3 424.6 144.2 420 144.2 415.4 144.2 410.8 144.2 406.3 144.3 401.8 144.4 397.3 144.6 392.8 144.7 388.4 145 383.9 145.2 379.5 145.5 375.2 145.8 370.8 146.2 366.4 146.6 362.1 147 357.8 147.5 353.5 148 349.3 148.5 345 149.1 340.8 149.7 336.6 150.3 332.4 150.9 328.3 151.6 324.1 152.4 320 153.1 315.9 153.9 311.8 154.7 307.7 155.6 303.7 156.4 299.7 157.3 295.7 158.3 291.7 159.2 287.7 160.2 283.8 161.3 279.8 162.3 275.9 163.4 272 164.5 268.1 165.7 264.3 166.8 260.4 168 256.6 169.3 252.8 170.5 249 171.8 245.2 173.1 241.5 174.5 237.7 175.8 234 177.2 230.3 178.6M228.3 311 233.5 303.8 238.7 296.6 243.8 289.6 249 282.6 254.1 275.7 259.2 269 264.3 262.3 269.4 255.7 274.4 249.2 279.4 242.8 284.4 236.4 289.4 230.2 294.4 224 299.4 218 304.3 212 309.2 206.1 314.1 200.3 319 194.6 323.9 189 328.7 183.4 333.5 178 338.3 172.6 343.1 167.3 347.9 162.1 352.7 157 357.4 152 362.1 147 366.8 142.1 371.5 137.4 376.2 132.7 380.8 128 385.5 123.5 390.1 119 394.7 114.6 399.3 110.3 403.8 106.1 408.4 102 412.9 97.9 417.4 93.9 421.9 90 426.4 86.2 430.8 82.4 435.3 78.7 439.7 75.1 444.1 71.6 448.5 68.2 452.9 64.8 457.2 61.5 461.6 58.2 465.9 55.1 470.2 52 474.5 49 478.8 46.1 483 43.2 487.3 40.4 491.5 37.7 495.7 35.1 499.9 32.5 504.1 30 508.2 27.5M491.2 143.5 486.3 142.9 481.4 142.4 476.6 141.9 471.7 141.5 466.9 141.1 462.2 140.8 457.4 140.5 452.7 140.2 447.9 140 443.3 139.8 438.6 139.6 433.9 139.5 429.3 139.4 424.7 139.4 420.1 139.4 415.6 139.4 411 139.5 406.5 139.6 402 139.8 397.5 139.9 393.1 140.1 388.7 140.4 384.3 140.7 379.9 141 375.5 141.3 371.2 141.7 366.8 142.1 362.5 142.6 358.2 143.1 354 143.6 349.7 144.2 345.5 144.7 341.3 145.4 337.1 146 332.9 146.7 328.8 147.4 324.7 148.2 320.6 148.9 316.5 149.7 312.4 150.6 308.4 151.4 304.3 152.3 300.3 153.3 296.3 154.2 292.3 155.2 288.4 156.2 284.5 157.3 280.5 158.4 276.6 159.5 272.7 160.6 268.9 161.8 265 163 261.2 164.2 257.4 165.4 253.6 166.7 249.8 168 246.1 169.3 242.3 170.7 238.6 172.1 234.9 173.5M224.1 311.6 229.3 304.4 234.5 297.2 239.6 290.2 244.8 283.2 249.9 276.3 255 269.6 260.1 262.9 265.1 256.3 270.2 249.8 275.2 243.3 280.2 237 285.2 230.8 290.1 224.6 295.1 218.5 300 212.6 304.9 206.7 309.8 200.9 314.7 195.1 319.6 189.5 324.4 184 329.2 178.5 334.1 173.1 338.8 167.8 343.6 162.6 348.4 157.5 353.1 152.4 357.8 147.5 362.5 142.6 367.2 137.8 371.9 133.1 376.5 128.5 381.1 123.9 385.8 119.4 390.4 115 394.9 110.7 399.5 106.5 404 102.3 408.6 98.3 413.1 94.3 417.6 90.3 422 86.5 426.5 82.7 430.9 79 435.4 75.4 439.8 71.9 444.2 68.4 448.5 65 452.9 61.7 457.2 58.5 461.5 55.3 465.8 52.2 470.1 49.2 474.4 46.3 478.7 43.4 482.9 40.6 487.1 37.8 491.3 35.2 495.5 32.6 499.7 30.1 503.8 27.6M496 138.9 491.1 138.3 486.2 137.8 481.3 137.4 476.5 136.9 471.7 136.5 466.9 136.2 462.1 135.9 457.4 135.6 452.7 135.4 448 135.2 443.3 135 438.7 134.9 434 134.8 429.4 134.7 424.8 134.7 420.3 134.7 415.7 134.8 411.2 134.9 406.7 135 402.3 135.2 397.8 135.4 393.4 135.6 389 135.9 384.6 136.2 380.2 136.6 375.8 136.9 371.5 137.4 367.2 137.8 362.9 138.3 358.6 138.8 354.4 139.3 350.2 139.9 346 140.5 341.8 141.2 337.6 141.8 333.5 142.5 329.3 143.3 325.2 144 321.1 144.8 317.1 145.7 313 146.5 309 147.4 304.9 148.3 301 149.3 297 150.3 293 151.3 289.1 152.3 285.1 153.4 281.2 154.5 277.4 155.6 273.5 156.8 269.6 157.9 265.8 159.2 262 160.4 258.2 161.7 254.4 163 250.6 164.3 246.9 165.6 243.2 167 239.5 168.4M220 312.3 225.1 305 230.3 297.9 235.5 290.8 240.6 283.9 245.7 277 250.8 270.2 255.9 263.5 260.9 256.9 266 250.4 271 243.9 276 237.6 281 231.4 285.9 225.2 290.9 219.1 295.8 213.1 300.7 207.2 305.6 201.4 310.5 195.7 315.3 190.1 320.2 184.5 325 179 329.8 173.6 334.6 168.3 339.3 163.1 344.1 158 348.8 152.9 353.5 148 358.2 143.1 362.9 138.3 367.6 133.6 372.2 128.9 376.9 124.4 381.5 119.9 386.1 115.5 390.6 111.1 395.2 106.9 399.7 102.7 404.2 98.7 408.8 94.6 413.2 90.7 417.7 86.9 422.2 83.1 426.6 79.4 431 75.8 435.4 72.2 439.8 68.7 444.2 65.3 448.5 62 452.9 58.7 457.2 55.6 461.5 52.5 465.8 49.4 470.1 46.5 474.3 43.6 478.6 40.8 482.8 38 487 35.4 491.2 32.8 495.3 30.2 499.5 27.8M500.7 134.4 495.8 133.9 490.9 133.3 486 132.9 481.2 132.4 476.4 132 471.6 131.7 466.8 131.3 462.1 131.1 457.4 130.8 452.7 130.6 448 130.4 443.4 130.3 438.7 130.2 434.1 130.1 429.5 130.1 425 130.1 420.4 130.2 415.9 130.3 411.4 130.4 406.9 130.6 402.5 130.8 398 131 393.6 131.3 389.2 131.6 384.9 131.9 380.5 132.3 376.2 132.7 371.9 133.1 367.6 133.6 363.3 134.1 359.1 134.6 354.8 135.2 350.6 135.8 346.4 136.4 342.2 137.1 338.1 137.8 334 138.5 329.8 139.2 325.8 140 321.7 140.8 317.6 141.7 313.6 142.6 309.6 143.5 305.6 144.4 301.6 145.4 297.6 146.4 293.7 147.4 289.7 148.5 285.8 149.6 281.9 150.7 278.1 151.8 274.2 153 270.4 154.2 266.6 155.4 262.8 156.7 259 158 255.2 159.3 251.5 160.6 247.7 162 244 163.4M215.8 313 221 305.7 226.2 298.6 231.3 291.5 236.4 284.5 241.5 277.7 246.6 270.9 251.7 264.2 256.7 257.5 261.8 251 266.8 244.6 271.8 238.2 276.8 232 281.7 225.8 286.7 219.7 291.6 213.8 296.5 207.8 301.4 202 306.2 196.3 311.1 190.6 315.9 185.1 320.7 179.6 325.5 174.2 330.3 168.9 335.1 163.7 339.8 158.5 344.6 153.5 349.3 148.5 354 143.6 358.6 138.8 363.3 134.1 367.9 129.4 372.6 124.8 377.2 120.3 381.8 115.9 386.3 111.6 390.9 107.3 395.4 103.2 400 99.1 404.5 95.1 408.9 91.1 413.4 87.2 417.9 83.5 422.3 79.7 426.7 76.1 431.1 72.5 435.5 69.1 439.9 65.6 444.2 62.3 448.6 59 452.9 55.9 457.2 52.7 461.5 49.7 465.7 46.7 470 43.8 474.2 41 478.5 38.2 482.7 35.6 486.9 32.9 491 30.4 495.2 27.9M505.4 130.1 500.5 129.5 495.6 129 490.7 128.5 485.9 128 481.1 127.6 476.3 127.2 471.5 126.9 466.8 126.6 462.1 126.3 457.4 126.1 452.7 126 448.1 125.8 443.4 125.7 438.8 125.6 434.2 125.6 429.7 125.6 425.1 125.7 420.6 125.7 416.1 125.9 411.6 126 407.1 126.2 402.7 126.4 398.3 126.7 393.9 127 389.5 127.3 385.2 127.6 380.8 128 376.5 128.5 372.2 128.9 367.9 129.4 363.7 129.9 359.5 130.5 355.2 131.1 351.1 131.7 346.9 132.4 342.7 133 338.6 133.8 334.5 134.5 330.4 135.3 326.3 136.1 322.2 136.9 318.2 137.8 314.2 138.7 310.2 139.6 306.2 140.6 302.2 141.6 298.3 142.6 294.3 143.7 290.4 144.8 286.5 145.9 282.6 147 278.8 148.2 274.9 149.4 271.1 150.6 267.3 151.8 263.5 153.1 259.8 154.4 256 155.7 252.3 157.1 248.5 158.5M211.7 313.7 216.9 306.5 222 299.3 227.2 292.2 232.3 285.2 237.4 278.4 242.5 271.6 247.5 264.9 252.6 258.2 257.6 251.7 262.6 245.3 267.6 238.9 272.6 232.7 277.5 226.5 282.5 220.4 287.4 214.4 292.3 208.5 297.2 202.7 302 196.9 306.9 191.3 311.7 185.7 316.5 180.2 321.3 174.8 326.1 169.5 330.9 164.3 335.6 159.1 340.3 154 345 149.1 349.7 144.2 354.4 139.3 359.1 134.6 363.7 129.9 368.3 125.4 372.9 120.9 377.5 116.4 382.1 112.1 386.6 107.8 391.2 103.6 395.7 99.5 400.2 95.5 404.7 91.5 409.1 87.7 413.6 83.9 418 80.1 422.4 76.5 426.8 72.9 431.2 69.4 435.6 66 439.9 62.7 444.3 59.4 448.6 56.2 452.9 53 457.2 50 461.5 47 465.7 44.1 469.9 41.3 474.2 38.5 478.4 35.8 482.5 33.2 486.7 30.6 490.9 28.1M510.1 125.8 505.2 125.2 500.3 124.6 495.4 124.1 490.6 123.7 485.8 123.3 481 122.9 476.2 122.5 471.5 122.2 466.8 122 462.1 121.7 457.4 121.6 452.7 121.4 448.1 121.3 443.5 121.2 438.9 121.2 434.3 121.2 429.8 121.2 425.2 121.3 420.7 121.4 416.3 121.5 411.8 121.7 407.4 121.9 402.9 122.2 398.5 122.4 394.2 122.8 389.8 123.1 385.5 123.5 381.1 123.9 376.9 124.4 372.6 124.8 368.3 125.4 364.1 125.9 359.9 126.5 355.7 127.1 351.5 127.7 347.3 128.4 343.2 129.1 339.1 129.9 335 130.6 330.9 131.4 326.8 132.3 322.8 133.1 318.7 134 314.7 134.9 310.8 135.9 306.8 136.9 302.8 137.9 298.9 138.9 295 140 291.1 141.1 287.2 142.2 283.3 143.4 279.5 144.6 275.7 145.8 271.9 147 268.1 148.3 264.3 149.6 260.5 150.9 256.8 152.2 253.1 153.6M207.6 314.5 212.8 307.2 217.9 300 223 293 228.2 286 233.2 279.1 238.3 272.3 243.4 265.6 248.4 259 253.4 252.4 258.4 246 263.4 239.6 268.4 233.4 273.4 227.2 278.3 221.1 283.2 215.1 288.1 209.2 293 203.3 297.8 197.6 302.7 191.9 307.5 186.4 312.3 180.9 317.1 175.5 321.9 170.1 326.6 164.9 331.4 159.7 336.1 154.7 340.8 149.7 345.5 144.7 350.2 139.9 354.8 135.2 359.5 130.5 364.1 125.9 368.7 121.4 373.3 117 377.8 112.6 382.4 108.3 386.9 104.1 391.4 100 395.9 96 400.4 92 404.9 88.1 409.3 84.3 413.8 80.6 418.2 76.9 422.6 73.3 427 69.8 431.3 66.4 435.7 63 440 59.7 444.3 56.5 448.6 53.4 452.9 50.3 457.2 47.3 461.4 44.4 465.7 41.5 469.9 38.8 474.1 36.1 478.3 33.4 482.4 30.8 486.6 28.3M514.7 121.5 509.8 121 505 120.4 500.1 119.9 495.3 119.4 490.4 119 485.6 118.6 480.9 118.3 476.1 118 471.4 117.7 466.7 117.4 462 117.2 457.4 117.1 452.7 117 448.1 116.9 443.5 116.8 439 116.8 434.4 116.8 429.9 116.9 425.4 117 420.9 117.1 416.4 117.3 412 117.5 407.6 117.7 403.2 118 398.8 118.3 394.4 118.7 390.1 119 385.8 119.4 381.5 119.9 377.2 120.3 372.9 120.9 368.7 121.4 364.5 122 360.3 122.6 356.1 123.2 351.9 123.9 347.8 124.6 343.6 125.3 339.5 126.1 335.5 126.8 331.4 127.7 327.3 128.5 323.3 129.4 319.3 130.3 315.3 131.3 311.3 132.2 307.4 133.2 303.4 134.3 299.5 135.3 295.6 136.4 291.7 137.5 287.9 138.7 284 139.9 280.2 141.1 276.4 142.3 272.6 143.5 268.8 144.8 265 146.1 261.3 147.5 257.6 148.8M203.5 315.2 208.7 308 213.8 300.8 218.9 293.7 224.1 286.8 229.1 279.9 234.2 273.1 239.3 266.3 244.3 259.7 249.3 253.2 254.3 246.7 259.3 240.4 264.3 234.1 269.2 227.9 274.1 221.8 279 215.8 283.9 209.9 288.8 204 293.7 198.3 298.5 192.6 303.3 187 308.1 181.5 312.9 176.1 317.7 170.8 322.5 165.5 327.2 160.4 331.9 155.3 336.6 150.3 341.3 145.4 346 140.5 350.6 135.8 355.2 131.1 359.9 126.5 364.5 122 369 117.5 373.6 113.2 378.2 108.9 382.7 104.7 387.2 100.5 391.7 96.5 396.2 92.5 400.6 88.6 405.1 84.8 409.5 81 413.9 77.4 418.3 73.8 422.7 70.3 427.1 66.8 431.4 63.4 435.7 60.1 440.1 56.9 444.4 53.8 448.6 50.7 452.9 47.7 457.2 44.7 461.4 41.9 465.6 39.1 469.8 36.3 474 33.7 478.2 31.1 482.3 28.6M519.4 117.4 514.5 116.8 509.6 116.3 504.7 115.7 499.9 115.3 495.1 114.8 490.3 114.4 485.5 114.1 480.8 113.8 476 113.5 471.3 113.2 466.7 113 462 112.8 457.4 112.7 452.7 112.6 448.2 112.6 443.6 112.5 439 112.6 434.5 112.6 430 112.7 425.5 112.8 421 113 416.6 113.2 412.2 113.4 407.8 113.7 403.4 113.9 399 114.3 394.7 114.6 390.4 115 386.1 115.5 381.8 115.9 377.5 116.4 373.3 117 369 117.5 364.8 118.1 360.7 118.7 356.5 119.4 352.3 120.1 348.2 120.8 344.1 121.6 340 122.3 336 123.2 331.9 124 327.9 124.9 323.9 125.8 319.9 126.7 315.9 127.7 311.9 128.7 308 129.7 304.1 130.7 300.2 131.8 296.3 132.9 292.4 134.1 288.5 135.2 284.7 136.4 280.9 137.6 277.1 138.9 273.3 140.1 269.5 141.4 265.8 142.8 262.1 144.1M199.5 316.1 204.6 308.8 209.7 301.6 214.9 294.6 220 287.6 225.1 280.7 230.1 273.9 235.2 267.1 240.2 260.5 245.2 254 250.2 247.5 255.2 241.1 260.1 234.9 265.1 228.7 270 222.6 274.9 216.6 279.8 210.6 284.7 204.8 289.5 199 294.4 193.3 299.2 187.8 304 182.2 308.8 176.8 313.5 171.5 318.3 166.2 323 161 327.7 156 332.4 150.9 337.1 146 341.8 141.2 346.4 136.4 351.1 131.7 355.7 127.1 360.3 122.6 364.8 118.1 369.4 113.7 373.9 109.4 378.5 105.2 383 101.1 387.5 97 392 93 396.4 89.1 400.9 85.3 405.3 81.5 409.7 77.9 414.1 74.3 418.5 70.7 422.8 67.3 427.2 63.9 431.5 60.6 435.8 57.3 440.1 54.2 444.4 51.1 448.7 48.1 452.9 45.1 457.1 42.2 461.4 39.4 465.6 36.7 469.7 34 473.9 31.4 478.1 28.9M524 113.4 519.1 112.8 514.2 112.2 509.4 111.7 504.5 111.2 499.7 110.7 494.9 110.3 490.1 110 485.4 109.6 480.7 109.3 476 109.1 471.3 108.9 466.6 108.7 462 108.6 457.4 108.4 452.8 108.4 448.2 108.3 443.6 108.4 439.1 108.4 434.6 108.5 430.1 108.6 425.6 108.7 421.2 108.9 416.8 109.1 412.4 109.4 408 109.7 403.6 110 399.3 110.3 394.9 110.7 390.6 111.1 386.3 111.6 382.1 112.1 377.8 112.6 373.6 113.2 369.4 113.7 365.2 114.4 361 115 356.9 115.7 352.8 116.4 348.7 117.1 344.6 117.9 340.5 118.7 336.4 119.5 332.4 120.4 328.4 121.3 324.4 122.2 320.4 123.2 316.4 124.2 312.5 125.2 308.6 126.2 304.7 127.3 300.8 128.4 296.9 129.5 293 130.7 289.2 131.8 285.4 133 281.6 134.3 277.8 135.5 274 136.8 270.3 138.2 266.5 139.5M195.4 316.9 200.6 309.7 205.7 302.5 210.8 295.4 215.9 288.4 221 281.5 226 274.7 231.1 268 236.1 261.3 241.1 254.8 246.1 248.3 251.1 242 256 235.7 261 229.5 265.9 223.4 270.8 217.3 275.7 211.4 280.5 205.5 285.4 199.8 290.2 194.1 295 188.5 299.8 183 304.6 177.6 309.4 172.2 314.1 166.9 318.9 161.8 323.6 156.7 328.3 151.6 332.9 146.7 337.6 141.8 342.2 137.1 346.9 132.4 351.5 127.7 356.1 123.2 360.7 118.7 365.2 114.4 369.8 110.1 374.3 105.8 378.8 101.7 383.3 97.6 387.8 93.6 392.2 89.7 396.7 85.8 401.1 82.1 405.5 78.4 409.9 74.8 414.3 71.2 418.6 67.8 423 64.4 427.3 61 431.6 57.8 435.9 54.6 440.2 51.5 444.4 48.5 448.7 45.5 452.9 42.6 457.1 39.8 461.3 37 465.5 34.4 469.7 31.7 473.8 29.2M528.6 109.4 523.7 108.8 518.8 108.2 514 107.7 509.1 107.2 504.3 106.7 499.5 106.3 494.7 105.9 490 105.6 485.3 105.3 480.5 105 475.9 104.8 471.2 104.6 466.6 104.5 461.9 104.4 457.3 104.3 452.8 104.2 448.2 104.2 443.7 104.3 439.2 104.3 434.7 104.4 430.2 104.6 425.8 104.7 421.3 104.9 416.9 105.2 412.5 105.5 408.2 105.8 403.8 106.1 399.5 106.5 395.2 106.9 390.9 107.3 386.6 107.8 382.4 108.3 378.2 108.9 373.9 109.4 369.8 110.1 365.6 110.7 361.4 111.4 357.3 112.1 353.2 112.8 349.1 113.6 345 114.3 341 115.2 336.9 116 332.9 116.9 328.9 117.8 324.9 118.8 320.9 119.7 317 120.7 313.1 121.8 309.2 122.8 305.3 123.9 301.4 125 297.5 126.2 293.7 127.3 289.9 128.5 286.1 129.8 282.3 131 278.5 132.3 274.7 133.6 271 134.9M191.4 317.8 196.5 310.5 201.7 303.4 206.8 296.3 211.9 289.3 216.9 282.4 222 275.5 227 268.8 232.1 262.2 237.1 255.6 242 249.2 247 242.8 252 236.5 256.9 230.3 261.8 224.2 266.7 218.2 271.6 212.2 276.4 206.3 281.3 200.6 286.1 194.9 290.9 189.3 295.7 183.8 300.5 178.3 305.3 173 310 167.7 314.7 162.5 319.4 157.4 324.1 152.4 328.8 147.4 333.5 142.5 338.1 137.8 342.7 133 347.3 128.4 351.9 123.9 356.5 119.4 361 115 365.6 110.7 370.1 106.5 374.6 102.3 379.1 98.2 383.6 94.2 388 90.3 392.5 86.4 396.9 82.6 401.3 78.9 405.7 75.3 410.1 71.8 414.4 68.3 418.8 64.9 423.1 61.5 427.4 58.3 431.7 55.1 436 52 440.2 48.9 444.5 45.9 448.7 43 452.9 40.2 457.1 37.4 461.3 34.7 465.5 32.1 469.6 29.6M533.2 105.6 528.3 104.9 523.4 104.3 518.5 103.8 513.7 103.3 508.9 102.8 504.1 102.4 499.3 102 494.6 101.6 489.8 101.3 485.1 101.1 480.4 100.8 475.8 100.6 471.1 100.5 466.5 100.3 461.9 100.3 457.3 100.2 452.8 100.2 448.2 100.2 443.7 100.3 439.2 100.4 434.8 100.5 430.3 100.6 425.9 100.8 421.5 101.1 417.1 101.3 412.7 101.6 408.4 102 404 102.3 399.7 102.7 395.4 103.2 391.2 103.6 386.9 104.1 382.7 104.7 378.5 105.2 374.3 105.8 370.1 106.5 366 107.1 361.8 107.8 357.7 108.5 353.6 109.3 349.5 110.1 345.5 110.9 341.4 111.7 337.4 112.6 333.4 113.5 329.4 114.4 325.4 115.4 321.5 116.4 317.6 117.4 313.6 118.4 309.7 119.5 305.9 120.6 302 121.8 298.2 122.9 294.3 124.1 290.5 125.3 286.7 126.6 282.9 127.8 279.2 129.1 275.4 130.5M187.4 318.7 192.5 311.5 197.7 304.3 202.8 297.2 207.8 290.2 212.9 283.3 218 276.4 223 269.7 228 263.1 233 256.5 238 250 243 243.7 247.9 237.4 252.8 231.2 257.7 225 262.6 219 267.5 213 272.4 207.2 277.2 201.4 282 195.7 286.8 190.1 291.6 184.6 296.4 179.1 301.2 173.7 305.9 168.5 310.6 163.3 315.3 158.1 320 153.1 324.7 148.2 329.3 143.3 334 138.5 338.6 133.8 343.2 129.1 347.8 124.6 352.3 120.1 356.9 115.7 361.4 111.4 366 107.1 370.5 102.9 374.9 98.9 379.4 94.8 383.9 90.9 388.3 87 392.7 83.2 397.1 79.5 401.5 75.9 405.9 72.3 410.2 68.8 414.6 65.4 418.9 62.1 423.2 58.8 427.5 55.6 431.8 52.4 436 49.4 440.3 46.4 444.5 43.5 448.7 40.6 452.9 37.9 457.1 35.1 461.3 32.5 465.4 29.9M537.8 101.8 532.9 101.1 528 100.5 523.1 100 518.3 99.5 513.4 99 508.7 98.5 503.9 98.1 499.1 97.8 494.4 97.5 489.7 97.2 485 96.9 480.3 96.7 475.7 96.5 471.1 96.4 466.5 96.3 461.9 96.2 457.3 96.2 452.8 96.2 448.3 96.3 443.8 96.4 439.3 96.5 434.9 96.6 430.4 96.8 426 97 421.6 97.3 417.2 97.6 412.9 97.9 408.6 98.3 404.2 98.7 400 99.1 395.7 99.5 391.4 100 387.2 100.5 383 101.1 378.8 101.7 374.6 102.3 370.5 102.9 366.3 103.6 362.2 104.3 358.1 105.1 354 105.8 350 106.6 345.9 107.5 341.9 108.3 337.9 109.2 333.9 110.2 329.9 111.1 326 112.1 322 113.1 318.1 114.1 314.2 115.2 310.3 116.3 306.5 117.4 302.6 118.6 298.8 119.8 295 121 291.2 122.2 287.4 123.5 283.6 124.7 279.9 126.1M183.4 319.7 188.6 312.4 193.7 305.2 198.8 298.1 203.8 291.1 208.9 284.2 214 277.4 219 270.6 224 264 229 257.4 234 250.9 238.9 244.6 243.9 238.3 248.8 232 253.7 225.9 258.6 219.9 263.4 213.9 268.3 208 273.1 202.3 278 196.5 282.8 190.9 287.5 185.4 292.3 179.9 297.1 174.6 301.8 169.3 306.5 164.1 311.2 158.9 315.9 153.9 320.6 148.9 325.2 144 329.8 139.2 334.5 134.5 339.1 129.9 343.6 125.3 348.2 120.8 352.8 116.4 357.3 112.1 361.8 107.8 366.3 103.6 370.8 99.5 375.3 95.5 379.7 91.5 384.2 87.7 388.6 83.9 393 80.1 397.4 76.5 401.7 72.9 406.1 69.4 410.4 66 414.7 62.6 419.1 59.3 423.3 56.1 427.6 53 431.9 49.9 436.1 46.9 440.3 44 444.6 41.1 448.7 38.3 452.9 35.6 457.1 32.9 461.2 30.4M542.3 98.1 537.4 97.4 532.5 96.8 527.7 96.2 522.8 95.7 518 95.2 513.2 94.8 508.4 94.4 503.7 94 498.9 93.7 494.2 93.4 489.5 93.1 484.9 92.9 480.2 92.7 475.6 92.6 471 92.4 466.4 92.4 461.9 92.3 457.3 92.3 452.8 92.4 448.3 92.4 443.8 92.6 439.4 92.7 434.9 92.9 430.5 93.1 426.1 93.3 421.8 93.6 417.4 93.9 413.1 94.3 408.8 94.6 404.5 95.1 400.2 95.5 395.9 96 391.7 96.5 387.5 97 383.3 97.6 379.1 98.2 374.9 98.9 370.8 99.5 366.7 100.2 362.6 101 358.5 101.7 354.4 102.5 350.4 103.3 346.4 104.2 342.3 105.1 338.3 106 334.4 106.9 330.4 107.9 326.5 108.9 322.6 109.9 318.7 111 314.8 112 310.9 113.2 307 114.3 303.2 115.5 299.4 116.7 295.6 117.9 291.8 119.1 288 120.4 284.3 121.7M179.5 320.7 184.6 313.4 189.7 306.2 194.8 299.1 199.9 292.1 204.9 285.2 210 278.3 215 271.6 220 264.9 225 258.4 229.9 251.9 234.9 245.5 239.8 239.2 244.8 233 249.7 226.8 254.5 220.8 259.4 214.8 264.3 208.9 269.1 203.1 273.9 197.4 278.7 191.8 283.5 186.3 288.2 180.8 293 175.4 297.7 170.1 302.4 164.9 307.1 159.8 311.8 154.7 316.5 149.7 321.1 144.8 325.8 140 330.4 135.3 335 130.6 339.5 126.1 344.1 121.6 348.7 117.1 353.2 112.8 357.7 108.5 362.2 104.3 366.7 100.2 371.1 96.2 375.6 92.2 380 88.3 384.4 84.5 388.8 80.8 393.2 77.1 397.6 73.5 401.9 70 406.3 66.6 410.6 63.2 414.9 59.9 419.2 56.7 423.5 53.5 427.7 50.4 432 47.4 436.2 44.5 440.4 41.6 444.6 38.8 448.8 36.1 452.9 33.4 457.1 30.8M546.9 94.4 541.9 93.8 537.1 93.2 532.2 92.6 527.3 92 522.5 91.5 517.7 91.1 512.9 90.7 508.2 90.3 503.5 89.9 498.7 89.6 494.1 89.4 489.4 89.1 484.7 88.9 480.1 88.8 475.5 88.7 470.9 88.6 466.4 88.5 461.8 88.5 457.3 88.5 452.8 88.6 448.3 88.7 443.9 88.8 439.4 89 435 89.2 430.6 89.4 426.3 89.7 421.9 90 417.6 90.3 413.2 90.7 408.9 91.1 404.7 91.5 400.4 92 396.2 92.5 392 93 387.8 93.6 383.6 94.2 379.4 94.8 375.3 95.5 371.1 96.2 367 96.9 363 97.7 358.9 98.4 354.8 99.2 350.8 100.1 346.8 101 342.8 101.9 338.8 102.8 334.9 103.7 330.9 104.7 327 105.8 323.1 106.8 319.2 107.9 315.3 109 311.5 110.1 307.6 111.3 303.8 112.4 300 113.7 296.2 114.9 292.4 116.2 288.7 117.5M175.5 321.7 180.7 314.4 185.8 307.2 190.8 300.1 195.9 293.1 201 286.1 206 279.3 211 272.6 216 265.9 221 259.3 226 252.8 230.9 246.5 235.8 240.1 240.7 233.9 245.6 227.8 250.5 221.7 255.4 215.7 260.2 209.9 265.1 204.1 269.9 198.3 274.7 192.7 279.4 187.2 284.2 181.7 288.9 176.3 293.7 171 298.4 165.8 303.1 160.6 307.7 155.6 312.4 150.6 317.1 145.7 321.7 140.8 326.3 136.1 330.9 131.4 335.5 126.8 340 122.3 344.6 117.9 349.1 113.6 353.6 109.3 358.1 105.1 362.6 101 367 96.9 371.5 92.9 375.9 89 380.3 85.2 384.7 81.5 389.1 77.8 393.5 74.2 397.8 70.7 402.2 67.2 406.5 63.8 410.8 60.5 415.1 57.3 419.3 54.1 423.6 51 427.8 48 432.1 45 436.3 42.1 440.5 39.3 444.6 36.6 448.8 33.9 452.9 31.3M551.4 90.9 546.5 90.2 541.6 89.6 536.7 89 531.8 88.5 527 87.9 522.2 87.5 517.4 87 512.7 86.6 508 86.3 503.2 86 498.6 85.7 493.9 85.5 489.2 85.3 484.6 85.1 480 85 475.4 84.9 470.9 84.8 466.3 84.8 461.8 84.8 457.3 84.9 452.8 84.9 448.4 85.1 443.9 85.2 439.5 85.4 435.1 85.6 430.7 85.9 426.4 86.2 422 86.5 417.7 86.9 413.4 87.2 409.1 87.7 404.9 88.1 400.6 88.6 396.4 89.1 392.2 89.7 388 90.3 383.9 90.9 379.7 91.5 375.6 92.2 371.5 92.9 367.4 93.7 363.3 94.4 359.3 95.2 355.2 96.1 351.2 96.9 347.2 97.8 343.2 98.7 339.3 99.7 335.3 100.7 331.4 101.7 327.5 102.7 323.6 103.8 319.7 104.9 315.9 106 312 107.1 308.2 108.3 304.4 109.5 300.6 110.7 296.8 112 293.1 113.3M171.6 322.7 176.7 315.4 181.8 308.2 186.9 301.1 192 294.1 197 287.2 202 280.3 207.1 273.6 212 266.9 217 260.3 222 253.8 226.9 247.4 231.9 241.1 236.8 234.9 241.6 228.7 246.5 222.7 251.4 216.7 256.2 210.8 261 205 265.9 199.3 270.6 193.6 275.4 188.1 280.2 182.6 284.9 177.2 289.6 171.9 294.3 166.7 299 161.5 303.7 156.4 308.4 151.4 313 146.5 317.6 141.7 322.2 136.9 326.8 132.3 331.4 127.7 336 123.2 340.5 118.7 345 114.3 349.5 110.1 354 105.8 358.5 101.7 363 97.7 367.4 93.7 371.8 89.8 376.2 85.9 380.6 82.2 385 78.5 389.4 74.9 393.7 71.3 398.1 67.9 402.4 64.5 406.7 61.1 411 57.9 415.2 54.7 419.5 51.6 423.7 48.6 427.9 45.6 432.1 42.7 436.3 39.9 440.5 37.1 444.7 34.4 448.8 31.8M555.9 87.4 550.9 86.7 546.1 86.1 541.2 85.5 536.3 84.9 531.5 84.4 526.7 83.9 521.9 83.5 517.2 83.1 512.4 82.7 507.7 82.4 503 82.1 498.4 81.9 493.7 81.7 489.1 81.5 484.5 81.3 479.9 81.2 475.3 81.2 470.8 81.1 466.3 81.1 461.8 81.2 457.3 81.2 452.8 81.4 448.4 81.5 444 81.7 439.6 81.9 435.2 82.1 430.8 82.4 426.5 82.7 422.2 83.1 417.9 83.5 413.6 83.9 409.3 84.3 405.1 84.8 400.9 85.3 396.7 85.8 392.5 86.4 388.3 87 384.2 87.7 380 88.3 375.9 89 371.8 89.8 367.8 90.5 363.7 91.3 359.7 92.1 355.6 93 351.6 93.9 347.7 94.8 343.7 95.7 339.7 96.7 335.8 97.7 331.9 98.7 328 99.7 324.1 100.8 320.3 101.9 316.4 103.1 312.6 104.2 308.8 105.4 305 106.6 301.2 107.9 297.5 109.2M167.7 323.8 172.8 316.5 177.9 309.3 183 302.2 188 295.2 193.1 288.2 198.1 281.4 203.1 274.6 208.1 268 213.1 261.4 218 254.9 223 248.5 227.9 242.1 232.8 235.9 237.7 229.8 242.5 223.7 247.4 217.7 252.2 211.8 257.1 206 261.9 200.3 266.6 194.6 271.4 189 276.2 183.5 280.9 178.1 285.6 172.8 290.3 167.6 295 162.4 299.7 157.3 304.3 152.3 309 147.4 313.6 142.6 318.2 137.8 322.8 133.1 327.3 128.5 331.9 124 336.4 119.5 341 115.2 345.5 110.9 350 106.6 354.4 102.5 358.9 98.4 363.3 94.4 367.8 90.5 372.2 86.7 376.6 82.9 380.9 79.2 385.3 75.6 389.6 72 394 68.5 398.3 65.1 402.6 61.8 406.9 58.5 411.1 55.3 415.4 52.2 419.6 49.2 423.8 46.2 428 43.3 432.2 40.4 436.4 37.7 440.6 35 444.7 32.3M560.3 84 555.4 83.3 550.5 82.7 545.7 82.1 540.8 81.5 536 81 531.2 80.5 526.4 80 521.6 79.6 516.9 79.3 512.2 78.9 507.5 78.6 502.8 78.4 498.2 78.1 493.6 77.9 488.9 77.8 484.4 77.7 479.8 77.6 475.3 77.6 470.7 77.5 466.2 77.6 461.7 77.6 457.3 77.7 452.8 77.9 448.4 78 444 78.2 439.6 78.5 435.3 78.7 430.9 79 426.6 79.4 422.3 79.7 418 80.1 413.8 80.6 409.5 81 405.3 81.5 401.1 82.1 396.9 82.6 392.7 83.2 388.6 83.9 384.4 84.5 380.3 85.2 376.2 85.9 372.2 86.7 368.1 87.5 364.1 88.3 360 89.1 356 90 352 90.9 348.1 91.8 344.1 92.7 340.2 93.7 336.3 94.7 332.4 95.8 328.5 96.9 324.6 98 320.8 99.1 317 100.2 313.1 101.4 309.4 102.6 305.6 103.9 301.8 105.1M163.8 324.9 168.9 317.6 174 310.4 179.1 303.3 184.1 296.2 189.2 289.3 194.2 282.5 199.2 275.7 204.2 269 209.1 262.4 214.1 255.9 219 249.5 223.9 243.2 228.8 236.9 233.7 230.8 238.6 224.7 243.4 218.7 248.3 212.8 253.1 207 257.9 201.3 262.7 195.6 267.4 190 272.2 184.5 276.9 179.1 281.6 173.8 286.3 168.5 291 163.4 295.7 158.3 300.3 153.3 304.9 148.3 309.6 143.5 314.2 138.7 318.7 134 323.3 129.4 327.9 124.9 332.4 120.4 336.9 116 341.4 111.7 345.9 107.5 350.4 103.3 354.8 99.2 359.3 95.2 363.7 91.3 368.1 87.5 372.5 83.7 376.9 80 381.2 76.3 385.6 72.8 389.9 69.3 394.2 65.8 398.5 62.5 402.8 59.2 407 56 411.3 52.9 415.5 49.8 419.7 46.8 424 43.9 428.1 41.1 432.3 38.3 436.5 35.6 440.6 32.9M564.8 80.7 559.9 80 555 79.4 550.1 78.8 545.3 78.2 540.4 77.6 535.6 77.1 530.9 76.7 526.1 76.2 521.4 75.9 516.6 75.5 511.9 75.2 507.3 74.9 502.6 74.7 498 74.5 493.4 74.3 488.8 74.2 484.2 74.1 479.7 74 475.2 74 470.7 74 466.2 74.1 461.7 74.2 457.3 74.3 452.8 74.5 448.4 74.7 444.1 74.9 439.7 75.1 435.4 75.4 431 75.8 426.7 76.1 422.4 76.5 418.2 76.9 413.9 77.4 409.7 77.9 405.5 78.4 401.3 78.9 397.1 79.5 393 80.1 388.8 80.8 384.7 81.5 380.6 82.2 376.6 82.9 372.5 83.7 368.4 84.5 364.4 85.3 360.4 86.1 356.4 87 352.5 88 348.5 88.9 344.6 89.9 340.7 90.9 336.7 91.9 332.9 93 329 94 325.1 95.2 321.3 96.3 317.5 97.5 313.7 98.7 309.9 99.9 306.2 101.1M160 326 165.1 318.7 170.2 311.5 175.2 304.4 180.3 297.4 185.3 290.4 190.3 283.6 195.3 276.8 200.3 270.1 205.2 263.5 210.2 257 215.1 250.6 220 244.3 224.9 238 229.8 231.9 234.7 225.8 239.5 219.8 244.3 213.9 249.1 208 253.9 202.3 258.7 196.6 263.5 191 268.2 185.5 272.9 180.1 277.6 174.8 282.3 169.5 287 164.3 291.7 159.2 296.3 154.2 301 149.3 305.6 144.4 310.2 139.6 314.7 134.9 319.3 130.3 323.9 125.8 328.4 121.3 332.9 116.9 337.4 112.6 341.9 108.3 346.4 104.2 350.8 100.1 355.2 96.1 359.7 92.1 364.1 88.3 368.4 84.5 372.8 80.7 377.2 77.1 381.5 73.5 385.8 70 390.2 66.6 394.4 63.2 398.7 59.9 403 56.7 407.2 53.6 411.5 50.5 415.7 47.5 419.9 44.6 424.1 41.7 428.2 38.9 432.4 36.2 436.5 33.5M569.2 77.5 564.3 76.8 559.4 76.1 554.5 75.5 549.7 74.9 544.9 74.4 540.1 73.8 535.3 73.4 530.5 72.9 525.8 72.5 521.1 72.2 516.4 71.8 511.7 71.6 507.1 71.3 502.4 71.1 497.8 70.9 493.2 70.8 488.7 70.7 484.1 70.6 479.6 70.6 475.1 70.6 470.6 70.6 466.1 70.7 461.7 70.8 457.3 71 452.9 71.1 448.5 71.4 444.1 71.6 439.8 71.9 435.4 72.2 431.1 72.5 426.8 72.9 422.6 73.3 418.3 73.8 414.1 74.3 409.9 74.8 405.7 75.3 401.5 75.9 397.4 76.5 393.2 77.1 389.1 77.8 385 78.5 380.9 79.2 376.9 80 372.8 80.7 368.8 81.6 364.8 82.4 360.8 83.3 356.8 84.2 352.9 85.1 348.9 86.1 345 87.1 341.1 88.1 337.2 89.1 333.3 90.2 329.5 91.3 325.7 92.4 321.8 93.6 318 94.8 314.3 96 310.5 97.2M156.1 327.2 161.2 319.9 166.3 312.7 171.4 305.5 176.4 298.5 181.4 291.6 186.4 284.7 191.4 277.9 196.4 271.3 201.4 264.7 206.3 258.1 211.2 251.7 216.1 245.4 221 239.1 225.9 233 230.7 226.9 235.6 220.9 240.4 214.9 245.2 209.1 250 203.3 254.8 197.7 259.5 192.1 264.3 186.6 269 181.2 273.7 175.8 278.4 170.5 283 165.4 287.7 160.2 292.3 155.2 297 150.3 301.6 145.4 306.2 140.6 310.8 135.9 315.3 131.3 319.9 126.7 324.4 122.2 328.9 117.8 333.4 113.5 337.9 109.2 342.3 105.1 346.8 101 351.2 96.9 355.6 93 360 89.1 364.4 85.3 368.8 81.6 373.1 77.9 377.5 74.3 381.8 70.8 386.1 67.4 390.4 64 394.7 60.7 398.9 57.5 403.2 54.3 407.4 51.2 411.6 48.2 415.8 45.2 420 42.4 424.2 39.6 428.3 36.8 432.5 34.1M573.6 74.4 568.7 73.6 563.8 73 559 72.3 554.1 71.7 549.3 71.2 544.5 70.6 539.7 70.1 534.9 69.7 530.2 69.3 525.5 68.9 520.8 68.6 516.1 68.3 511.5 68 506.8 67.8 502.2 67.6 497.6 67.5 493.1 67.4 488.5 67.3 484 67.2 479.5 67.2 475 67.3 470.5 67.3 466.1 67.4 461.7 67.6 457.3 67.7 452.9 67.9 448.5 68.2 444.2 68.4 439.8 68.7 435.5 69.1 431.2 69.4 427 69.8 422.7 70.3 418.5 70.7 414.3 71.2 410.1 71.8 405.9 72.3 401.7 72.9 397.6 73.5 393.5 74.2 389.4 74.9 385.3 75.6 381.2 76.3 377.2 77.1 373.1 77.9 369.1 78.7 365.1 79.6 361.2 80.5 357.2 81.4 353.3 82.4 349.3 83.3 345.4 84.4 341.5 85.4 337.7 86.5 333.8 87.5 330 88.7 326.2 89.8 322.4 91 318.6 92.2 314.8 93.4M152.3 328.4 157.4 321.1 162.5 313.9 167.5 306.7 172.6 299.7 177.6 292.7 182.6 285.9 187.6 279.1 192.5 272.4 197.5 265.8 202.4 259.3 207.3 252.9 212.2 246.5 217.1 240.3 222 234.1 226.8 228 231.7 222 236.5 216 241.3 210.2 246.1 204.4 250.8 198.8 255.6 193.2 260.3 187.6 265 182.2 269.7 176.9 274.4 171.6 279.1 166.4 283.8 161.3 288.4 156.2 293 151.3 297.6 146.4 302.2 141.6 306.8 136.9 311.3 132.2 315.9 127.7 320.4 123.2 324.9 118.8 329.4 114.4 333.9 110.2 338.3 106 342.8 101.9 347.2 97.8 351.6 93.9 356 90 360.4 86.1 364.8 82.4 369.1 78.7 373.5 75.1 377.8 71.6 382.1 68.2 386.4 64.8 390.7 61.5 394.9 58.2 399.2 55.1 403.4 52 407.6 48.9 411.8 46 416 43.1 420.1 40.2 424.3 37.5 428.4 34.8M578 71.3 573.1 70.6 568.2 69.9 563.3 69.2 558.5 68.6 553.7 68 548.9 67.5 544.1 67 539.3 66.5 534.6 66.1 529.9 65.7 525.2 65.4 520.5 65.1 515.9 64.8 511.2 64.6 506.6 64.4 502 64.2 497.5 64.1 492.9 64 488.4 64 483.9 63.9 479.4 64 474.9 64 470.5 64.1 466 64.2 461.6 64.4 457.2 64.6 452.9 64.8 448.5 65 444.2 65.3 439.9 65.6 435.6 66 431.3 66.4 427.1 66.8 422.8 67.3 418.6 67.8 414.4 68.3 410.2 68.8 406.1 69.4 401.9 70 397.8 70.7 393.7 71.3 389.6 72 385.6 72.8 381.5 73.5 377.5 74.3 373.5 75.1 369.5 76 365.5 76.9 361.5 77.8 357.6 78.7 353.7 79.7 349.8 80.7 345.9 81.7 342 82.8 338.1 83.8 334.3 84.9 330.5 86.1 326.7 87.2 322.9 88.4 319.1 89.7M148.5 329.6 153.6 322.3 158.7 315.1 163.7 307.9 168.7 300.9 173.8 293.9 178.7 287.1 183.7 280.3 188.7 273.6 193.6 267 198.6 260.5 203.5 254 208.4 247.7 213.2 241.4 218.1 235.2 222.9 229.1 227.8 223.1 232.6 217.2 237.4 211.3 242.2 205.6 246.9 199.9 251.7 194.3 256.4 188.7 261.1 183.3 265.8 177.9 270.5 172.7 275.2 167.5 279.8 162.3 284.5 157.3 289.1 152.3 293.7 147.4 298.3 142.6 302.8 137.9 307.4 133.2 311.9 128.7 316.4 124.2 320.9 119.7 325.4 115.4 329.9 111.1 334.4 106.9 338.8 102.8 343.2 98.7 347.7 94.8 352 90.9 356.4 87 360.8 83.3 365.1 79.6 369.5 76 373.8 72.5 378.1 69 382.4 65.6 386.7 62.3 390.9 59 395.2 55.8 399.4 52.7 403.6 49.7 407.8 46.7 412 43.8 416.1 41 420.3 38.2 424.4 35.5M582.4 68.3 577.5 67.6 572.6 66.9 567.7 66.2 562.9 65.6 558 65 553.2 64.4 548.5 63.9 543.7 63.5 539 63 534.2 62.6 529.6 62.3 524.9 62 520.2 61.7 515.6 61.4 511 61.2 506.4 61 501.8 60.9 497.3 60.8 492.7 60.7 488.2 60.7 483.7 60.7 479.3 60.8 474.8 60.8 470.4 60.9 466 61.1 461.6 61.3 457.2 61.5 452.9 61.7 448.5 62 444.2 62.3 439.9 62.7 435.7 63 431.4 63.4 427.2 63.9 423 64.4 418.8 64.9 414.6 65.4 410.4 66 406.3 66.6 402.2 67.2 398.1 67.9 394 68.5 389.9 69.3 385.8 70 381.8 70.8 377.8 71.6 373.8 72.5 369.8 73.3 365.9 74.2 361.9 75.1 358 76.1 354.1 77.1 350.2 78.1 346.3 79.1 342.4 80.2 338.6 81.3 334.8 82.4 330.9 83.6 327.2 84.8 323.4 86M144.7 330.8 149.8 323.5 154.9 316.3 159.9 309.2 164.9 302.1 169.9 295.2 174.9 288.3 179.9 281.5 184.9 274.8 189.8 268.2 194.7 261.7 199.6 255.2 204.5 248.9 209.4 242.6 214.2 236.4 219.1 230.3 223.9 224.3 228.7 218.3 233.5 212.5 238.3 206.7 243 201 247.8 195.4 252.5 189.9 257.2 184.4 261.9 179 266.6 173.8 271.3 168.5 275.9 163.4 280.5 158.4 285.1 153.4 289.7 148.5 294.3 143.7 298.9 138.9 303.4 134.3 308 129.7 312.5 125.2 317 120.7 321.5 116.4 326 112.1 330.4 107.9 334.9 103.7 339.3 99.7 343.7 95.7 348.1 91.8 352.5 88 356.8 84.2 361.2 80.5 365.5 76.9 369.8 73.3 374.1 69.8 378.4 66.4 382.7 63.1 386.9 59.8 391.2 56.6 395.4 53.5 399.6 50.5 403.8 47.5 408 44.6 412.1 41.7 416.3 38.9 420.4 36.2M586.8 65.4 581.8 64.6 576.9 63.9 572.1 63.3 567.2 62.6 562.4 62 557.6 61.5 552.8 60.9 548.1 60.5 543.3 60 538.6 59.6 533.9 59.2 529.2 58.9 524.6 58.6 519.9 58.4 515.3 58.1 510.7 57.9 506.2 57.8 501.6 57.7 497.1 57.6 492.6 57.6 488.1 57.6 483.6 57.6 479.2 57.7 474.7 57.8 470.3 57.9 465.9 58 461.6 58.2 457.2 58.5 452.9 58.7 448.6 59 444.3 59.4 440 59.7 435.7 60.1 431.5 60.6 427.3 61 423.1 61.5 418.9 62.1 414.7 62.6 410.6 63.2 406.5 63.8 402.4 64.5 398.3 65.1 394.2 65.8 390.2 66.6 386.1 67.4 382.1 68.2 378.1 69 374.1 69.8 370.1 70.7 366.2 71.6 362.3 72.6 358.4 73.6 354.5 74.6 350.6 75.6 346.7 76.6 342.9 77.7 339 78.8 335.2 80 331.4 81.2 327.6 82.3M141 332.1 146.1 324.8 151.1 317.6 156.1 310.4 161.2 303.4 166.2 296.4 171.1 289.6 176.1 282.8 181 276.1 186 269.4 190.9 262.9 195.8 256.5 200.7 250.1 205.6 243.8 210.4 237.6 215.2 231.5 220.1 225.5 224.9 219.5 229.7 213.7 234.4 207.9 239.2 202.2 243.9 196.6 248.6 191 253.3 185.6 258 180.2 262.7 174.9 267.4 169.7 272 164.5 276.6 159.5 281.2 154.5 285.8 149.6 290.4 144.8 295 140 299.5 135.3 304.1 130.7 308.6 126.2 313.1 121.8 317.6 117.4 322 113.1 326.5 108.9 330.9 104.7 335.3 100.7 339.7 96.7 344.1 92.7 348.5 88.9 352.9 85.1 357.2 81.4 361.5 77.8 365.9 74.2 370.1 70.7 374.4 67.3 378.7 64 383 60.7 387.2 57.5 391.4 54.3 395.6 51.3 399.8 48.3 404 45.3 408.1 42.5 412.3 39.7 416.4 37M591.1 62.6 586.2 61.8 581.3 61.1 576.4 60.4 571.6 59.7 566.7 59.1 561.9 58.6 557.2 58 552.4 57.5 547.7 57.1 542.9 56.7 538.2 56.3 533.6 55.9 528.9 55.6 524.3 55.4 519.7 55.1 515.1 54.9 510.5 54.8 506 54.6 501.4 54.6 496.9 54.5 492.4 54.5 488 54.5 483.5 54.5 479.1 54.6 474.7 54.8 470.3 54.9 465.9 55.1 461.5 55.3 457.2 55.6 452.9 55.9 448.6 56.2 444.3 56.5 440.1 56.9 435.8 57.3 431.6 57.8 427.4 58.3 423.2 58.8 419.1 59.3 414.9 59.9 410.8 60.5 406.7 61.1 402.6 61.8 398.5 62.5 394.4 63.2 390.4 64 386.4 64.8 382.4 65.6 378.4 66.4 374.4 67.3 370.5 68.2 366.5 69.1 362.6 70.1 358.7 71.1 354.8 72.1 351 73.2 347.1 74.2 343.3 75.3 339.5 76.5 335.7 77.6 331.9 78.8M137.2 333.4 142.3 326.1 147.3 318.9 152.4 311.7 157.4 304.7 162.4 297.7 167.4 290.8 172.3 284 177.3 277.3 182.2 270.7 187.1 264.2 192 257.7 196.9 251.4 201.7 245.1 206.6 238.9 211.4 232.7 216.2 226.7 221 220.8 225.8 214.9 230.6 209.1 235.3 203.4 240.1 197.8 244.8 192.2 249.5 186.7 254.2 181.4 258.8 176.1 263.5 170.8 268.1 165.7 272.7 160.6 277.4 155.6 281.9 150.7 286.5 145.9 291.1 141.1 295.6 136.4 300.2 131.8 304.7 127.3 309.2 122.8 313.6 118.4 318.1 114.1 322.6 109.9 327 105.8 331.4 101.7 335.8 97.7 340.2 93.7 344.6 89.9 348.9 86.1 353.3 82.4 357.6 78.7 361.9 75.1 366.2 71.6 370.5 68.2 374.7 64.9 379 61.6 383.2 58.3 387.4 55.2 391.7 52.1 395.8 49.1 400 46.2 404.2 43.3 408.3 40.5 412.5 37.7M595.4 59.8 590.5 59 585.6 58.3 580.7 57.6 575.9 56.9 571.1 56.3 566.3 55.7 561.5 55.2 556.7 54.7 552 54.2 547.3 53.8 542.6 53.4 537.9 53 533.2 52.7 528.6 52.4 524 52.2 519.4 52 514.8 51.8 510.3 51.7 505.7 51.6 501.2 51.5 496.7 51.5 492.3 51.5 487.8 51.5 483.4 51.6 479 51.7 474.6 51.8 470.2 52 465.8 52.2 461.5 52.5 457.2 52.7 452.9 53 448.6 53.4 444.4 53.8 440.1 54.2 435.9 54.6 431.7 55.1 427.5 55.6 423.3 56.1 419.2 56.7 415.1 57.3 411 57.9 406.9 58.5 402.8 59.2 398.7 59.9 394.7 60.7 390.7 61.5 386.7 62.3 382.7 63.1 378.7 64 374.7 64.9 370.8 65.8 366.9 66.7 363 67.7 359.1 68.7 355.2 69.7 351.4 70.8 347.5 71.9 343.7 73 339.9 74.1 336.1 75.3M133.5 334.8 138.6 327.4 143.6 320.2 148.6 313.1 153.6 306 158.6 299 163.6 292.2 168.6 285.4 173.5 278.6 178.4 272 183.3 265.5 188.2 259 193.1 252.6 197.9 246.3 202.8 240.1 207.6 234 212.4 228 217.2 222 222 216.1 226.7 210.3 231.5 204.6 236.2 199 240.9 193.4 245.6 187.9 250.3 182.6 255 177.2 259.6 172 264.3 166.8 268.9 161.8 273.5 156.8 278.1 151.8 282.6 147 287.2 142.2 291.7 137.5 296.3 132.9 300.8 128.4 305.3 123.9 309.7 119.5 314.2 115.2 318.7 111 323.1 106.8 327.5 102.7 331.9 98.7 336.3 94.7 340.7 90.9 345 87.1 349.3 83.3 353.7 79.7 358 76.1 362.3 72.6 366.5 69.1 370.8 65.8 375.1 62.5 379.3 59.2 383.5 56.1 387.7 53 391.9 50 396.1 47 400.2 44.1 404.4 41.3 408.5 38.5M599.7 57.1 594.8 56.3 589.9 55.6 585 54.9 580.2 54.2 575.4 53.6 570.6 53 565.8 52.4 561 51.9 556.3 51.4 551.6 51 546.9 50.6 542.2 50.2 537.5 49.9 532.9 49.6 528.3 49.3 523.7 49.1 519.1 48.9 514.6 48.8 510 48.7 505.5 48.6 501 48.5 496.6 48.5 492.1 48.6 487.7 48.6 483.3 48.7 478.9 48.8 474.5 49 470.1 49.2 465.8 49.4 461.5 49.7 457.2 50 452.9 50.3 448.6 50.7 444.4 51.1 440.2 51.5 436 52 431.8 52.4 427.6 53 423.5 53.5 419.3 54.1 415.2 54.7 411.1 55.3 407 56 403 56.7 398.9 57.5 394.9 58.2 390.9 59 386.9 59.8 383 60.7 379 61.6 375.1 62.5 371.1 63.4 367.2 64.4 363.3 65.4 359.5 66.4 355.6 67.4 351.8 68.5 348 69.6 344.2 70.7 340.4 71.9M129.8 336.1 134.9 328.8 139.9 321.6 144.9 314.4 149.9 307.4 154.9 300.4 159.9 293.5 164.8 286.7 169.7 280 174.7 273.3 179.6 266.8 184.4 260.3 189.3 253.9 194.2 247.6 199 241.4 203.8 235.3 208.6 229.3 213.4 223.3 218.2 217.4 222.9 211.6 227.7 205.9 232.4 200.2 237.1 194.7 241.8 189.2 246.5 183.8 251.1 178.5 255.8 173.2 260.4 168 265 163 269.6 157.9 274.2 153 278.8 148.2 283.3 143.4 287.9 138.7 292.4 134.1 296.9 129.5 301.4 125 305.9 120.6 310.3 116.3 314.8 112 319.2 107.9 323.6 103.8 328 99.7 332.4 95.8 336.7 91.9 341.1 88.1 345.4 84.4 349.8 80.7 354.1 77.1 358.4 73.6 362.6 70.1 366.9 66.7 371.1 63.4 375.4 60.2 379.6 57 383.8 53.9 388 50.8 392.1 47.9 396.3 45 400.4 42.1 404.6 39.4M604 54.5 599.1 53.7 594.2 53 589.3 52.2 584.5 51.6 579.7 50.9 574.8 50.3 570.1 49.7 565.3 49.2 560.6 48.7 555.8 48.3 551.2 47.8 546.5 47.5 541.8 47.1 537.2 46.8 532.6 46.5 528 46.3 523.4 46.1 518.8 46 514.3 45.8 509.8 45.7 505.3 45.7 500.8 45.7 496.4 45.7 491.9 45.7 487.5 45.8 483.1 45.9 478.8 46.1 474.4 46.3 470.1 46.5 465.7 46.7 461.5 47 457.2 47.3 452.9 47.7 448.7 48.1 444.4 48.5 440.2 48.9 436 49.4 431.9 49.9 427.7 50.4 423.6 51 419.5 51.6 415.4 52.2 411.3 52.9 407.2 53.6 403.2 54.3 399.2 55.1 395.2 55.8 391.2 56.6 387.2 57.5 383.2 58.3 379.3 59.2 375.4 60.2 371.5 61.1 367.6 62.1 363.7 63.1 359.8 64.1 356 65.2 352.2 66.3 348.4 67.4 344.6 68.6M126.1 337.5 131.2 330.2 136.2 323 141.2 315.8 146.2 308.7 151.2 301.8 156.1 294.9 161.1 288.1 166 281.3 170.9 274.7 175.8 268.1 180.7 261.7 185.6 255.3 190.4 249 195.2 242.8 200 236.6 204.8 230.6 209.6 224.6 214.4 218.7 219.2 212.9 223.9 207.2 228.6 201.5 233.3 195.9 238 190.4 242.7 185 247.3 179.7 252 174.4 256.6 169.3 261.2 164.2 265.8 159.2 270.4 154.2 274.9 149.4 279.5 144.6 284 139.9 288.5 135.2 293 130.7 297.5 126.2 302 121.8 306.5 117.4 310.9 113.2 315.3 109 319.7 104.9 324.1 100.8 328.5 96.9 332.9 93 337.2 89.1 341.5 85.4 345.9 81.7 350.2 78.1 354.5 74.6 358.7 71.1 363 67.7 367.2 64.4 371.5 61.1 375.7 57.9 379.9 54.8 384.1 51.8 388.2 48.8 392.4 45.9 396.5 43 400.6 40.2M608.3 52 603.3 51.2 598.5 50.4 593.6 49.7 588.7 49 583.9 48.3 579.1 47.7 574.3 47.1 569.6 46.6 564.8 46.1 560.1 45.6 555.4 45.2 550.7 44.8 546.1 44.4 541.4 44.1 536.8 43.8 532.2 43.6 527.7 43.4 523.1 43.2 518.6 43.1 514.1 43 509.6 42.9 505.1 42.9 500.6 42.9 496.2 42.9 491.8 43 487.4 43.1 483 43.2 478.7 43.4 474.3 43.6 470 43.8 465.7 44.1 461.4 44.4 457.2 44.7 452.9 45.1 448.7 45.5 444.5 45.9 440.3 46.4 436.1 46.9 432 47.4 427.8 48 423.7 48.6 419.6 49.2 415.5 49.8 411.5 50.5 407.4 51.2 403.4 52 399.4 52.7 395.4 53.5 391.4 54.3 387.4 55.2 383.5 56.1 379.6 57 375.7 57.9 371.8 58.9 367.9 59.9 364 60.9 360.2 62 356.4 63 352.6 64.2 348.8 65.3M122.5 338.9 127.5 331.6 132.5 324.4 137.5 317.2 142.5 310.1 147.5 303.2 152.4 296.3 157.4 289.5 162.3 282.7 167.2 276.1 172.1 269.5 177 263 181.8 256.7 186.7 250.3 191.5 244.1 196.3 238 201.1 231.9 205.9 225.9 210.6 220 215.4 214.2 220.1 208.5 224.8 202.8 229.5 197.2 234.2 191.7 238.9 186.3 243.5 181 248.2 175.7 252.8 170.5 257.4 165.4 262 160.4 266.6 155.4 271.1 150.6 275.7 145.8 280.2 141.1 284.7 136.4 289.2 131.8 293.7 127.3 298.2 122.9 302.6 118.6 307 114.3 311.5 110.1 315.9 106 320.3 101.9 324.6 98 329 94 333.3 90.2 337.7 86.5 342 82.8 346.3 79.1 350.6 75.6 354.8 72.1 359.1 68.7 363.3 65.4 367.6 62.1 371.8 58.9 376 55.8 380.2 52.7 384.3 49.7 388.5 46.8 392.6 43.9 396.7 41.1M612.5 49.6 607.6 48.7 602.7 47.9 597.8 47.2 593 46.5 588.2 45.8 583.4 45.2 578.6 44.6 573.8 44 569.1 43.5 564.4 43 559.7 42.6 555 42.2 550.3 41.8 545.7 41.5 541.1 41.2 536.5 40.9 531.9 40.7 527.4 40.5 522.8 40.4 518.3 40.3 513.8 40.2 509.3 40.1 504.9 40.1 500.4 40.1 496 40.2 491.6 40.3 487.3 40.4 482.9 40.6 478.6 40.8 474.2 41 469.9 41.3 465.7 41.5 461.4 41.9 457.1 42.2 452.9 42.6 448.7 43 444.5 43.5 440.3 44 436.2 44.5 432.1 45 427.9 45.6 423.8 46.2 419.7 46.8 415.7 47.5 411.6 48.2 407.6 48.9 403.6 49.7 399.6 50.5 395.6 51.3 391.7 52.1 387.7 53 383.8 53.9 379.9 54.8 376 55.8 372.1 56.8 368.2 57.8 364.4 58.8 360.6 59.9 356.8 61 353 62.1M118.8 340.4 123.8 333.1 128.9 325.8 133.9 318.7 138.8 311.6 143.8 304.6 148.7 297.7 153.7 290.9 158.6 284.1 163.5 277.5 168.4 270.9 173.2 264.4 178.1 258 182.9 251.7 187.8 245.5 192.6 239.3 197.4 233.3 202.1 227.3 206.9 221.4 211.6 215.6 216.4 209.8 221.1 204.1 225.8 198.6 230.4 193.1 235.1 187.6 239.7 182.3 244.4 177 249 171.8 253.6 166.7 258.2 161.7 262.8 156.7 267.3 151.8 271.9 147 276.4 142.3 280.9 137.6 285.4 133 289.9 128.5 294.3 124.1 298.8 119.8 303.2 115.5 307.6 111.3 312 107.1 316.4 103.1 320.8 99.1 325.1 95.2 329.5 91.3 333.8 87.5 338.1 83.8 342.4 80.2 346.7 76.6 351 73.2 355.2 69.7 359.5 66.4 363.7 63.1 367.9 59.9 372.1 56.8 376.3 53.7 380.4 50.7 384.6 47.7 388.7 44.9 392.8 42.1M616.7 47.2 611.8 46.3 606.9 45.5 602.1 44.8 597.2 44.1 592.4 43.4 587.6 42.7 582.8 42.1 578.1 41.6 573.3 41 568.6 40.5 563.9 40.1 559.2 39.7 554.6 39.3 549.9 38.9 545.3 38.6 540.7 38.4 536.1 38.1 531.6 37.9 527.1 37.8 522.5 37.6 518 37.5 513.6 37.5 509.1 37.5 504.7 37.5 500.3 37.5 495.9 37.6 491.5 37.7 487.1 37.8 482.8 38 478.5 38.2 474.2 38.5 469.9 38.8 465.6 39.1 461.4 39.4 457.1 39.8 452.9 40.2 448.7 40.6 444.6 41.1 440.4 41.6 436.3 42.1 432.1 42.7 428 43.3 424 43.9 419.9 44.6 415.8 45.2 411.8 46 407.8 46.7 403.8 47.5 399.8 48.3 395.8 49.1 391.9 50 388 50.8 384.1 51.8 380.2 52.7 376.3 53.7 372.4 54.7 368.6 55.7 364.7 56.8 360.9 57.8 357.1 58.9M115.2 341.9 120.2 334.5 125.2 327.3 130.2 320.1 135.2 313 140.1 306.1 145.1 299.1 150 292.3 154.9 285.6 159.8 278.9 164.7 272.4 169.6 265.9 174.4 259.5 179.2 253.1 184 246.9 188.8 240.7 193.6 234.7 198.4 228.7 203.2 222.8 207.9 216.9 212.6 211.2 217.3 205.5 222 199.9 226.7 194.4 231.3 189 236 183.6 240.6 178.3 245.2 173.1 249.8 168 254.4 163 259 158 263.5 153.1 268.1 148.3 272.6 143.5 277.1 138.9 281.6 134.3 286.1 129.8 290.5 125.3 295 121 299.4 116.7 303.8 112.4 308.2 108.3 312.6 104.2 317 100.2 321.3 96.3 325.7 92.4 330 88.7 334.3 84.9 338.6 81.3 342.9 77.7 347.1 74.2 351.4 70.8 355.6 67.4 359.8 64.1 364 60.9 368.2 57.8 372.4 54.7 376.6 51.7 380.7 48.7 384.9 45.8 389 43M620.9 44.9 616 44 611.1 43.2 606.3 42.4 601.4 41.7 596.6 41 591.8 40.4 587 39.7 582.3 39.2 577.5 38.6 572.8 38.1 568.1 37.6 563.4 37.2 558.8 36.8 554.1 36.5 549.5 36.1 544.9 35.8 540.4 35.6 535.8 35.4 531.3 35.2 526.7 35.1 522.3 35 517.8 34.9 513.3 34.9 508.9 34.9 504.5 34.9 500.1 35 495.7 35.1 491.3 35.2 487 35.4 482.7 35.6 478.4 35.8 474.1 36.1 469.8 36.3 465.6 36.7 461.3 37 457.1 37.4 452.9 37.9 448.7 38.3 444.6 38.8 440.5 39.3 436.3 39.9 432.2 40.4 428.1 41.1 424.1 41.7 420 42.4 416 43.1 412 43.8 408 44.6 404 45.3 400 46.2 396.1 47 392.1 47.9 388.2 48.8 384.3 49.7 380.4 50.7 376.6 51.7 372.7 52.7 368.9 53.7 365.1 54.8 361.3 55.9M111.6 343.4 116.6 336 121.6 328.8 126.6 321.6 131.5 314.5 136.5 307.5 141.4 300.6 146.3 293.8 151.3 287.1 156.1 280.4 161 273.8 165.9 267.3 170.7 260.9 175.5 254.6 180.4 248.3 185.1 242.2 189.9 236.1 194.7 230.1 199.4 224.2 204.2 218.3 208.9 212.6 213.6 206.9 218.3 201.3 222.9 195.8 227.6 190.3 232.2 185 236.9 179.7 241.5 174.5 246.1 169.3 250.6 164.3 255.2 159.3 259.8 154.4 264.3 149.6 268.8 144.8 273.3 140.1 277.8 135.5 282.3 131 286.7 126.6 291.2 122.2 295.6 117.9 300 113.7 304.4 109.5 308.8 105.4 313.1 101.4 317.5 97.5 321.8 93.6 326.2 89.8 330.5 86.1 334.8 82.4 339 78.8 343.3 75.3 347.5 71.9 351.8 68.5 356 65.2 360.2 62 364.4 58.8 368.6 55.7 372.7 52.7 376.9 49.7 381 46.8 385.1 44M625.1 42.7 620.2 41.8 615.3 41 610.5 40.2 605.6 39.4 600.8 38.7 596 38 591.2 37.4 586.5 36.8 581.7 36.3 577 35.7 572.3 35.3 567.6 34.8 563 34.4 558.3 34 553.7 33.7 549.1 33.4 544.6 33.2 540 32.9 535.5 32.7 530.9 32.6 526.4 32.5 522 32.4 517.5 32.3 513.1 32.3 508.7 32.3 504.3 32.4 499.9 32.5 495.5 32.6 491.2 32.8 486.9 32.9 482.5 33.2 478.3 33.4 474 33.7 469.7 34 465.5 34.4 461.3 34.7 457.1 35.1 452.9 35.6 448.8 36.1 444.6 36.6 440.5 37.1 436.4 37.7 432.3 38.3 428.2 38.9 424.2 39.6 420.1 40.2 416.1 41 412.1 41.7 408.1 42.5 404.2 43.3 400.2 44.1 396.3 45 392.4 45.9 388.5 46.8 384.6 47.7 380.7 48.7 376.9 49.7 373 50.7 369.2 51.8 365.4 52.9M108 344.9 113 337.6 118 330.3 123 323.1 127.9 316.1 132.9 309 137.8 302.1 142.7 295.3 147.6 288.5 152.5 281.9 157.4 275.3 162.2 268.8 167 262.4 171.9 256.1 176.7 249.8 181.5 243.6 186.2 237.5 191 231.5 195.7 225.6 200.5 219.8 205.2 214 209.9 208.3 214.6 202.7 219.2 197.2 223.9 191.7 228.5 186.3 233.1 181 237.7 175.8 242.3 170.7 246.9 165.6 251.5 160.6 256 155.7 260.5 150.9 265 146.1 269.5 141.4 274 136.8 278.5 132.3 282.9 127.8 287.4 123.5 291.8 119.1 296.2 114.9 300.6 110.7 305 106.6 309.4 102.6 313.7 98.7 318 94.8 322.4 91 326.7 87.2 330.9 83.6 335.2 80 339.5 76.5 343.7 73 348 69.6 352.2 66.3 356.4 63 360.6 59.9 364.7 56.8 368.9 53.7 373 50.7 377.2 47.8 381.3 45M629.3 40.5 624.4 39.6 619.5 38.8 614.6 38 609.8 37.2 605 36.5 600.2 35.8 595.4 35.2 590.6 34.6 585.9 34 581.2 33.5 576.5 33 571.8 32.5 567.1 32.1 562.5 31.7 557.9 31.4 553.3 31.1 548.7 30.8 544.2 30.5 539.6 30.3 535.1 30.2 530.6 30 526.1 29.9 521.7 29.9 517.3 29.9 512.8 29.9 508.4 29.9 504.1 30 499.7 30.1 495.3 30.2 491 30.4 486.7 30.6 482.4 30.8 478.2 31.1 473.9 31.4 469.7 31.7 465.5 32.1 461.3 32.5 457.1 32.9 452.9 33.4 448.8 33.9 444.7 34.4 440.6 35 436.5 35.6 432.4 36.2 428.3 36.8 424.3 37.5 420.3 38.2 416.3 38.9 412.3 39.7 408.3 40.5 404.4 41.3 400.4 42.1 396.5 43 392.6 43.9 388.7 44.9 384.9 45.8 381 46.8 377.2 47.8 373.3 48.9 369.5 49.9M104.4 346.5 109.4 339.1 114.4 331.9 119.4 324.7 124.3 317.6 129.3 310.6 134.2 303.7 139.1 296.8 144 290.1 148.9 283.4 153.7 276.8 158.6 270.3 163.4 263.9 168.2 257.5 173 251.3 177.8 245.1 182.6 239 187.3 233 192.1 227.1 196.8 221.2 201.5 215.4 206.2 209.7 210.9 204.1 215.5 198.6 220.2 193.1 224.8 187.7 229.4 182.4 234 177.2 238.6 172.1 243.2 167 247.7 162 252.3 157.1 256.8 152.2 261.3 147.5 265.8 142.8 270.3 138.2 274.7 133.6 279.2 129.1 283.6 124.7 288 120.4 292.4 116.2 296.8 112 301.2 107.9 305.6 103.9 309.9 99.9 314.3 96 318.6 92.2 322.9 88.4 327.2 84.8 331.4 81.2 335.7 77.6 339.9 74.1 344.2 70.7 348.4 67.4 352.6 64.2 356.8 61 360.9 57.8 365.1 54.8 369.2 51.8 373.3 48.9 377.5 46M633.5 38.4 628.5 37.5 623.7 36.7 618.8 35.9 614 35.1 609.1 34.4 604.3 33.7 599.6 33 594.8 32.4 590.1 31.8 585.3 31.3 580.6 30.7 576 30.3 571.3 29.8 566.7 29.4 562.1 29.1 557.5 28.8 552.9 28.5 548.3 28.2 543.8 28 539.3 27.8 534.8 27.7 530.3 27.6 525.9 27.5 521.4 27.5 517 27.4 512.6 27.5 508.2 27.5 503.8 27.6 499.5 27.8 495.2 27.9 490.9 28.1 486.6 28.3 482.3 28.6 478.1 28.9 473.8 29.2 469.6 29.6 465.4 29.9 461.2 30.4 457.1 30.8 452.9 31.3 448.8 31.8 444.7 32.3 440.6 32.9 436.5 33.5 432.5 34.1 428.4 34.8 424.4 35.5 420.4 36.2 416.4 37 412.5 37.7 408.5 38.5 404.6 39.4 400.6 40.2 396.7 41.1 392.8 42.1 389 43 385.1 44 381.3 45 377.5 46 373.7 47.1M100.8 348.1 105.8 340.7 110.8 333.4 115.8 326.3 120.7 319.2 125.7 312.2 130.6 305.2 135.5 298.4 140.4 291.6 145.2 284.9 150.1 278.4 154.9 271.8 159.8 265.4 164.6 259.1 169.4 252.8 174.2 246.6 178.9 240.5 183.7 234.5 188.4 228.6 193.1 222.7 197.8 216.9 202.5 211.2 207.2 205.6 211.8 200 216.5 194.6 221.1 189.2 225.7 183.9 230.3 178.6 234.9 173.5 239.5 168.4 244 163.4 248.5 158.5 253.1 153.6 257.6 148.8 262.1 144.1 266.5 139.5 271 134.9 275.4 130.5 279.9 126.1 284.3 121.7 288.7 117.5 293.1 113.3 297.5 109.2 301.8 105.1 306.2 101.1 310.5 97.2 314.8 93.4 319.1 89.7 323.4 86 327.6 82.3 331.9 78.8 336.1 75.3 340.4 71.9 344.6 68.6 348.8 65.3 353 62.1 357.1 58.9 361.3 55.9 365.4 52.9 369.5 49.9 373.7 47.1" fill="none" stroke="#000" stroke-width="1.25"/><ellipse cx="100.85" cy="355.2" rx="5" ry="6" fill="#0000ff" stroke="#000" stroke-width="0.8"/><line x1="100.85" y1="355.2" x2="100.8" y2="348.1" stroke="#000" stroke-width="1.1" stroke-opacity="0.8"/><ellipse cx="350.2" cy="296.4" rx="4.7" ry="5.7" fill="#0000ff" stroke="#000" stroke-width="0.8"/><line x1="350.2" y1="296.4" x2="350" y2="308" stroke="#000" stroke-width="1.1" stroke-opacity="0.8"/><ellipse cx="633.65" cy="22.1" rx="5.2" ry="6.3" fill="#0000ff" stroke="#000" stroke-width="0.8"/><line x1="633.65" y1="22.1" x2="633.5" y2="38.4" stroke="#000" stroke-width="1.1" stroke-opacity="0.8"/><ellipse cx="362" cy="134.8" rx="4" ry="3" fill="#0000ff"/><g font-family="'Liberation Sans', sans-serif" fill="#000"><text transform="translate(84 39.3) scale(0.897 1)" font-size="22.8" text-anchor="end">93</text><text transform="translate(86 124.3) scale(0.897 1)" font-size="22.8" text-anchor="end">85.5</text><text transform="translate(87 209.6) scale(0.897 1)" font-size="22.8" text-anchor="end">78</text><text transform="translate(88.5 295.2) scale(0.897 1)" font-size="22.8" text-anchor="end">70.5</text><text transform="translate(90 380.4) scale(0.897 1)" font-size="22.8" text-anchor="end">63</text><text transform="translate(42.6 490.3) scale(0.9 1)" font-size="22" text-anchor="start">35.00</text><text transform="translate(104.6 514.4) scale(0.9 1)" font-size="22" text-anchor="start">27.50</text><text transform="translate(166.2 537.5) scale(0.9 1)" font-size="22" text-anchor="start">20.00</text><text transform="translate(229.2 561.8) scale(0.9 1)" font-size="22" text-anchor="start">12.50</text><text transform="translate(301.3 586.5) scale(0.9 1)" font-size="22" text-anchor="start">5.00</text><text transform="translate(362.8 586.3) scale(0.9 1)" font-size="22" text-anchor="start">1.90</text><text transform="translate(430.2 563.6) scale(0.9 1)" font-size="22" text-anchor="start">5.90</text><text transform="translate(499.3 541.7) scale(0.9 1)" font-size="22" text-anchor="start">9.90</text><text transform="translate(569.1 519) scale(0.9 1)" font-size="22" text-anchor="start">13.90</text><text transform="translate(637.8 497.1) scale(0.9 1)" font-size="22" text-anchor="start">17.90</text><text transform="translate(74 573.7) scale(0.808 1)" font-size="35" text-anchor="start">C: Time</text><text transform="translate(520 579.6) scale(0.774 1)" font-size="35" text-anchor="start">A: Flowrate</text><text transform="translate(21 414.5) rotate(-90) scale(1.116 1)" font-size="30.6">Turbidity-Removal&#160;&#160;(%)</text></g></svg></body></html>
